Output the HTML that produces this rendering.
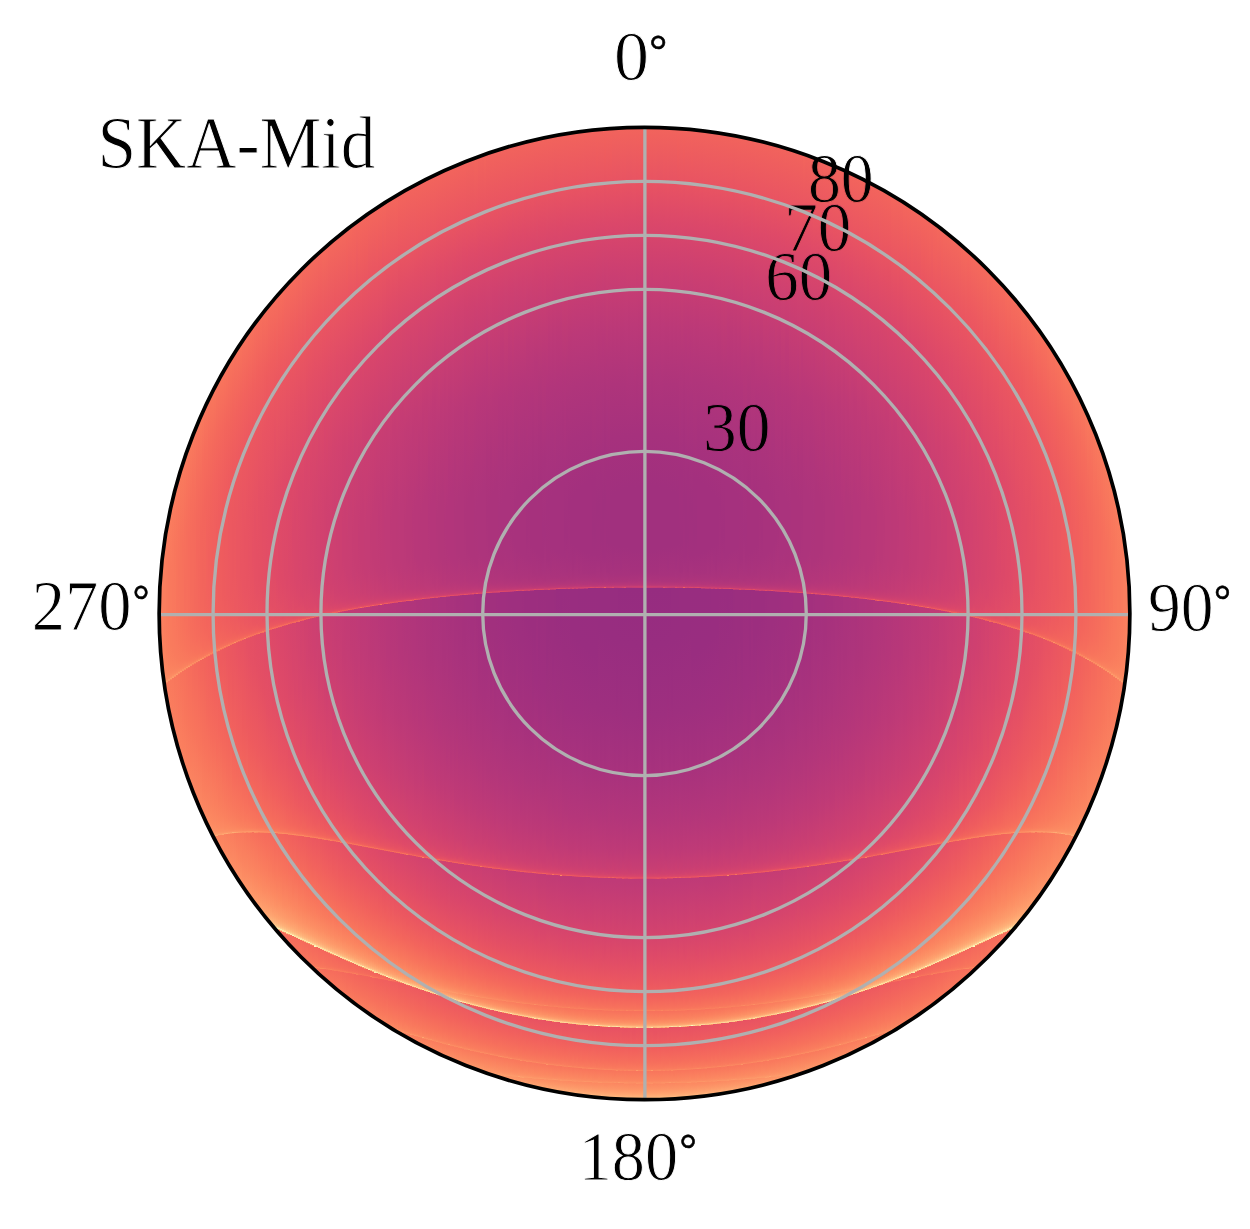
<!DOCTYPE html><html><head><meta charset="utf-8"><title>SKA-Mid</title><style>
html,body{margin:0;padding:0;background:#fff}
#p{position:relative;width:1250px;height:1229px;overflow:hidden;background:#fff}
#d{position:absolute;left:156px;top:126px;width:977px;height:977px;display:flex;clip-path:ellipse(485.4px 486.2px at 488.5px 487.5px)}
#d i{display:block;flex:0 0 2px;height:100%}
.c1{background:linear-gradient(#fa805f 456.5px,#fb835f 518.5px)}
.c2{background:linear-gradient(#fa7f5e 432.5px,#fa7f5e 491px,#fb8660 542.5px)}
.c3{background:linear-gradient(#fa7f5e 416.5px,#fa7d5e 476px,#fb835f 535.5px,#fb8761 547.5px,#fc8c63 554px,#fd9467 556.5px,#fd9869 557px,#fea571 558px,#fd9467 558.5px)}
.c4{background:linear-gradient(#fa7f5e 404.5px,#fa7d5e 422px,#fa7d5e 502.5px,#fb8560 544.5px,#fc8961 550.5px,#fc9065 555px,#fd9668 556px,#fe9d6c 556.5px,#fec68a 557px,#fec68a 557.5px,#fd9266 558px,#fa7d5e 558.5px,#fa7e5e 570.5px)}
.c5{background:linear-gradient(#fa7e5e 393.5px,#f97b5d 427px,#f97b5d 494.5px,#fa7f5e 527.5px,#fb8761 548.5px,#fc8c63 552.5px,#fd9266 554px,#fd9668 554.5px,#fe9d6c 555px,#fe9f6d 555.5px,#fd9668 556px,#fb8761 556.5px,#f97c5d 557px,#fa7f5e 581.5px)}
.c6{background:linear-gradient(#fa7d5e 383.5px,#f9795d 438px,#f9795d 485.5px,#fa7d5e 523px,#fa815f 539px,#fb8761 548.5px,#fc8c63 551.5px,#fc9065 552.5px,#fe9f6d 554px,#fd9668 554.5px,#fb8761 555px,#f97b5d 555.5px,#fa7f5e 591.5px)}
.c7{background:linear-gradient(#fa7d5e 374.5px,#f9785d 446px,#f97b5d 518.5px,#fa7f5e 536px,#fb8560 546.5px,#fc8d63 550.5px,#fd9266 551.5px,#fd9a6a 552px,#fe9d6c 552.5px,#fd9668 553px,#fb8761 553.5px,#f9795d 554px,#fa7f5e 600.5px)}
.c8{background:linear-gradient(#fa7d5e 366.5px,#f9785d 416.5px,#f9775d 455.5px,#f9785d 496px,#f97b5d 525px,#fa7f5e 538px,#fb8560 546px,#fc8961 548px,#fd9165 550px,#fd9869 550.5px,#fea570 551px,#fe9d6c 551.5px,#fb8360 552px,#f9785d 552.5px,#fa7f5e 608.5px)}
.c9{background:linear-gradient(#fa7d5e 358.5px,#f8765c 422px,#f9785d 508.5px,#f97b5d 529.5px,#fa815f 542px,#fb8761 546.5px,#fc8c63 548px,#fd9a6a 549.5px,#fd9869 550px,#fc8e64 550.5px,#fa7f5e 551px,#f8765c 551.5px,#fa815f 616.5px)}
.c10{background:linear-gradient(#fa7d5e 351.5px,#f9785d 386px,#f8745c 430.5px,#f8745c 478px,#f9785d 516.5px,#f97b5d 532.5px,#fa815f 542px,#fb8761 545.5px,#fc8a62 546.5px,#fd9266 547.5px,#fd9a6a 548px,#fe9d6c 548.5px,#fc9065 549px,#f9795d 549.5px,#f8765c 550px,#f9785d 572px,#fa815f 623.5px)}
.c11{background:linear-gradient(#fa7c5d 344.5px,#f8745c 407.5px,#f7725c 447px,#f8765c 511.5px,#f97b5d 534.5px,#fa815f 542px,#fc8961 545px,#fc9065 546px,#fd9869 546.5px,#fd9668 547px,#f97b5d 548px,#f8745c 548.5px,#f9795d 590px,#fa815f 621px,#fa815f 630.5px)}
.c12{background:linear-gradient(#f97b5d 338.5px,#f7725c 413.5px,#f7725c 488.5px,#f8765c 518px,#f97b5d 535.5px,#fa815f 541.5px,#fc8961 544px,#fc8c63 544.5px,#fe9d6c 545.5px,#fd9467 546px,#fa7d5e 546.5px,#f7725c 547px,#fb825f 636.5px)}
.c13{background:linear-gradient(#f97b5d 331.5px,#f7705c 420.5px,#f7725c 501px,#f8765c 523px,#f97b5d 536px,#fb835f 541.5px,#fb8761 542.5px,#fd9467 544px,#fd9266 544.5px,#f7715c 545.5px,#f9785d 592px,#fb835f 643.5px)}
.c14{background:linear-gradient(#f97b5d 326.5px,#f7705c 401px,#f66e5c 466.5px,#f7705c 495px,#f8745c 519px,#f9795d 534px,#fa815f 540px,#fc8861 541.5px,#fc8c63 542px,#fd9467 542.5px,#fd9366 543px,#fc8861 543.5px,#f9795d 544px,#f7705c 544.5px,#f8765c 588px,#fb835f 641.5px,#fb835f 648.5px)}
.c15{background:linear-gradient(#f97b5d 320.5px,#f8745c 359px,#f66e5c 406.5px,#f66e5c 450.5px,#f7705c 504.5px,#f8745c 523px,#f9795d 534.5px,#fa7f5e 538.5px,#fb8560 540px,#fc8961 540.5px,#fd9a6a 541.5px,#fd9265 542px,#f9785d 542.5px,#f66e5c 543px,#f8765c 594px,#fb8460 654.5px)}
.c16{background:linear-gradient(#f97a5d 314.5px,#f7705c 375px,#f66c5c 414px,#f66e5c 499px,#f8745c 525.5px,#f9795d 534.5px,#fa7e5e 537px,#fb8560 539px,#fc8a62 539.5px,#fd9b6b 540px,#fd9b6b 540.5px,#fb835f 541px,#f7725c 541.5px,#f66c5c 542px,#f8765c 599.5px,#fb8560 660.5px)}
.c17{background:linear-gradient(#f9795d 309.5px,#f9795d 320px,#f66e5c 378.5px,#f56b5c 424px,#f56b5c 466.5px,#f66e5c 506.5px,#f7725c 522.5px,#f9795d 534px,#fa7d5e 536px,#fb835f 537.5px,#fb8761 538px,#fd9869 539px,#fc9065 539.5px,#f8765c 540px,#f66c5c 540.5px,#f8745c 595.5px,#fa7d5e 636px,#fb8560 658.5px,#fb8560 665.5px)}
.c18{background:linear-gradient(#f9795d 304.5px,#f9795d 313.5px,#f7705c 355px,#f56b5c 402px,#f56b5c 485px,#f66e5c 512px,#f8745c 528px,#f97b5d 534.5px,#fb835f 536.5px,#fb8761 537px,#fc9065 537.5px,#fc9065 538px,#fa7f5e 538.5px,#f66e5c 539px,#f56b5c 539.5px,#f56b5c 546.5px,#f8765c 609.5px,#fb8761 670.5px)}
.c19{background:linear-gradient(#f9795d 299.5px,#f56b5c 387px,#f4695c 476px,#f66c5c 508px,#f7725c 526px,#f8765c 530.5px,#f97c5d 534px,#fb835f 535.5px,#fc8e64 536.5px,#fc8c63 537px,#f97b5d 537.5px,#f4695c 538px,#f4695c 541.5px,#f8745c 606px,#fb8761 675.5px)}
.c20{background:linear-gradient(#f9795d 294.5px,#f66e5c 349px,#f4695c 392.5px,#f4675c 423.5px,#f4695c 489px,#f66c5c 512.5px,#f8745c 529px,#f9795d 532.5px,#fa7d5e 533.5px,#fb8460 534.5px,#fc8e64 535px,#fc9065 535.5px,#f7705c 536.5px,#f4685c 537px,#f8745c 610.5px,#fb8861 680.5px)}
.c21{background:linear-gradient(#f9795d 290.5px,#f7705c 331px,#f4695c 379.5px,#f3665c 439px,#f4675c 481.5px,#f56b5c 508.5px,#f7725c 527px,#f9785d 531px,#fa7f5e 533px,#fb8560 533.5px,#fc9065 534px,#fd9366 534.5px,#fb835f 535px,#f66e5c 535.5px,#f4675c 536px,#f4675c 545px,#f8765c 623px,#fc8961 684.5px)}
.c22{background:linear-gradient(#f9785d 285.5px,#f9785d 296px,#f56b5c 355.5px,#f3655c 408px,#f3655c 471.5px,#f4695c 504px,#f66d5c 518.5px,#f8745c 528.5px,#f97a5d 531px,#fa7f5e 532px,#fb8560 532.5px,#fd9467 533px,#fd9b6b 533.5px,#fb8560 534px,#f3655c 534.5px,#f3655c 539.5px,#f8745c 619.5px,#fc8a62 689.5px)}
.c23{background:linear-gradient(#f9785d 281.5px,#f9785d 290px,#f66c5c 336px,#f3655c 391px,#f2645c 456px,#f4675c 499px,#f66c5c 520px,#f7725c 527px,#f8765c 529px,#f97b5d 530.5px,#fa7f5e 531px,#fb8761 531.5px,#fd9668 532px,#fd9668 532.5px,#f9795d 533px,#f2645c 533.5px,#f7725c 616px,#fa7f5e 662.5px,#fc8a62 693.5px)}
.c24{background:linear-gradient(#f9785d 277.5px,#f66c5c 328.5px,#f3655c 378px,#f2645c 476px,#f4675c 504.5px,#f66e5c 523.5px,#f8745c 527.5px,#f97b5d 529.5px,#fa7f5e 530px,#fc8a62 530.5px,#fc8e64 531px,#fb835f 531.5px,#f7705c 532px,#f2645c 532.5px,#f2645c 542.5px,#f7725c 620.5px,#fa7f5e 665.5px,#fc8c63 697.5px)}
.c25{background:linear-gradient(#f9785d 272.5px,#f66d5c 321.5px,#f3655c 367px,#f2625d 409.5px,#f2625d 464px,#f3655c 499.5px,#f56b5c 518.5px,#f66e5c 523.5px,#f8745c 527px,#f9785d 528px,#fa7f5e 529px,#fb8761 529.5px,#fc8961 530px,#f9795d 530.5px,#f4695c 531px,#f2625d 531.5px,#f2625d 536.5px,#f4695c 583.5px,#f8745c 631.5px,#fa7f5e 668px,#fc8e64 702.5px)}
.c26{background:linear-gradient(#f9785d 268.5px,#f66c5c 315px,#f2645c 372px,#f1605d 433.5px,#f2625d 478.5px,#f4675c 511px,#f66e5c 523.5px,#f7725c 525.5px,#f97b5d 527.5px,#fa7f5e 528px,#fd9467 529px,#fa815f 529.5px,#f1605d 530px,#f1605d 530.5px,#f4695c 589px,#f8765c 642px,#fb8560 685px,#fd9266 706.5px)}
.c27{background:linear-gradient(#f8775c 264.5px,#f56b5c 317.5px,#f2645c 362px,#f1605d 401px,#f1605d 468px,#f2645c 499.5px,#f4695c 517px,#f66c5c 521.5px,#f7735c 525px,#f9795d 526.5px,#fb8560 527.5px,#fb8660 528px,#f8735c 528.5px,#f1605d 529px,#f1605d 539.5px,#f66c5c 610.5px,#fa815f 678px,#fc8961 694.5px,#fc9065 704.5px,#fd9668 708.5px,#fd9a6a 709.5px,#fea16e 710.5px)}
.c28{background:linear-gradient(#f8765c 260.5px,#f8765c 269.5px,#f4695c 320.5px,#f2625d 367px,#f05f5e 417.5px,#f1605d 479.5px,#f2645c 503.5px,#f56b5c 520px,#f7705c 523.5px,#f8765c 525px,#fc8a62 527px,#f9785d 527.5px,#f05f5e 528px,#f1605d 547px,#f66c5c 615px,#f9785d 654.5px,#fb835f 684.5px,#fc8a62 698.5px,#fd9266 706px,#fd9c6b 709px,#fea16e 709.5px,#feaa74 710px,#fea671 710.5px,#fc9065 711px,#fb8761 711.5px,#fb8761 714.5px)}
.c29{background:linear-gradient(#f8765c 257.5px,#f8765c 264.5px,#f4695c 314px,#f2625d 357.5px,#f05f5e 394.5px,#f05f5e 469.5px,#f2625d 499px,#f4675c 515.5px,#f56b5c 520px,#f7705c 523px,#f9785d 524.5px,#fb8560 525.5px,#fb8460 526px,#f66e5c 526.5px,#ef5d5e 527px,#f2625d 566px,#f56b5c 611.5px,#fa7f5e 678px,#fb8761 694px,#fc9065 705px,#fd9869 708px,#fd9b6b 708.5px,#fea973 709.5px,#fe9d6c 710px,#fb8761 710.5px,#fc8961 717.5px)}
.c30{background:linear-gradient(#f8765c 253.5px,#f4695c 308px,#f2625d 349px,#ef5d5e 409px,#ef5d5e 454.5px,#f1605d 493.5px,#f3655c 513px,#f4695c 518px,#f66e5c 521.5px,#f9785d 523.5px,#fb8560 524.5px,#fb835f 525px,#f66e5c 525.5px,#ef5d5e 526px,#f05f5e 549px,#f66c5c 623px,#f9785d 660.5px,#fb835f 688.5px,#fc8a62 700.5px,#fd9266 706px,#fd9a6a 708px,#fe9f6d 708.5px,#feb078 709px,#feaa74 709.5px,#fc8a62 710px,#fb8560 710.5px,#fc8961 716.5px,#fc8961 721.5px)}
.c31{background:linear-gradient(#f8765c 249.5px,#f4695c 302px,#f1605d 354px,#ef5d5e 390px,#ef5d5e 470px,#f1605d 498px,#f4675c 516.5px,#f56b5c 519.5px,#f7735c 522px,#f97b5d 523px,#fb835f 523.5px,#fc8e64 524px,#fa7d5e 524.5px,#ee5b5e 525px,#ee5b5e 528px,#f4675c 604.5px,#f97b5d 673.5px,#fb8560 693.5px,#fc8c63 703px,#fd9165 705.5px,#fd9869 707.5px,#fea571 708.5px,#fe9d6c 709px,#fb8761 709.5px,#fb8560 710px,#fc8a62 725.5px)}
.c32{background:linear-gradient(#f8765c 246.5px,#f4675c 304.5px,#f05f5e 359.5px,#ee5b5e 404px,#ef5d5e 479.5px,#f1605d 501.5px,#f4675c 516.5px,#f56b5c 519px,#f7725c 521px,#f9795d 522px,#fb8761 522.5px,#fc8961 523px,#f7705c 523.5px,#ee5b5f 524px,#ee5b5e 536.5px,#f4675c 609px,#f97c5d 676px,#fb835f 692px,#fc8a62 702px,#fc9065 705.5px,#fd9668 707px,#fd9a6a 707.5px,#fea36f 708px,#fe9f6d 708.5px,#fc8c63 709px,#fb835f 709.5px,#fc8a62 728.5px)}
.c33{background:linear-gradient(#f8755c 242.5px,#f8745c 252px,#f4675c 299px,#f05f5e 350.5px,#ee5b5e 386.5px,#ee5b5e 469px,#f05f5e 497px,#f3655c 514.5px,#f4695c 517.5px,#f7705c 520px,#f9785d 521px,#fc8961 522px,#f8765c 522.5px,#ed5a5f 523px,#ed5a5f 529.5px,#f4675c 613.5px,#f7725c 652.5px,#fa7f5e 686.5px,#fc8962 701px,#fc9065 705.5px,#fd9467 706.5px,#fe9d6c 707.5px,#feb078 708px,#fea571 708.5px,#fb825f 709px,#fc8a62 726px,#fc8b63 732.5px)}
.c34{background:linear-gradient(#f8745c 239.5px,#f8745c 247.5px,#f3655c 302px,#ef5d5e 356.5px,#ed5a5f 401px,#ee5b5e 478px,#f05f5e 500px,#f3655c 514.5px,#f66d5c 518.5px,#f7725c 519.5px,#f9775d 520px,#fb8560 520.5px,#fb8661 521px,#f8775c 521.5px,#f3655c 522px,#ec595f 522.5px,#f2645c 602px,#f66d5c 638px,#f9795d 676px,#fb835f 695px,#fc8a62 703px,#fd9266 706px,#fd9a6a 707px,#fea570 707.5px,#fe9d6c 708px,#fb8661 708.5px,#fa815f 709px,#fc8c63 735.5px)}
.c35{background:linear-gradient(#f8745c 235.5px,#f8745c 242.5px,#f3655c 296.5px,#ef5d5e 348px,#ed5a5f 384px,#ed5a5f 467.5px,#ef5d5e 495px,#f2625d 510.5px,#f4695c 516.5px,#f7705c 518.5px,#fb835f 520px,#f8745c 520.5px,#ef5d5e 521px,#ec5860 521.5px,#ec5860 530px,#f2645c 606.5px,#f66e5c 647.5px,#f97b5d 682.5px,#fb835f 696px,#fc8961 702px,#fc9065 705.5px,#fd9768 706.5px,#fe9e6c 707px,#feaa74 707.5px,#fe9d6c 708px,#fa7f5e 708.5px,#fc8c63 733.5px,#fc8d63 739.5px)}
.c36{background:linear-gradient(#f8745c 232.5px,#f2645c 299.5px,#ee5b5e 354px,#ec5860 400px,#ed5a5f 476.5px,#f05f5e 504px,#f3655c 514px,#f4695c 516px,#f7705c 517.5px,#f97a5d 518.5px,#fc8c63 519px,#fb8560 519.5px,#f1615d 520px,#eb5760 520.5px,#eb5760 521.5px,#ee5b5e 564.5px,#f2645c 610.5px,#f66e5c 650.5px,#f9795d 680.5px,#fa815f 694.5px,#fc8961 702.5px,#fc8e64 705px,#fd9467 706px,#fd9a6a 706.5px,#fea772 707px,#fd9b6b 707.5px,#fa7f5e 708px,#fc8e64 742.5px)}
.c37{background:linear-gradient(#f8745c 229.5px,#f2645c 294px,#ee5b5e 346px,#ec5860 383px,#ec5860 465.5px,#ee5b5e 493.5px,#f2625d 511px,#f56b5c 516px,#f7725c 517px,#f9785d 517.5px,#fa815f 518px,#f97b5d 518.5px,#f3655c 519px,#eb5760 519.5px,#eb5760 531px,#f2625d 607px,#f8765c 674px,#fa7d5e 690px,#fb8560 700px,#fc8c63 704.5px,#fd9567 706px,#fd9c6b 706.5px,#fe9f6d 707px,#fc9065 707.5px,#fa7d5e 708px,#fb8761 729px,#fc8e64 740.5px,#fc8e64 745.5px)}
.c38{background:linear-gradient(#f8745c 226.5px,#f3655c 281px,#ee5b5e 338.5px,#eb5760 402px,#eb5760 448.5px,#ed5a5f 488px,#f05f5d 506.5px,#f3665c 513.5px,#f66c5c 515.5px,#f8745c 516.5px,#fa7d5e 517px,#fa7f5e 517.5px,#f56b5c 518px,#ea5661 518.5px,#ea5661 522.5px,#ed5a5f 565px,#f2625d 611.5px,#f66c5c 651px,#f9795d 684.5px,#fa815f 697px,#fc8a62 704px,#fc8e64 705px,#fd9668 706px,#feac76 706.5px,#fea973 707px,#fb8761 707.5px,#fa7d5e 708px,#fc9065 748.5px)}
.c39{background:linear-gradient(#f7735c 222.5px,#f2625d 292px,#ed5a5f 344.5px,#eb5760 383.5px,#ec5860 481.5px,#ef5d5e 503.5px,#f2645c 512px,#f56b5c 514.5px,#f7725c 515.5px,#f97b5d 516px,#fd9266 516.5px,#fc8961 517px,#ef5d5e 517.5px,#ea5561 518px,#ea5661 531.5px,#f2625d 615.5px,#f66c5c 654px,#f9795d 686.5px,#fa815f 698px,#fc8962 703.5px,#fd9266 705.5px,#fd9869 706px,#fea973 706.5px,#fe9d6c 707px,#f97b5d 707.5px,#fd9266 752.5px)}
.c40{background:linear-gradient(#f7725c 219.5px,#f7725c 227.5px,#f2625d 287px,#ed5a5f 337px,#ea5661 405.5px,#ea5661 446px,#ec5960 487px,#f05f5d 507.5px,#f2625d 510.5px,#f4695c 513.5px,#f8765c 515px,#fa815f 515.5px,#f9785d 516px,#ef5d5e 516.5px,#e95462 517px,#e95462 523.5px,#f1605d 612px,#f4695c 645.5px,#f8745c 676.5px,#f97b5d 691.5px,#fb835f 700.5px,#fc8961 703.5px,#fc8e64 705px,#fd9266 705.5px,#fd9b6b 706px,#fea16e 706.5px,#fc9065 707px,#f9795d 707.5px,#fc8961 738px,#fd9266 751.5px,#fd9266 755.5px)}
.c41{background:linear-gradient(#f7725c 216.5px,#f7725c 223.5px,#f2625d 282px,#ed5a5f 330px,#ea5661 385.5px,#ea5661 462.5px,#ec5860 490.5px,#f05f5e 507.5px,#f4675c 512.5px,#f66d5c 513.5px,#f7725c 514px,#fa7d5e 514.5px,#f97b5d 515px,#f2625d 515.5px,#e85362 516px,#e95462 532.5px,#f1605d 616px,#f56b5c 654.5px,#f8745c 678.5px,#f97b5d 693px,#fb835f 701px,#fb8761 703px,#fc8e64 705px,#fd9467 705.5px,#fea36f 706px,#fd9969 706.5px,#f9795d 707px,#fa815f 726px,#fc8e64 749px,#fd9266 752.5px,#fd9467 758.5px)}
.c42{background:linear-gradient(#f7725c 213.5px,#f7725c 219.5px,#f2645c 269.5px,#ed5a5f 323.5px,#ea5661 372px,#e95462 443px,#eb5760 485.5px,#ee5b5e 503px,#f2625d 510px,#f56b5c 512.5px,#f7705c 513px,#f9795d 513.5px,#f9795d 514px,#f66d5c 514.5px,#ef5d5e 515px,#e85362 515.5px,#e85362 524.5px,#f05f5e 612.5px,#f4675c 646px,#f8745c 681px,#f97b5d 694.5px,#fa815f 700.5px,#fc8961 704px,#fc8e64 705px,#fd9467 705.5px,#fe9f6d 706px,#fd9366 706.5px,#f9785d 707px,#fb8560 735px,#fd9467 756.5px,#fd9567 761.5px)}
.c43{background:linear-gradient(#f7725c 210.5px,#f2625d 272.5px,#ec5860 329.5px,#e95462 387.5px,#e95462 460.5px,#eb5760 489px,#ef5d5e 506px,#f2625d 509.5px,#f4695c 511.5px,#f66c5c 512px,#f8735c 512.5px,#fa7f5e 513px,#f8765c 513.5px,#ed5a5f 514px,#e75263 514.5px,#e75263 515px,#ee5b5e 600.5px,#f2645c 637px,#f66e5c 670px,#f9785d 690px,#fa7f5e 699.5px,#fb8560 703px,#fc8a62 704.5px,#fd9a6a 706px,#fc8a62 706.5px,#f9785d 707px,#fa815f 730px,#fc8c63 749.5px,#fd9668 761px,#fd9668 764.5px)}
.c44{background:linear-gradient(#f7725c 207.5px,#f2625d 268px,#ec5860 323px,#e85362 413px,#e95462 470.5px,#ec5860 497.5px,#f05f5d 507.5px,#f4675c 510.5px,#f66e5c 511.5px,#fc8861 512px,#fc9065 512.5px,#f66e5c 513px,#e75263 513.5px,#e75263 525px,#ee5c5e 605px,#f3655c 646.5px,#f7705c 677px,#f9795d 694.5px,#fa815f 701.5px,#fc8a62 704.5px,#fc8e64 705px,#fd9668 705.5px,#fea16e 706px,#fd9266 706.5px,#f8765c 707px,#fb8560 739px,#fc8c63 751px,#fd9668 761.5px,#fd9869 767.5px)}
.c45{background:linear-gradient(#f7725c 205.5px,#f2645c 256.5px,#ec5860 317px,#e85362 390px,#e85362 459px,#ea5661 487.5px,#ed5a5f 502px,#f1605d 508px,#f4675c 510px,#f9795d 511.5px,#f56b5c 512px,#e95462 512.5px,#e55064 513px,#e55064 516px,#ed5a5f 601px,#f56b5c 665.5px,#f8745c 687px,#fa7d5e 699.5px,#fa815f 702px,#fb8761 704px,#fc8e64 705px,#fd9869 705.5px,#fd9768 706px,#fb835f 706.5px,#f8755c 707px,#f8765c 710.5px,#fb8761 744px,#fd9a6a 769.5px)}
.c46{background:linear-gradient(#f7715c 202.5px,#f2625d 259.5px,#ec5860 311px,#e85362 376px,#e75263 434px,#e95462 482.5px,#ec5860 500px,#ee5c5e 504.5px,#f1605d 507.5px,#f4695c 509.5px,#f66e5c 510px,#f9785d 510.5px,#f8765c 511px,#f05f5e 511.5px,#e55064 512px,#e55064 526px,#ee5b5e 613px,#f3655c 652.5px,#f66e5c 677px,#f9785d 694.5px,#fa7f5e 701.5px,#fc8a62 704.5px,#fc8e64 705px,#fd9869 705.5px,#fe9f6d 706px,#fc8c63 706.5px,#f8745c 707px,#fb8560 742.5px,#fd9b6b 772.5px)}
.c47{background:linear-gradient(#f7705c 199.5px,#f7705c 206.5px,#f05f5e 270.5px,#eb5760 317px,#e75263 392px,#e75263 457px,#e95462 486.5px,#ed5a5f 502.5px,#f05f5e 506.5px,#f2645c 508px,#f56b5c 509px,#f9795d 510px,#f56b5c 510.5px,#e95462 511px,#e44f64 511.5px,#e55064 535px,#ee5b5e 617px,#f3655c 655.5px,#f66e5c 679.5px,#f8765c 693px,#fa7f5e 702px,#fc8961 704.5px,#fc8e64 705px,#fd9a6a 705.5px,#fd9b6b 706px,#fb8761 706.5px,#f7725c 707px,#fb8761 747.5px,#fe9d6c 775.5px)}
.c48{background:linear-gradient(#f7705c 196.5px,#f7705c 203px,#f1605d 258.5px,#eb5760 311px,#e75263 377.5px,#e65064 430.5px,#e85362 481px,#eb5760 498.5px,#f05f5e 506px,#f4675c 508px,#f66c5c 508.5px,#f8775c 509px,#f8745c 509.5px,#ef5d5e 510px,#e44f65 510.5px,#e55064 543px,#ee5b5e 621px,#f2645c 652.5px,#f66e5c 681.5px,#f8765c 694.5px,#fa7d5e 701.5px,#fb8560 704px,#fc8c63 705px,#fd9969 705.5px,#fc8d63 706px,#f7725c 706.5px,#f7725c 709px,#fc8961 752px,#fd9467 766.5px,#fe9d6c 774.5px,#fe9f6d 778.5px)}
.c49{background:linear-gradient(#f7705c 194.5px,#f05f5e 262px,#ea5661 317.5px,#e55064 394px,#e55064 455px,#e85362 485px,#eb5760 499px,#f05f5e 505.5px,#f2625d 506.5px,#f4695c 507.5px,#f8765c 508.5px,#f4695c 509px,#e85362 509.5px,#e34e65 510px,#e44f64 535.5px,#ed5a5f 617.5px,#f2645c 655.5px,#f66e5c 683.5px,#f8765c 695.5px,#fa7d5e 702px,#fb8761 704.5px,#fc8c63 705px,#fea36f 706px,#fc9065 706.5px,#f7705c 707px,#fb8560 748px,#fc9065 763.5px,#fe9f6d 777px,#fea16e 780.5px)}
.c50{background:linear-gradient(#f7705c 191.5px,#f1605d 250.5px,#eb5760 300.5px,#e75263 357.5px,#e54f64 428.5px,#e55064 465.5px,#ea5661 497px,#ef5d5e 504.5px,#f3655c 506.5px,#f56b5c 507px,#f8745c 507.5px,#f7705c 508px,#ed5a5f 508.5px,#e24d66 509px,#e44f64 543.5px,#ee5b5e 628px,#f2645c 658.5px,#f66e5c 685.5px,#f8765c 697px,#f97b5d 701.5px,#fa7f5e 703px,#fb8761 704.5px,#fc8a62 705px,#fd9668 705.5px,#fe9d6c 706px,#fc8a62 706.5px,#f7705c 707px,#f7705c 709.5px,#fb8761 752.5px,#fc9065 765px,#fea16e 779.5px,#fea36f 783.5px)}
.c51{background:linear-gradient(#f7705c 188.5px,#f1605d 246.5px,#ea5661 306.5px,#e55064 368.5px,#e44f64 452.5px,#e75263 483.5px,#eb5760 499.5px,#ee5c5e 503.5px,#f1605d 505px,#f4675c 506px,#f66d5c 506.5px,#fa7d5e 507px,#f9795d 507.5px,#ef5c5e 508px,#e24d66 508.5px,#e44f64 550.5px,#ed5a5f 625px,#f4695c 675.5px,#f7725c 693.5px,#f9795d 701px,#fa805e 703.5px,#fb8560 704.5px,#fc8961 705px,#fd9366 705.5px,#fd9266 706px,#fa7f5e 706.5px,#f66e5c 707px,#f66e5c 707.5px,#f9785d 728px,#fc8961 757px,#fd9467 770.5px,#fe9d6c 778.5px,#fea36f 781.5px,#fea772 786.5px)}
.c52{background:linear-gradient(#f7705c 186.5px,#f05f5e 250px,#ea5661 301px,#e44f64 381.5px,#e44f64 463.5px,#e75263 486px,#eb5760 500px,#ee5b5e 503px,#f1605d 504.5px,#f4685c 505.5px,#f7725c 506px,#f8765c 506.5px,#f1605d 507px,#e04c67 507.5px,#e44f64 557.5px,#ed5a5f 628.5px,#f56b5c 682px,#f8745c 697px,#f9795d 701.5px,#fb835f 704.5px,#fd9668 706px,#fb8560 706.5px,#f66e5c 707px,#f66e5c 710px,#fa7f5e 744px,#fc8961 758.5px,#fd9467 772px,#fea06d 781px,#fea571 783.5px,#fea974 788.5px)}
.c53{background:linear-gradient(#f66f5c 183.5px,#f05f5e 246px,#e95462 307.5px,#e34e65 399px,#e44f64 471px,#e85362 493px,#ec5860 501px,#ef5d5e 503px,#f2645c 504.5px,#f56a5c 505px,#f9785d 505.5px,#fb835f 506px,#f56b5c 506.5px,#e04c67 507px,#e44f64 563.5px,#ed5a5f 632px,#f2625d 661.5px,#f56b5c 684px,#f7725c 696px,#f9785d 701px,#fa7f5e 704px,#fb8761 705px,#fd9467 706px,#fb8560 706.5px,#f66c5c 707px,#f66c5c 708px,#fa7d5e 742.5px,#fc8c63 765px,#fd9b6b 779.5px,#feaa74 787.5px,#feae77 791.5px)}
.c54{background:linear-gradient(#f66e5c 181.5px,#f66e5c 188.5px,#ef5d5e 249.5px,#e95462 302px,#e34e65 383px,#e34e65 461.5px,#e55064 484.5px,#ea5661 498.5px,#ed5a5f 501.5px,#f1615d 503.5px,#f3655c 504px,#f8745c 505px,#f4675c 505.5px,#e55064 506px,#df4a68 506.5px,#e44f64 569.5px,#ed5a5f 635.5px,#f2645c 669px,#f66c5c 689px,#f8745c 699px,#f9795d 702.5px,#fa815f 704.5px,#fb8560 705px,#fc8a62 705.5px,#fd9869 706px,#fc8962 706.5px,#f56c5c 707px,#f66c5c 710.5px,#fa7d5e 744.5px,#fc8c63 766.5px,#fe9d6c 782px,#feb078 791px,#feb27a 793.5px)}
.c55{background:linear-gradient(#f66e5c 178.5px,#f66e5c 185px,#ee5b5e 253px,#e95462 297.5px,#e34e65 371.5px,#e24d66 447px,#e44f64 480px,#e95461 497px,#ec5860 500.5px,#f05f5e 502.5px,#f3665c 503.5px,#f7725c 504px,#f8765c 504.5px,#f05f5e 505px,#df4a68 505.5px,#e55064 585px,#ee5b5e 645px,#f2645c 671.5px,#f66d5c 691px,#f7725c 698px,#f9795d 703px,#fb835f 705px,#fc8961 705.5px,#fd9668 706px,#fc8961 706.5px,#f56b5c 707px,#f8745c 729px,#fb835f 755.5px,#fd9467 776px,#fea16e 785.5px,#fea973 789px,#feb47b 792.5px,#febb81 796.5px)}
.c56{background:linear-gradient(#f66e5c 176.5px,#ef5d5e 242px,#e95462 292.5px,#e24d66 385.5px,#e24d66 459.5px,#e44f64 483px,#e95462 497px,#eb5760 499.5px,#f05f5e 502px,#f4675c 503px,#f9795d 503.5px,#f7705c 504px,#e65164 504.5px,#de4968 505px,#e55064 590px,#ee5b5e 648px,#f56b5c 689.5px,#f7725c 699px,#f9795d 703.5px,#fa815f 705px,#fb8761 705.5px,#fd9467 706px,#fc8e64 706.5px,#f8745c 707px,#f56a5c 707.5px,#f97b5d 745px,#fc8962 765px,#fd9869 780.5px,#fea973 790px,#feb97f 794.5px,#fec488 798.5px)}
.c57{background:linear-gradient(#f66e5c 173.5px,#ef5d5e 238.5px,#e95462 288px,#e24d66 373.5px,#e04c67 443px,#e34e65 478.5px,#e85362 495.5px,#ed5a5f 500.5px,#f2625d 502px,#f7705c 503px,#f2645c 503.5px,#e44f64 504px,#de4968 504.5px,#e04c67 552px,#e85362 611px,#ef5d5e 656.5px,#f56b5c 691px,#f7725c 700px,#f8765c 702.5px,#fa7f5e 705px,#fb835f 705.5px,#fc8c63 706px,#fc9065 706.5px,#fa7e5e 707px,#f4695c 707.5px,#f8745c 733px,#fb8560 761.5px,#fd9467 778.5px,#fea571 789.5px,#feb179 793.5px,#feba80 795.5px,#fec68a 797.5px,#fece91 799.5px,#fddc9e 801.5px)}
.c58{background:linear-gradient(#f66e5c 171.5px,#ef5d5e 235px,#e85362 294px,#e04c67 387.5px,#e04c67 457px,#e34e65 481.5px,#e85362 495.5px,#ec5860 499.5px,#f05f5e 501px,#f2645c 501.5px,#f66e5c 502px,#f8745c 502.5px,#f05f5d 503px,#dc4869 503.5px,#e34e65 580.5px,#ec5860 642px,#f1605d 669.5px,#f4695c 689.5px,#f66e5c 697.5px,#f8765c 703px,#fa7d5e 705px,#fa815f 705.5px,#fc9065 706.5px,#fa815f 707px,#f4685c 707.5px,#f9795d 745.5px,#fc8961 768px,#fd9b6b 785.5px,#fea571 790.5px,#feaf77 794px,#febd82 797px,#fecb8e 798.5px,#fde3a5 800.5px,#fdebac 801px,#fcf7b9 801.5px,#fcfdbf 802px,#fcfdbf 803px,#febd82 803.5px)}
.c59{background:linear-gradient(#f66e5c 169.5px,#f1605d 218.5px,#eb5760 261.5px,#e55064 312px,#e04c67 375.5px,#df4a68 438.5px,#e44f64 488.5px,#e75263 494px,#eb5760 498.5px,#f05f5d 500.5px,#f3655c 501px,#f66e5c 501.5px,#f7725c 502px,#ef5d5e 502.5px,#dc4869 503px,#e04c67 564.5px,#ea5661 633px,#f05f5e 667px,#f66c5c 696.5px,#f7725c 701.5px,#f8765c 703.5px,#f97b5d 705px,#fb8560 706px,#fd9869 706.5px,#fc8c63 707px,#f4675c 707.5px,#f66e5c 726px,#f97b5d 750.5px,#fc8961 769.5px,#fd9266 779.5px,#fea16e 790px,#feaf77 795px,#feb77e 797px,#febe83 798px,#fecc8f 799.5px,#fed597 800px,#fde2a3 800.5px,#fcfdbf 801px,#fcfbbd 802px,#f66e5c 802.5px,#f66e5c 805.5px)}
.c60{background:linear-gradient(#f66e5c 166.5px,#eb5760 257.5px,#e04c67 365.5px,#df4a68 454.5px,#e34e65 485.5px,#e75263 494px,#ea5661 497.5px,#ee5c5e 499.5px,#f3655c 500.5px,#f7725c 501px,#f66e5c 501.5px,#ea5661 502px,#db476a 502.5px,#e24d66 581px,#eb5760 642.5px,#f2625d 678.5px,#f56b5c 695.5px,#f7705c 701px,#f9785d 704.5px,#fb825f 706px,#fc8c63 706.5px,#fc8961 707px,#f7705c 707.5px,#f3665c 708px,#f9785d 746px,#fa815f 761px,#fc9065 779px,#fd9668 784px,#fea36f 792px,#feae77 796px,#feb77e 798px,#fec287 799.5px,#fecd90 800.5px,#fed799 801px,#fde7a9 801.5px,#fcfdbf 802px,#fcf7b9 802.5px,#fc8c63 803px,#f66e5c 803.5px,#f66e5c 808.5px)}
.c61{background:linear-gradient(#f66d5c 164.5px,#ef5d5e 225px,#ea5661 262px,#e04c67 357px,#de4968 429px,#df4a68 463px,#e34e65 487px,#e95462 496.5px,#ee5c5e 499px,#f1605d 499.5px,#f66f5c 500.5px,#f3655c 501px,#e55064 501.5px,#db476a 502px,#df4a68 564.5px,#e95462 633px,#f05f5e 672px,#f56b5c 696.5px,#f66e5c 700.5px,#f9775d 704.5px,#fa7f5e 706px,#fb8761 706.5px,#fd9266 707px,#fb835f 707.5px,#f3655c 708px,#f8765c 744.5px,#fc8961 772.5px,#fd9a6a 788px,#fea36f 793px,#feae77 797px,#feb77e 799px,#fec88c 801px,#fed89a 802px,#fcf2b4 802.5px,#fcf4b6 803px,#fec185 803.5px,#f66c5c 804px,#f66e5c 805px,#f66e5c 810.5px)}
.c62{background:linear-gradient(#f66d5c 162.5px,#f66c5c 169.5px,#ed5a5f 235.5px,#e75263 286.5px,#df4a68 367.5px,#de4968 451.5px,#e04c67 478px,#e65064 493px,#ea5661 497px,#ee5c5e 498.5px,#f1605d 499px,#f56a5c 499.5px,#f9795d 500px,#f4685c 500.5px,#d9466b 501px,#df4a68 570.5px,#e95462 636.5px,#f05f5d 674.5px,#f56b5c 698px,#f7725c 703.5px,#f9795d 705.5px,#fb835f 706.5px,#fd9266 707px,#fb8761 707.5px,#f2645c 708px,#f8765c 746.5px,#fc8961 774px,#fd9a6a 789px,#fea36f 794px,#feac76 797.5px,#feb77e 800px,#fec287 801.5px,#fecf92 802.5px,#fdda9c 803px,#fceeb0 803.5px,#fcf1b2 804px,#fec488 804.5px,#f66c5c 805px,#f66f5c 812.5px)}
.c63{background:linear-gradient(#f66c5c 159.5px,#f66c5c 166.5px,#f2625d 199.5px,#ea5661 254.5px,#df4a68 358.5px,#dd4969 427.5px,#de4968 460.5px,#e24d66 485.5px,#e55064 493px,#e95462 496px,#ee5c5e 498px,#f1605d 498.5px,#f66e5c 499px,#f66c5c 499.5px,#e85362 500px,#d9466b 500.5px,#df4a68 576px,#e95462 639.5px,#f05f5e 676.5px,#f56b5c 699px,#f7725c 704px,#f9785d 705.5px,#fa7f5e 706.5px,#fc8961 707px,#fc8e64 707.5px,#f97b5d 708px,#f2645c 708.5px,#f8745c 745px,#fa815f 766px,#fc8c63 779.5px,#fd9c6b 791.5px,#fea571 796px,#feb078 799.5px,#febb81 801.5px,#feca8d 803px,#fed194 803.5px,#fddd9e 804px,#fcecae 804.5px,#fcf6b8 805px,#fed395 805.5px,#f66c5c 806px,#f7705c 815.5px)}
.c64{background:linear-gradient(#f66c5c 157.5px,#ea5661 251px,#df4a68 351px,#dc4869 447.5px,#e04c67 482.5px,#e34e65 489.5px,#e85362 495px,#ee5c5e 497.5px,#f2625d 498px,#f66c5c 498.5px,#f56b5c 499px,#e95462 499.5px,#d8456c 500px,#de4968 570.5px,#e75263 630px,#ef5d5e 674.5px,#f4695c 698px,#f66c5c 701.5px,#f8765c 705.5px,#fa7c5d 706.5px,#fc8c63 707.5px,#fa7d5e 708px,#f2625d 708.5px,#f8745c 747px,#fc8a62 779px,#fd9a6a 791.5px,#fea16e 795.5px,#feb078 800.5px,#febf84 803px,#feca8d 804px,#fed395 804.5px,#fcefb1 805.5px,#fddd9f 806px,#fd9a6a 806.5px,#f66c5c 807px,#f7705c 813px,#f7705c 817.5px)}
.c65{background:linear-gradient(#f66c5c 155.5px,#ea5661 247.5px,#e34e65 305px,#de4968 360.5px,#dc4869 458px,#e04c67 484px,#e75263 494px,#ec5860 496.5px,#f2625d 497.5px,#f66c5c 498px,#f66c5c 498.5px,#ea5661 499px,#d7456c 499.5px,#de4968 575.5px,#e85362 639.5px,#ef5d5e 676.5px,#f4675c 697px,#f56b5c 701px,#f7725c 705px,#f9795d 706.5px,#fa7f5e 707px,#fc8c63 707.5px,#fb835f 708px,#f4675c 708.5px,#f2625d 709px,#f8765c 752px,#fc8b62 780.5px,#fd9869 791.5px,#fea370 797.5px,#feb078 801.5px,#febb81 803.5px,#fec488 804.5px,#fed395 805.5px,#fcf2b4 806.5px,#fcf0b2 807px,#fec287 807.5px,#f66c5c 808px,#f7705c 814.5px,#f7705c 819.5px)}
.c66{background:linear-gradient(#f66c5c 153.5px,#ea5661 244.5px,#de4968 352.5px,#db476a 443px,#df4a68 481px,#e34e65 490px,#e95462 495px,#ee5c5e 496.5px,#f66c5c 497.5px,#f1605d 498px,#de4968 498.5px,#d6456c 499px,#dc4869 570px,#e55064 630px,#ed5a5f 670px,#f3655c 696px,#f66c5c 703px,#f7725c 705.5px,#f97b5d 707px,#fb835f 707.5px,#fc8e64 708px,#fa7f5e 708.5px,#f1615d 709px,#f7705c 744px,#fb8560 775.5px,#fd9668 791.5px,#fe9e6c 796px,#fea973 800.5px,#feb67c 803.5px,#fec589 805.5px,#fed597 806.5px,#fde9aa 807px,#fde9aa 807.5px,#fec88c 808px,#fd9467 808.5px,#f66c5c 809px,#f7715c 821.5px)}
.c67{background:linear-gradient(#f66c5c 151.5px,#ef5d5e 206.5px,#e95462 249px,#e24d66 306.5px,#dc4869 362.5px,#db476a 455px,#df4a68 482.5px,#e24d66 488.5px,#e75263 493.5px,#ea5661 495px,#ee5c5e 496px,#f66c5c 497px,#ed5a5f 497.5px,#d6446d 498px,#db476a 564.5px,#e55064 633.5px,#ee5c5e 677px,#f4675c 699.5px,#f66c5c 703.5px,#f8735c 706px,#fa7d5e 707.5px,#fc8a62 708px,#fb835f 708.5px,#f4695c 709px,#f1605d 709.5px,#f66e5c 742.5px,#fb8560 777px,#fd9668 792.5px,#fe9f6d 798px,#fea973 801.5px,#feb078 803.5px,#fec185 806px,#fecd90 807px,#fed799 807.5px,#fde7a9 808px,#fceeb0 808.5px,#fec88c 809px,#f56b5c 809.5px,#f7725c 823.5px)}
.c68{background:linear-gradient(#f66c5c 149.5px,#ee5b5e 210px,#e85362 254px,#df4a68 325.5px,#d9466b 407.5px,#db476a 462px,#e04c67 486.5px,#e55064 492.5px,#ea5661 494.5px,#ee5c5e 495.5px,#f56b5c 496.5px,#ec5860 497px,#d5446d 497.5px,#d8456c 544.5px,#e44f64 630px,#ea5661 660px,#f05f5e 687px,#f3655c 698.5px,#f66d5c 704.5px,#f8765c 707px,#f9795d 707.5px,#fc8c63 708.5px,#f97c5d 709px,#f0605d 709.5px,#f1605d 713px,#f4695c 733.5px,#f97b5d 766px,#fc8a62 784.5px,#fd9869 795px,#fea772 802px,#feb67c 805.5px,#fec185 807px,#fecd90 808px,#fed89a 808.5px,#fcf2b3 809px,#fcfdbf 809.5px,#fed89a 810px,#f56b5c 810.5px,#f7725c 821.5px,#f7725c 825.5px)}
.c69{background:linear-gradient(#f66c5c 147.5px,#ec5860 220.5px,#e34e65 287px,#d9466b 389px,#d9466b 451.5px,#de4968 481px,#e44f64 491.5px,#e85362 493.5px,#ee5b5e 495px,#f3655c 495.5px,#f9785d 496px,#f4675c 496.5px,#d5446d 497px,#d9466b 564px,#e44f64 633.5px,#ec5860 672.5px,#f2645c 697.5px,#f66c5c 705px,#f8745c 707px,#f9785d 707.5px,#fa7d5e 708px,#fc8a62 708.5px,#fb8761 709px,#f66c5c 709.5px,#f05f5e 710px,#f7725c 753px,#fb8761 782px,#fd9668 795px,#fea772 803px,#feb078 805.5px,#fec185 808px,#fecf92 809px,#fdda9c 809.5px,#fdecae 810px,#fde2a3 810.5px,#fea973 811px,#f56b5c 811.5px,#f7725c 822.5px,#f7725c 827.5px)}
.c70{background:linear-gradient(#f56c5c 145.5px,#ef5d5e 198px,#e95462 239px,#e24d66 293px,#db476a 357px,#d8466b 425.5px,#d9466b 459.5px,#de4968 482px,#e04c67 487.5px,#e55064 492px,#eb5760 494px,#ee5b5e 494.5px,#f3655c 495px,#f4695c 495.5px,#e95462 496px,#d3436e 496.5px,#db476a 580.5px,#e55064 643px,#ed5a5f 679px,#f3655c 700.5px,#f66c5c 705.5px,#f8745c 707.5px,#f9795d 708px,#fc8a62 709px,#f9795d 709.5px,#f05e5e 710px,#f2645c 726px,#f7705c 751.5px,#fb8761 783.5px,#fd9467 795px,#fea571 803.5px,#feb078 806.5px,#febd82 808.5px,#fecf92 810px,#fcecae 811px,#fddb9d 811.5px,#fd9869 812px,#f56b5c 812.5px,#f8745c 829.5px)}
.c71{background:linear-gradient(#f56b5c 143.5px,#ec5860 214.5px,#e34e65 279px,#d9466b 367.5px,#d8456c 447.5px,#dc4869 479px,#e34e65 490px,#e95462 493px,#ee5b5e 494px,#f4675c 494.5px,#fa7d5e 495px,#f66c5c 495.5px,#d3436e 496px,#d8456c 563.5px,#e55064 646px,#ec5860 677px,#f2645c 700px,#f4695c 704.5px,#f7725c 707.5px,#f97b5d 708.5px,#fb8761 709px,#fa815f 709.5px,#f3655c 710px,#ef5d5e 710.5px,#ef5d5e 711px,#f7725c 756.5px,#fa7f5e 776px,#fc8a62 788.5px,#fd9668 797.5px,#fe9d6c 801.5px,#fea571 804.5px,#feb078 807.5px,#febd82 809.5px,#fec88c 810.5px,#fed194 811px,#fceeb0 812px,#fde5a7 812.5px,#feb179 813px,#f56b5c 813.5px,#f8745c 828px,#f8745c 831.5px)}
.c72{background:linear-gradient(#f56b5c 141.5px,#f56b5c 147.5px,#eb5760 218.5px,#e44f64 266px,#d9466b 359px,#d7456c 420.5px,#d9466b 468.5px,#df4a68 486px,#e34e65 490px,#e75263 492px,#ee5b5e 493.5px,#f4675c 494px,#f4695c 494.5px,#e75263 495px,#d2426f 495.5px,#d3436e 526px,#df4a68 615.5px,#e55064 649px,#ec5860 679px,#f1605d 696.5px,#f4675c 704px,#f56b5c 706px,#f7735c 708px,#fb8560 709.5px,#f7725c 710px,#ef5d5e 710.5px,#ef5d5e 713.5px,#f4695c 741.5px,#f9785d 767px,#fb835f 782px,#fd9467 797.5px,#fea36f 805px,#feb67c 809.5px,#fec287 811px,#fed395 812px,#fde5a7 812.5px,#fcfbbd 813px,#fde3a5 813.5px,#fc8e64 814px,#f56b5c 814.5px,#f8745c 829px,#f8745c 833.5px)}
.c73{background:linear-gradient(#f56b5c 139.5px,#eb5760 215.5px,#e24d66 280.5px,#d8456c 370.5px,#d6456c 442px,#d9466b 471.5px,#e04c67 488px,#e44f64 490.5px,#eb5660 492.5px,#ee5b5e 493px,#f4695c 493.5px,#f7725c 494px,#ed5a5f 494.5px,#d2426f 495px,#d6456c 563px,#e34e65 639.5px,#ec5960 681.5px,#f2645c 702px,#f56b5c 706.5px,#f7705c 708px,#f9795d 709px,#fc8b62 709.5px,#fb835f 710px,#f1605d 710.5px,#ee5b5e 711px,#f66d5c 750.5px,#fb835f 783.5px,#fc9065 796px,#fd9a6a 802px,#fea36f 806px,#feb078 809.5px,#feb97f 811px,#fec287 812px,#feca8d 812.5px,#fed496 813px,#fde3a5 813.5px,#fde7a9 814px,#fec185 814.5px,#f56a5c 815px,#f8765c 835.5px)}
.c74{background:linear-gradient(#f56b5c 137.5px,#e85362 234.5px,#d9466b 345px,#d6456c 384.5px,#d6456c 452.5px,#db476a 479px,#df4a68 486.5px,#e44f64 490px,#ea5661 492px,#ed5a5f 492.5px,#f4695c 493px,#f3655c 493.5px,#df4a68 494px,#d0416f 494.5px,#d6456c 568.5px,#e34e65 642.5px,#ec5860 683.5px,#f2645c 703px,#f5695c 706.5px,#f7715c 708.5px,#fa7c5d 709.5px,#fc8c63 710px,#fa7d5e 710.5px,#ee5b5e 711px,#f56b5c 749px,#f9785d 770.5px,#fb835f 785px,#fd9266 798.5px,#fd9b6b 804px,#fea36f 807px,#feb078 810.5px,#feb97f 812px,#fecb8e 813.5px,#fed698 814px,#fde9ab 814.5px,#fcecae 815px,#febf84 815.5px,#f4695c 816px,#f8775c 837.5px)}
.c75{background:linear-gradient(#f56b5c 135.5px,#ec5860 203.5px,#e44f64 255.5px,#d9466b 338.5px,#d5446d 407px,#d6456c 459px,#dc4869 483px,#df4a68 486.5px,#e55064 490.5px,#ed5a5f 492px,#f4695c 492.5px,#f3655c 493px,#df4a68 493.5px,#d0416f 494px,#d2426f 533px,#df4a68 626px,#e75263 662.5px,#ec5960 685.5px,#f1605d 700.5px,#f4695c 707px,#f7725c 709px,#f8775c 709.5px,#fb835f 710px,#fb8560 710.5px,#f66d5c 711px,#ed5a5f 711.5px,#f2645c 736.5px,#f7705c 760.5px,#fa7f5e 782px,#fc8e64 797px,#fe9d6c 806px,#feb078 811.5px,#feba80 813px,#fec488 814px,#fecc8f 814.5px,#fde7a9 815.5px,#fde9aa 816px,#febf84 816.5px,#f4695c 817px,#f9785d 836.5px,#f9785d 839.5px)}
.c76{background:linear-gradient(#f56b5c 133.5px,#ed5a5f 194.5px,#e55064 244px,#dc4869 308.5px,#d5446d 389px,#d5446d 448.5px,#db476a 481px,#df4a68 486.5px,#e55064 490px,#e95461 491px,#ed5a5f 491.5px,#f4675c 492px,#f2645c 492.5px,#de4968 493px,#cf4070 493.5px,#d0416f 523px,#dc4869 614.5px,#e44f64 654.5px,#eb5760 683.5px,#f05f5e 699.5px,#f3665c 706px,#f66f5c 709px,#f7725c 709.5px,#fb835f 710.5px,#f8745c 711px,#ed5a5f 711.5px,#ed5a5f 714px,#f3655c 742px,#f8745c 768px,#fa7f5e 783.5px,#fd9266 801px,#fea16e 808.5px,#feb078 812.5px,#febf84 814.5px,#fec488 815px,#fecd90 815.5px,#fdda9c 816px,#fcf9bb 816.5px,#fdebac 817px,#fd9266 817.5px,#f4695c 818px,#f7705c 830px,#f97b5d 841.5px)}
.c77{background:linear-gradient(#f56b5c 131.5px,#eb5760 204.5px,#e34e65 257.5px,#d8456c 341px,#d4436e 416.5px,#d5446d 456px,#db476a 481.5px,#de4968 485.5px,#e34e65 489px,#e75263 490px,#ec5860 491px,#f3655c 491.5px,#f1615d 492px,#dd4968 492.5px,#cf4070 493px,#d0416f 531.5px,#de4968 625.5px,#e55064 662.5px,#eb5760 685.5px,#f05f5e 700.5px,#f3655c 706.5px,#f66c5c 709px,#f8745c 710px,#fb8761 711px,#f8745c 711.5px,#ec5960 712px,#f2645c 740.5px,#f7705c 764px,#fa7f5e 785px,#fc8e64 799.5px,#fe9d6c 808px,#feb078 813.5px,#febf84 815.5px,#fec68a 816px,#fece91 816.5px,#fdde9f 817px,#fde7a9 817.5px,#fed799 818px,#fea16e 818.5px,#f4695c 819px,#f8765c 837px,#fa7d5e 841px,#fc8961 843.5px)}
.c78{background:linear-gradient(#f56b5c 129.5px,#ec5860 195.5px,#e44f64 246px,#d9466b 322px,#d3436e 394.5px,#d5446d 461px,#db476a 482px,#de4968 485.5px,#e44f64 489px,#e95462 490px,#ec5860 490.5px,#f2645c 491px,#f4695c 491.5px,#e85362 492px,#cd4071 492.5px,#cf4070 521px,#dc4869 622px,#ea5661 683.5px,#ee5b5e 697px,#f2625d 705px,#f4675c 708px,#f66d5c 709.5px,#f8765c 710.5px,#fb835f 711px,#f97a5d 711.5px,#f05f5e 712px,#ec5860 712.5px,#ec5860 714px,#f3655c 746px,#f7725c 768.5px,#fa815f 788.5px,#fc9065 802px,#fe9f6d 810px,#feb078 814.5px,#febb81 816px,#fec68a 817px,#fecf92 817.5px,#fde2a3 818px,#fdebac 818.5px,#fecd90 819px,#fc8961 819.5px,#f4695c 820px,#f7705c 832px,#f9795d 839.5px,#fa7d5e 840.5px,#fb835f 841px,#fd9467 841.5px,#fd9266 842px,#f9785d 842.5px,#f7725c 843px,#f7725c 845.5px)}
.c79{background:linear-gradient(#f56b5c 127.5px,#ec5860 193px,#e55064 235px,#db476a 306px,#d3436e 381.5px,#d3436e 452px,#d8466b 477px,#df4a68 486.5px,#e85362 489.5px,#eb5760 490px,#f2625d 490.5px,#f2625d 491px,#e24d66 491.5px,#cd4071 492px,#cf4070 529.5px,#dc4869 625px,#e34e65 657px,#ea5661 685.5px,#ee5b5e 698.5px,#f2645c 707px,#f56b5c 709.5px,#f7725c 710.5px,#fb825f 711.5px,#f7725c 712px,#eb5860 712.5px,#f2625d 740.5px,#f8745c 773px,#fb835f 792px,#fd9266 804.5px,#fe9f6d 811px,#feb078 815.5px,#febb81 817px,#fec88c 818px,#fed194 818.5px,#fcedaf 819px,#fcf0b2 819.5px,#fcfdbf 820px,#fcfdbf 820.5px,#f4695c 821px,#f8745c 837px,#f97b5d 840.5px,#fa7f5e 841px,#fc8961 841.5px,#fa815f 842px,#f7725c 842.5px,#f8735c 847.5px)}
.c80{background:linear-gradient(#f56b5c 125.5px,#ec5860 190.5px,#e34e65 247.5px,#d6456c 337.5px,#d2426f 402.5px,#d3436e 458px,#d9466b 480.5px,#de4968 485.5px,#e34e65 488px,#ea5661 489.5px,#f1605d 490px,#f2645c 490.5px,#e55064 491px,#cc3f71 491.5px,#cd4071 518.5px,#d9466b 613.5px,#e24d66 654px,#e95462 683.5px,#ed5a5f 697px,#f1605d 705.5px,#f3655c 708.5px,#f56b5c 710px,#f8735c 711px,#fa7f5e 711.5px,#fa7d5e 712px,#f3655c 712.5px,#eb5760 713px,#eb5760 714px,#f2625d 742.5px,#f66e5c 766px,#fa7d5e 787px,#fc8e64 803px,#fe9f6d 812px,#fea772 814.5px,#feb179 816.5px,#fec185 818.5px,#fec88c 819px,#fed395 819.5px,#fde5a7 820px,#fde7a9 820.5px,#feb97f 821px,#f4685c 821.5px,#f8745c 837.5px,#f97a5d 840.5px,#fa7d5e 841px,#fb8560 841.5px,#fa815f 842px,#f8745c 842.5px,#f7725c 843px,#f8745c 849.5px)}
.c81{background:linear-gradient(#f56a5c 123.5px,#ec5860 188px,#e34e65 244.5px,#d8456c 319px,#d2426f 386.5px,#d2426f 447.5px,#d8456c 478.5px,#db476a 483px,#df4a68 486px,#e44f64 488px,#ea5661 489px,#f3655c 490px,#e75263 490.5px,#cc3f71 491px,#d0416f 558.5px,#df4a68 645px,#e95462 685.5px,#f05f5d 705px,#f3655c 709px,#f66e5c 711px,#f8765c 711.5px,#fc8c63 712px,#fa7f5e 712.5px,#eb5760 713px,#f4675c 755px,#fa7d5e 788.5px,#fc9065 805.5px,#fd9869 810px,#fea571 815px,#feae77 817px,#feb77e 818.5px,#feca8d 820px,#fed597 820.5px,#fde3a5 821px,#fde3a5 821.5px,#feb97f 822px,#f4675c 822.5px,#f7705c 835px,#f8765c 839.5px,#f97b5d 841px,#fb8660 842px,#fa7e5e 842.5px,#f7705c 843px,#f8745c 847px,#f8745c 851.5px)}
.c82{background:linear-gradient(#f5695c 122.5px,#eb5760 192px,#e04c67 257.5px,#d3436e 355.5px,#d1416f 420px,#d3436e 465.5px,#d9466b 481.5px,#df4b68 486px,#e65163 488px,#e95462 488.5px,#ee5c5e 489px,#f56b5c 489.5px,#ed5a5f 490px,#cb3f72 490.5px,#cc3f71 515.5px,#d8456c 613px,#e75263 679px,#ed5a5f 700px,#f1605d 707px,#f2645c 709px,#f4695c 710.5px,#f7705c 711.5px,#fa7d5e 712.5px,#f56b5c 713px,#ea5661 713.5px,#ea5661 714px,#f2645c 750px,#f7725c 775px,#fa7f5e 792px,#fc8e64 805.5px,#fe9d6c 813.5px,#fea772 816.5px,#feb47b 819px,#fec287 820.5px,#fecb8e 821px,#fed89a 821.5px,#fcf6b8 822px,#fde7a9 822.5px,#fc9065 823px,#f4675c 823.5px,#f7705c 836px,#f8765c 840px,#f97b5d 841.5px,#fc8b62 842px,#fc8961 842.5px,#f7725c 843px,#f7705c 843.5px,#f8745c 848px,#f8745c 852.5px)}
.c83{background:linear-gradient(#f4695c 120.5px,#f4695c 127px,#e95462 202.5px,#de4968 271px,#d2426f 367px,#d0416f 441.5px,#d5446d 473.5px,#d9466b 481.5px,#de4968 485px,#e34e65 487px,#e85362 488px,#ed5a5f 488.5px,#f7725c 489px,#f2625d 489.5px,#ca3e72 490px,#cc3f71 525px,#d9466b 624px,#e34e65 667px,#e95462 689px,#ee5c5e 703.5px,#f2645c 709.5px,#f66c5c 711.5px,#f7725c 712px,#fa7f5e 712.5px,#fa815f 713px,#f4695c 713.5px,#ea5661 714px,#ea5661 716.5px,#f05f5e 741px,#f66c5c 768px,#f97b5d 789px,#fc8b62 804px,#fd9a6a 813px,#fea571 817px,#feae77 819px,#febd82 821px,#fecc8f 822px,#fddc9e 822.5px,#fde7a9 823px,#fdda9c 823.5px,#fea571 824px,#f4675c 824.5px,#f8745c 839.5px,#f9795d 841.5px,#fa7d5e 842px,#fc8961 842.5px,#fa815f 843px,#f7705c 843.5px,#f8745c 849.5px,#f8745c 854.5px)}
.c84{background:linear-gradient(#f4695c 118.5px,#f4695c 125px,#eb5760 187px,#e34e65 235.5px,#d8456c 305.5px,#d0416f 380.5px,#d0416f 450px,#d7456c 478px,#db476a 483px,#e04c67 486px,#e85362 487.5px,#ec5860 488px,#f2645c 488.5px,#e95462 489px,#ca3e72 489.5px,#cf4070 562.5px,#dc4869 641px,#e44f64 674px,#eb5760 697.5px,#ee5b5e 704.5px,#f2645c 710px,#f66c5c 712px,#f8745c 712.5px,#fc8a62 713px,#fa7e5e 713.5px,#e95462 714px,#f1605d 746.5px,#f66e5c 772.5px,#f97b5d 790.5px,#fc8c63 806.5px,#fd9a6a 814px,#fea571 818px,#feae77 820px,#feb97f 821.5px,#fec488 822.5px,#fecd90 823px,#fcf4b6 824px,#fddea0 824.5px,#fc8a62 825px,#f4675c 825.5px,#f7725c 839px,#f9785d 841.5px,#f97b5d 842px,#fb8460 842.5px,#fa7f5e 843px,#f7705c 843.5px,#f66e5c 844px,#f8745c 850.5px,#f8765c 856.5px)}
.c85{background:linear-gradient(#f4695c 116.5px,#f4695c 122.5px,#e95462 197.5px,#dc4869 273px,#d0416f 371px,#cf4070 406px,#d0416f 455.5px,#d5446d 475.5px,#dc4869 484px,#e24d66 486px,#e75263 487px,#eb5760 487.5px,#fa815f 488px,#f97b5d 488.5px,#d3426e 489px,#c83e73 489.5px,#ca3e72 522px,#cf4070 568px,#d8456c 623.5px,#e75263 685px,#ea5661 696px,#ef5d5e 707px,#f2625d 710px,#f4675c 711.5px,#f66e5c 712.5px,#f97b5d 713.5px,#f4695c 714px,#e95462 714.5px,#e95462 716.5px,#f2625d 752px,#f7705c 777px,#fa7d5e 794px,#fc8e64 809px,#fe9d6c 816.5px,#fea571 819px,#feae77 821px,#febf84 823px,#fecf92 824px,#fddfa1 824.5px,#fde5a7 825px,#fec185 825.5px,#f4675c 826px,#f7705c 838.5px,#f8765c 841.5px,#f9785d 842px,#fa805f 843px,#f66e5c 844px,#f8765c 854.5px,#f8765c 858.5px)}
.c86{background:linear-gradient(#f4695c 115.5px,#ea5661 188.5px,#e04c67 245px,#d5446d 319px,#cf4070 387px,#cf4070 445px,#d5446d 476.5px,#d9466b 482px,#df4a68 485px,#e55064 486.5px,#ea5661 487px,#f2625d 487.5px,#eb5760 488px,#cf4070 488.5px,#c83e73 489px,#ca3e72 530.5px,#d8456c 626.5px,#e75263 687px,#ec5860 702.5px,#f05f5e 709px,#f4675c 712px,#f7705c 713px,#fa7d5e 713.5px,#fa7d5e 714px,#f3655c 714.5px,#e85462 715px,#e95462 718.5px,#ef5d5e 743px,#f56b5c 770px,#f9795d 791px,#fc8a62 807.5px,#fd9c6b 817px,#fea571 820px,#feaf77 822px,#feba80 823.5px,#fec78a 824.5px,#fed295 825px,#fcecae 825.5px,#fde7a9 826px,#feab75 826.5px,#f4675c 827px,#f56b5c 833.5px,#f7725c 840.5px,#f8765c 842px,#fa7f5e 843px,#fa7d5e 843.5px,#f7725c 844px,#f66e5c 844.5px,#f8765c 855.5px,#f8765c 859.5px)}
.c87{background:linear-gradient(#f4695c 113.5px,#e95462 192.5px,#df4a68 250px,#d2426f 340px,#ce4070 417px,#d0416f 463px,#d6456c 479px,#db486a 483px,#e24d66 485.5px,#e95462 486.5px,#f2645c 487px,#f2635d 487.5px,#dc4869 488px,#c73d73 488.5px,#cc3f71 553px,#dc4869 649.5px,#e44f64 680.5px,#ea5661 699px,#ef5d5e 708.5px,#f1605d 710.5px,#f4675c 712.5px,#f56b5c 713px,#f7725c 713.5px,#fc8a62 714px,#fa7f5e 714.5px,#e85362 715px,#e85362 716.5px,#f05f5e 748.5px,#f56b5c 771.5px,#f97b5d 794.5px,#fc8c63 810px,#fd9b6b 818px,#fea571 821px,#feb27a 823.5px,#fec185 825px,#fec88c 825.5px,#fed597 826px,#fde9aa 826.5px,#fde5a7 827px,#feb37b 827.5px,#f4675c 828px,#f7705c 840px,#f9795d 843px,#fa815f 843.5px,#f9795d 844px,#f66c5c 844.5px,#f8765c 856.5px,#f8765c 861.5px)}
.c88{background:linear-gradient(#f4695c 111.5px,#ea5661 184px,#e04c67 239.5px,#d3436e 321.5px,#cd4071 394.5px,#cf4070 456.5px,#d5446d 477.5px,#d9466b 482px,#df4a68 484.5px,#e85362 486px,#f4685c 487px,#e95462 487.5px,#c73d73 488px,#c83e73 527.5px,#cf4070 582.5px,#d8456c 633px,#e34e65 678px,#e95462 697.5px,#ee5b5e 708px,#f1605d 711px,#f3655c 712.5px,#f4685c 713px,#f8745c 714px,#f9785d 714.5px,#f3655c 715px,#e85362 715.5px,#e85362 718.5px,#ee5b5e 743px,#f56b5c 773px,#f9785d 791.5px,#fc8962 808.5px,#fd9869 817.5px,#fea370 821.5px,#feac76 823.5px,#febb81 825.5px,#fec286 826px,#feca8d 826.5px,#fed89a 827px,#fde2a4 827.5px,#fed395 828px,#fe9d6c 828.5px,#f4675c 829px,#f56b5c 835.5px,#f7705c 840.5px,#f9785d 843px,#fa7f5e 844px,#f66c5c 845px,#f8765c 857.5px,#f9775d 863.5px)}
.c89{background:linear-gradient(#f4695c 110.5px,#eb5760 175.5px,#e04c67 236.5px,#d3436e 317px,#cd4071 382px,#cd4071 447px,#d0416f 467.5px,#d3436e 475.5px,#db476a 482.5px,#e34e65 485px,#e75263 485.5px,#ed5a5f 486px,#f05f5e 486.5px,#e24d66 487px,#c63d74 487.5px,#c73d73 514.5px,#d2426f 605.5px,#db476a 649px,#e44f64 684.5px,#e95462 699px,#ee5b5e 709px,#f05f5e 711px,#f3655c 713px,#f66c5c 714px,#f9795d 714.5px,#f8765c 715px,#f05e5e 715.5px,#e75263 716px,#ef5d5e 748.5px,#f56b5c 774.5px,#f9795d 795px,#fc8a62 811px,#fd9869 818.5px,#fea370 822.5px,#feac76 824.5px,#feb77e 826px,#fec287 827px,#fecc8f 827.5px,#fceeb0 828.5px,#fed799 829px,#fc8a62 829.5px,#f4675c 830px,#f66e5c 840px,#f7725c 842px,#f9785d 843.5px,#fa7f5e 844px,#fa7d5e 844.5px,#f7705c 845px,#f66c5c 845.5px,#f9785d 864.5px)}
.c90{background:linear-gradient(#f4695c 108.5px,#ea5661 179.5px,#df4a68 241px,#d2426f 324px,#cc3f71 408px,#cd4071 452.5px,#d0416f 469px,#d5446d 478px,#db476a 482.5px,#e24d66 484.5px,#e55064 485px,#eb5760 485.5px,#f4675c 486px,#eb5760 486.5px,#c53c74 487px,#c73d73 524px,#cc3f71 569.5px,#d5446d 625px,#de4968 663px,#e55064 690.5px,#ea5661 703px,#ed5a5f 708.5px,#f05f5e 711.5px,#f4695c 714px,#f66e5c 714.5px,#fa7d5e 715px,#f8745c 715.5px,#eb5760 716px,#e75263 716.5px,#e75263 718.5px,#f05f5e 754px,#f66c5c 779px,#f9795d 796.5px,#fc8c63 813.5px,#fd9b6b 821px,#fead76 825.5px,#feb77e 827px,#fec488 828px,#fece91 828.5px,#fddea0 829px,#fde7a9 829.5px,#fec287 830px,#f3655c 830.5px,#f7705c 842px,#f97b5d 844.5px,#f56b5c 845.5px,#f9785d 862.5px,#f9785d 866.5px)}
.c91{background:linear-gradient(#f4695c 106.5px,#ea5661 177.5px,#e04c67 231px,#d2426f 319.5px,#cc3f71 389px,#cc3f71 441px,#cf4070 465px,#d3436e 476.5px,#d9466b 481.5px,#df4a68 483.5px,#e44f64 484.5px,#e95462 485px,#f4675c 485.5px,#f1605d 486px,#d4436e 486.5px,#c53c74 487px,#c93e73 548.5px,#d8456c 641.5px,#e04c67 675.5px,#e85362 699px,#ec5860 708px,#ef5d5e 711.5px,#f3655c 714px,#f4695c 714.5px,#f7705c 715px,#fb835f 715.5px,#f8745c 716px,#e65164 716.5px,#ee5b5e 748.5px,#f4675c 772px,#f8745c 791px,#fb8560 809px,#fd9869 820.5px,#feaa74 826px,#feb47b 827.5px,#febf84 828.5px,#fec68a 829px,#fddea0 830px,#fddc9e 830.5px,#feb179 831px,#f3655c 831.5px,#f66e5c 841.5px,#f8765c 844px,#fa7c5e 844.5px,#fa7d5e 845px,#f7725c 845.5px,#f56b5c 846px,#f9785d 863.5px,#f9785d 868.5px)}
.c92{background:linear-gradient(#f4695c 105.5px,#ea5661 175px,#df4a68 235.5px,#d2426f 315px,#cc3f71 378px,#cc3f71 448px,#cf4070 467px,#d2426f 474.5px,#d9466b 481.5px,#de4968 483px,#e34e65 484px,#e85362 484.5px,#ef5d5e 485px,#e85362 485.5px,#ca3e72 486px,#c43c75 486.5px,#c93e73 554.5px,#d8456c 644.5px,#e24d66 682px,#e95462 703px,#ed5a5f 710px,#f1615d 713.5px,#f3665c 714.5px,#f56b5c 715px,#f8745c 715.5px,#fc8962 716px,#f9795d 716.5px,#e55064 717px,#e55064 718px,#ef5d5e 754px,#f4695c 776.5px,#f9785d 797px,#fc8b62 814.5px,#fd9b6b 823px,#feaa74 827px,#feb97f 829px,#febf84 829.5px,#fec88c 830px,#fed597 830.5px,#fcf7b9 831px,#fdebac 831.5px,#fc9065 832px,#f3655c 832.5px,#f4695c 837.5px,#f7705c 843px,#f9775d 844.5px,#fa815f 845px,#f9795d 845.5px,#f56a5c 846px,#f9785d 864.5px,#f9785d 869.5px)}
.c93{background:linear-gradient(#f4695c 103.5px,#ea5661 173px,#df4a68 233px,#d0416f 322.5px,#ca3e72 400px,#ca3e72 431.5px,#cf4070 468.5px,#d2426f 475px,#d8456c 480.5px,#e24d66 483.5px,#e65163 484px,#ee5b5e 484.5px,#eb5760 485px,#d5446d 485.5px,#c43c75 486px,#c53c74 528px,#cd4071 593.5px,#de4968 670px,#e44f64 692px,#ea5661 706.5px,#ee5b5e 712px,#f1615d 714px,#f4675c 715px,#f66c5c 715.5px,#fd9869 716px,#fc9065 716.5px,#e85362 717px,#e55064 717.5px,#e55064 720px,#ed5a5f 748.5px,#f4695c 778px,#f9795d 800.5px,#fc8a62 815.5px,#fd9467 821px,#fd9b6b 824px,#feab75 828px,#feb67c 829.5px,#fec185 830.5px,#feca8d 831px,#fdda9c 831.5px,#fceeaf 832px,#fed799 832.5px,#fa815f 833px,#f3655c 833.5px,#f66e5c 842.5px,#f8745c 844.5px,#f97b5d 845.5px,#f4695c 846.5px,#f9785d 865.5px,#f9795d 871.5px)}
.c94{background:linear-gradient(#f4695c 102.5px,#ea5661 171px,#de4968 237.5px,#d0416f 318px,#ca3e72 385.5px,#ca3e72 442px,#cf4070 469.5px,#d2426f 475.5px,#d8456c 480.5px,#e04c67 483px,#e44f64 483.5px,#eb5760 484px,#ee5b5e 484.5px,#e04b67 485px,#c33b75 485.5px,#c53c74 535.5px,#cc3f71 587.5px,#d6456c 643.5px,#e24d66 686px,#e85362 703px,#ec5860 710.5px,#f05f5d 714px,#f2645c 715px,#f4675c 715.5px,#f8775c 716.5px,#f4675c 717px,#e44f64 717.5px,#e44f64 718px,#ec5860 746.5px,#f3655c 773.5px,#f8765c 797.5px,#fb8761 814px,#fd9467 822px,#fd9b6b 825px,#fea973 828.5px,#feb67d 830.5px,#fec287 831.5px,#fecc8f 832px,#fde7a9 832.5px,#fdebac 833px,#feb77e 833.5px,#f3655c 834px,#f66e5c 843.5px,#f8745c 845px,#f97b5d 845.5px,#fa7d5e 846px,#f4695c 847px,#f9795d 869px,#f9795d 872.5px)}
.c95{background:linear-gradient(#f4685c 100.5px,#ef5d5e 144px,#e85362 181px,#dc4869 242px,#cd4071 339px,#c93e72 414.5px,#ca3e72 448.5px,#d0416f 473.5px,#d5446d 478.5px,#db486a 481.5px,#e34e65 483px,#e95462 483.5px,#f05f5d 484px,#e55064 484.5px,#c23b75 485px,#c43c75 524px,#ca3e72 581.5px,#d5446d 640px,#e04c67 683.5px,#e75263 701.5px,#eb5760 710px,#f05f5e 714.5px,#f4685c 716px,#f7705c 716.5px,#f8745c 717px,#f2625d 717.5px,#e44f64 718px,#e44f64 720px,#ed5a5f 752px,#f4695c 781px,#f9785d 801px,#fc8961 816.5px,#fd9467 823px,#fd9b6b 826px,#fea973 829.5px,#feb77e 831.5px,#fec488 832.5px,#fecf92 833px,#fde8aa 833.5px,#fde5a7 834px,#feaa74 834.5px,#f3655c 835px,#f66e5c 844px,#f8765c 845.5px,#fa815f 846px,#f97b5d 846.5px,#f4685c 847px,#f7725c 862px,#f9795d 870px,#f9795d 874.5px)}
.c96{background:linear-gradient(#f4685c 99.5px,#e95462 173px,#de4968 232px,#cf4070 321px,#c83e73 395px,#ca3e72 453px,#cf4070 471.5px,#d3436e 477.5px,#dc4869 481.5px,#e24d66 482.5px,#e75263 483px,#f05f5e 483.5px,#ea5661 484px,#ca3e72 484.5px,#c23b75 485px,#c43c75 531.5px,#ca3e72 585.5px,#d5446d 642.5px,#e04c67 685.5px,#e75263 703px,#ec5860 712px,#ef5d5e 714.5px,#f2645c 716px,#f4695c 716.5px,#f8745c 717px,#f7705c 717.5px,#ed5a5f 718px,#e44f65 718.5px,#e44f64 722px,#ee5c5e 757.5px,#f4695c 782.5px,#f8765c 800px,#fc8961 817.5px,#fd9467 824px,#fd9b6b 827px,#feac76 831px,#feb87e 832.5px,#fec68a 833.5px,#fed395 834px,#fcedaf 834.5px,#fddfa1 835px,#fc9065 835.5px,#f3655c 836px,#f4695c 841px,#f66e5c 844.5px,#f7725c 845.5px,#f9795d 846.5px,#f4675c 847.5px,#f9795d 871px,#f97a5d 875.5px)}
.c97{background:linear-gradient(#f4675c 97.5px,#f4675c 104.5px,#e95462 171px,#de4968 229.5px,#cf4070 316.5px,#c83e73 382.5px,#c93e73 443px,#cd4071 468.5px,#d0416f 474.5px,#d9466b 480.5px,#e04c67 482px,#e44f64 482.5px,#ee5b5f 483px,#ec5860 483.5px,#d5446d 484px,#c03a76 484.5px,#c23b75 519px,#cd4071 608px,#d8456c 657.5px,#e24d66 691.5px,#e85362 706.5px,#ee5c5e 714.5px,#f05f5e 715.5px,#f3655c 716.5px,#f56b5c 717px,#f9785d 717.5px,#f66c5c 718px,#e85362 718.5px,#e34e65 719px,#e34e65 719.5px,#ec5860 752px,#f2645c 775px,#f7705c 794.5px,#fb8560 816px,#fd9467 825px,#fd9b6b 828px,#fea772 831px,#feb47b 833px,#febf84 834px,#fec88c 834.5px,#fed89a 835px,#fcf0b2 835.5px,#fddc9e 836px,#fb835f 836.5px,#f3655c 837px,#f4695c 842px,#f66d5c 844.5px,#f7725c 846px,#f9795d 846.5px,#f9785d 847px,#f66c5c 847.5px,#f4675c 848px,#f4675c 848.5px,#f9795d 872px,#f97b5d 877.5px)}
.c98{background:linear-gradient(#f4675c 96.5px,#f05f5e 132.5px,#e85362 175px,#db476a 241.5px,#cc3f71 337.5px,#c73d73 413px,#c83e73 448.5px,#cf4070 472.5px,#d5446d 478.5px,#dc4869 481px,#e34e65 482px,#ea5661 482.5px,#ed5a5f 483px,#df4a68 483.5px,#c03a76 484px,#c23b75 527px,#cd4071 611.5px,#d8456c 660px,#e24d66 693px,#e75263 705.5px,#ec5860 713.5px,#f05f5e 716px,#f3655c 717px,#f66c5c 717.5px,#f9785d 718px,#f4695c 718.5px,#e34e65 719px,#e34e65 721.5px,#eb5760 750px,#f4675c 782.5px,#f8745c 800.5px,#fb8761 818.5px,#fd9467 826px,#fd9b6b 829px,#fea571 831.5px,#feb67c 834px,#fec186 835px,#fecc8f 835.5px,#fdda9c 836px,#fde2a4 836.5px,#febf84 837px,#f3655c 837.5px,#f66c5c 845px,#f8745c 846.5px,#f97b5d 847px,#f9785d 847.5px,#f4695c 848px,#f4675c 849px,#f7705c 863px,#f97b5d 875px,#f97b5d 878.5px)}
.c99{background:linear-gradient(#f4675c 94.5px,#f05f5e 130.5px,#e85362 173px,#dc4869 231.5px,#cd4071 319.5px,#c73d73 392px,#c73d73 435px,#c83e73 452.5px,#cd4071 470.5px,#d2426e 476.5px,#d9466b 480px,#e24d66 481.5px,#e75263 482px,#ee5b5e 482.5px,#e34e65 483px,#c03a76 483.5px,#c23b75 534.5px,#c83e73 587.5px,#d3436e 644px,#df4a68 687px,#e44f64 701.5px,#ea5661 712px,#ed5a5f 715px,#f05f5e 716.5px,#f3655c 717.5px,#f8755c 718.5px,#f2625d 719px,#e24d66 719.5px,#ea5661 748px,#f05f5e 769px,#f66e5c 794.5px,#fa7f5e 813.5px,#fc8a62 822px,#fd9467 827px,#fea36f 832px,#feaa74 833.5px,#feb67d 835px,#fec488 836px,#fecf92 836.5px,#fddea0 837px,#fde2a3 837.5px,#febb81 838px,#f3655c 838.5px,#f66c5c 845.5px,#f8745c 847px,#fa7f5e 847.5px,#f9785d 848px,#f3655c 848.5px,#f7725c 866.5px,#f97b5d 876px,#f97b5d 880.5px)}
.c100{background:linear-gradient(#f4675c 93.5px,#e95462 165px,#dc4869 229px,#cf4170 304px,#c73d73 380.5px,#c73d73 442.5px,#cc3f71 468px,#d2426f 476.5px,#d8466b 479.5px,#dc4869 480.5px,#e44f64 481.5px,#ed5a5f 482px,#e55064 482.5px,#c73d73 483px,#bf3a77 483.5px,#c23b75 541px,#c83e73 591.5px,#d3436e 647px,#de4968 684.5px,#e55064 705.5px,#eb5760 714px,#f05f5e 717px,#f4675c 718px,#f8745c 718.5px,#f7725c 719px,#ec5960 719.5px,#e24d66 720px,#e24d66 721px,#e95462 746px,#f05f5e 770.5px,#f56b5c 791px,#fa7d5e 813px,#fc8961 822px,#fd9467 828px,#fea16e 832.5px,#feaf77 835px,#feb77e 836px,#febd82 836.5px,#fec68a 837px,#fed597 837.5px,#fddd9f 838px,#fecf92 838.5px,#fe9d6c 839px,#f3655c 839.5px,#f4695c 844px,#f7705c 847px,#f8765c 847.5px,#fb8560 848px,#fa7d5e 848.5px,#f3655c 849px,#f7725c 867.5px,#f97b5d 877px,#fa7d5e 881.5px)}
.c101{background:linear-gradient(#f4675c 91.5px,#f05f5e 127px,#e85362 169px,#db476a 233.5px,#ca3e72 336px,#c53c74 411.5px,#c73d73 448px,#cd4071 471.5px,#d2426f 476.5px,#d9466b 479.5px,#e34e65 481px,#eb5760 481.5px,#e85362 482px,#cf4070 482.5px,#bf3a77 483px,#bf3a77 506px,#ca3e72 604.5px,#d5446d 655.5px,#df4a68 690.5px,#e55064 706.5px,#ec5860 715.5px,#f2625d 718px,#f4695c 718.5px,#f9775d 719px,#f66d5c 719.5px,#e75263 720px,#e24d66 720.5px,#e24d66 723px,#ea5661 751.5px,#f2625d 778.5px,#f7725c 802px,#fb835f 819px,#fd9467 829px,#fea06d 833px,#fea973 835px,#feb47b 836.5px,#febf84 837.5px,#fec98d 838px,#fddd9f 838.5px,#fddfa0 839px,#fdda9c 839.5px,#febb81 840px,#f3655c 840.5px,#f56b5c 846px,#f7705c 847.5px,#f8765c 848px,#f7725c 848.5px,#f4675c 849px,#f3655c 850.5px,#f7725c 868.5px,#fa7d5e 880px,#fa7d5e 883.5px)}
.c102{background:linear-gradient(#f4675c 90.5px,#ef5d5e 131px,#e75263 173px,#d8456c 245.5px,#c83e73 346px,#c53c74 390.5px,#c53c74 434.5px,#c83e73 460.5px,#cc3f71 469.5px,#d2426f 476.5px,#d8456c 479px,#e04c67 480.5px,#e75263 481px,#f66d5c 481.5px,#f1605d 482px,#bd3977 482.5px,#c03a76 536.5px,#c73d73 589px,#d0416f 639px,#de4968 688px,#e44f64 705.5px,#e85362 711.5px,#ec5860 716px,#ef5d5e 717.5px,#f2645c 718.5px,#f56b5c 719px,#f9785d 719.5px,#f4695c 720px,#e04c67 720.5px,#e95462 749.5px,#ef5d5e 770.5px,#f66e5c 798.5px,#fa7f5e 817px,#fc8961 824px,#fd9467 830px,#fea772 835.5px,#feb078 837px,#fec287 838.5px,#fecd90 839px,#fde2a3 839.5px,#fddea0 840px,#fea973 840.5px,#f2645c 841px,#f56b5c 846.5px,#f66e5c 847.5px,#f8765c 848.5px,#f2645c 849.5px,#f7725c 869.5px,#fa7d5e 881px,#fa7d5e 884.5px)}
.c103{background:linear-gradient(#f4675c 88.5px,#ed5a5f 140.5px,#e85362 165px,#de4968 215px,#cd4071 303.5px,#c53c74 379px,#c53c74 442px,#ca3e72 467px,#d1416f 475.5px,#d9466b 479px,#df4a68 480px,#e44f64 480.5px,#ef5d5e 481px,#ea5661 481.5px,#ca3e72 482px,#bd3977 482.5px,#bf3a77 524.5px,#c73d73 593px,#d2426f 648px,#de4968 690px,#e44f64 706.5px,#ea5661 715px,#ef5d5e 718px,#f2645c 719px,#f8745c 720px,#f2625d 720.5px,#e04c67 721px,#e04c67 722.5px,#ea5661 755px,#f2645c 784px,#f8765c 809px,#fb8560 822.5px,#fd9869 832.5px,#feaa74 837px,#feb67d 838.5px,#fec488 839.5px,#fed194 840px,#fcf9bb 840.5px,#fcf0b2 841px,#fd9366 841.5px,#f2645c 842px,#f56b5c 847px,#f8745c 849px,#f2645c 850px,#f2645c 850.5px,#f7725c 870.5px,#fa7d5e 881.5px,#fa7e5e 886.5px)}
.c104{background:linear-gradient(#f4675c 87.5px,#ee5b5e 133px,#e85362 163px,#d9466b 233px,#ca3e72 322px,#c43c75 410.5px,#c53c74 447.5px,#cc3f71 470.5px,#d1416f 475.5px,#d8456c 478.5px,#e24d66 480px,#eb5760 480.5px,#e95462 481px,#d0416f 481.5px,#bd3977 482px,#bf3a77 531.5px,#c53c74 586.5px,#cf4070 637.5px,#dc4869 687.5px,#e34e65 705px,#e95462 714.5px,#eb5760 716.5px,#ef5d5e 718.5px,#f3655c 719.5px,#f7725c 720px,#f7705c 720.5px,#ec5860 721px,#e04c67 721.5px,#e04c67 724.5px,#e95462 753px,#ef5d5e 773.5px,#f66c5c 799px,#fa7d5e 817.5px,#fc8f64 829.5px,#fd9a6a 834px,#fea36f 836.5px,#feae77 838.5px,#feb77e 839.5px,#fec88c 840.5px,#fdda9c 841px,#fdda9c 841.5px,#fec286 842px,#fd9567 842.5px,#f2645c 843px,#f4695c 847px,#f66e5c 848.5px,#f8745c 849px,#f7725c 849.5px,#f4675c 850px,#f2645c 850.5px,#f2645c 851.5px,#f7725c 871.5px,#fa7d5e 882.5px,#fa7f5e 887.5px)}
.c105{background:linear-gradient(#f4675c 85.5px,#ef5d5e 125.5px,#e75263 167px,#db476a 224px,#cc3f71 306.5px,#c43c75 389.5px,#c43c75 434px,#c53c74 451px,#ca3e72 468.5px,#d1416f 475.5px,#d7456c 478px,#e04b67 479.5px,#e75263 480px,#f2635c 480.5px,#e95462 481px,#bc3978 481.5px,#bf3a77 538.5px,#c53c74 590.5px,#cf4070 640px,#de4968 693px,#e34e65 706.5px,#e95461 715.5px,#ec5860 717.5px,#f1605d 719.5px,#f4675c 720px,#f8765c 720.5px,#f66c5c 721px,#e55064 721.5px,#df4a68 722px,#e85362 751px,#f1605d 781px,#f7705c 805px,#fb815f 822px,#fd9266 832px,#fd9a6a 835px,#fea36f 837.5px,#fea973 838.5px,#feb97f 840.5px,#fec185 841px,#fecc8f 841.5px,#fde0a1 842px,#fdda9c 842.5px,#fea672 843px,#f2645c 843.5px,#f4695c 847.5px,#f66e5c 849px,#f8745c 849.5px,#f7705c 850px,#f3645c 850.5px,#f2645c 852.5px,#f8765c 877px,#fa7f5e 885.5px,#fa7f5e 889.5px)}
.c106{background:linear-gradient(#f4675c 84.5px,#e95462 153.5px,#db476a 221.5px,#cc3f71 303px,#c43c75 378.5px,#c43c75 441px,#c93e73 466px,#cd4071 473px,#d2426f 476px,#d8456c 478px,#de4968 479px,#e34e65 479.5px,#ef5d5e 480px,#eb5760 480.5px,#cc3f71 481px,#bc3978 481.5px,#bd3977 526px,#c53c74 594px,#d2426f 655.5px,#de4968 695px,#e44f64 710px,#ea5661 717px,#ef5d5e 719.5px,#f4695c 720.5px,#f8765c 721px,#f4675c 721.5px,#df4a68 722px,#df4a68 724px,#ea5661 760px,#f2645c 788.5px,#f8745c 810.5px,#fb8761 827px,#fd9266 833px,#fd9b6b 836.5px,#feac76 840px,#febb81 841.5px,#fec488 842px,#fed194 842.5px,#fcf9bb 843px,#fcf0b2 843.5px,#fd9467 844px,#f2645c 844.5px,#f4695c 848px,#f66c5c 849px,#f8745c 850px,#f66c5c 850.5px,#f2625d 851px,#f7725c 873.5px,#fa7f5e 886px,#fa7f5e 890.5px)}
.c107{background:linear-gradient(#f4675c 83.5px,#e85362 157.5px,#d9466b 226px,#c83e73 322px,#c23b75 409.5px,#c43c75 446px,#ca3e72 469.5px,#cf4170 474.5px,#d6456c 477.5px,#e04c67 479px,#ea5661 479.5px,#e85362 480px,#cf4070 480.5px,#bb3878 481px,#bd3977 533px,#c43c75 587.5px,#cd4071 638.5px,#db476a 688.5px,#e24d66 706px,#e75263 714.5px,#ea5661 717.5px,#ee5b5e 719.5px,#f2625d 720.5px,#f7725c 721.5px,#f1605d 722px,#df4a68 722.5px,#df4a68 726px,#e95462 758px,#f1605d 784px,#f7705c 807.5px,#fa7f5e 822.5px,#fd9266 834px,#fea571 839.5px,#feb27a 841.5px,#febd83 842.5px,#fec78b 843px,#fdda9c 843.5px,#fddc9e 844px,#feaf78 844.5px,#f2645c 845px,#f4675c 848px,#f66c5c 849.5px,#f7705c 850px,#fb835f 850.5px,#fa7d5e 851px,#f2625d 851.5px,#f7705c 872.5px,#fa7f5e 887px,#fa815f 891.5px)}
.c108{background:linear-gradient(#f4675c 81.5px,#e95462 150px,#db476a 217px,#ca3e72 306.5px,#c23b75 390px,#c23b75 432.5px,#c43c75 450px,#c93e73 467.5px,#cf4170 474.5px,#d3436e 476.5px,#d8456c 477.5px,#df4a68 478.5px,#e55064 479px,#f2645c 479.5px,#ea5661 480px,#ba3878 480.5px,#bd3977 539.5px,#c43c75 591.5px,#cd4071 641px,#db476a 690px,#e24d66 707.5px,#e85362 716.5px,#ee5b5e 720px,#f2645c 721px,#f7705c 721.5px,#f66e5c 722px,#ea5661 722.5px,#de4968 723px,#de4968 723.5px,#e85362 756px,#f1605d 785.5px,#f66e5c 806.5px,#fb835f 826.5px,#fd9266 835px,#fea571 840.5px,#feb47b 842.5px,#fec185 843.5px,#fecc8f 844px,#fde3a5 844.5px,#fde3a5 845px,#feae77 845.5px,#f2645c 846px,#f4675c 848.5px,#f66c5c 850px,#f7725c 850.5px,#fa815f 851px,#f9795d 851.5px,#f2625d 852px,#f2625d 852.5px,#f7705c 873.5px,#fa815f 889.5px,#fa815f 893.5px)}
.c109{background:linear-gradient(#f4675c 80.5px,#e85362 154px,#db476a 215px,#ca3e72 302.5px,#c23b75 379px,#c23b75 439.5px,#c73d73 464.5px,#cc3f71 472px,#d0416f 475px,#d6456c 477px,#dc4869 478px,#e24d66 478.5px,#ec5860 479px,#e55064 479.5px,#c53c74 480px,#ba3878 480.5px,#bc3978 527px,#c43c75 595px,#cd4071 643.5px,#db476a 692px,#e34e65 711px,#e95462 718px,#f05f5e 721px,#f2645c 721.5px,#f8735c 722px,#f5695c 722.5px,#e34e65 723px,#de4968 723.5px,#de4968 725px,#e85362 757.5px,#f1605d 787px,#f7725c 812px,#fb835f 827.5px,#fc9065 835px,#fd9869 838px,#fea973 842px,#feb078 843px,#febb81 844px,#fec488 844.5px,#fed295 845px,#fddc9e 845.5px,#fcfdbf 846px,#fceeb0 846.5px,#f2645c 847px,#f4675c 849px,#f66c5c 850.5px,#f8765c 851px,#f9785d 851.5px,#f56b5c 852px,#f1615d 852.5px,#f7705c 874.5px,#fa815f 890.5px,#fa815f 894.5px)}
.c110{background:linear-gradient(#f4675c 79.5px,#ee5b5f 123px,#e75263 158px,#d8456c 226px,#c73d73 321.5px,#c23b75 370.5px,#c13b76 409px,#c23b75 444.5px,#c93e73 468.5px,#cc3f71 472px,#d5446d 476.5px,#df4a68 478px,#e85362 478.5px,#ea5661 479px,#d8456c 479.5px,#b93878 480px,#bc3978 534px,#c23b75 588.5px,#cd4071 646px,#dc4869 697.5px,#e34e65 712px,#e95462 718.5px,#ec5860 720px,#f05f5d 721.5px,#f3665c 722px,#f8745c 722.5px,#f2645c 723px,#dd4969 723.5px,#de4968 727px,#e75263 755.5px,#f05f5d 785.5px,#f7705c 811px,#fb835f 828.5px,#fd9467 837.5px,#fd9a6a 839.5px,#fea772 842.5px,#feb27a 844px,#febe83 845px,#fec88c 845.5px,#fde2a3 846px,#fde9aa 846.5px,#febb81 847px,#f2645c 847.5px,#f3665c 849px,#f66d5c 851px,#f8765c 851.5px,#f7725c 852px,#f2645c 852.5px,#f1605d 853px,#f7705c 875.5px,#f9795d 885.5px,#fa815f 891px,#fb835f 895.5px)}
.c111{background:linear-gradient(#f4675c 77.5px,#e85362 150.5px,#d9466b 217px,#c83e73 306.5px,#c03a76 391.5px,#c23b75 448.5px,#c73d73 466px,#cc3f71 472px,#d2426f 475.5px,#dc4869 477.5px,#e34e65 478px,#ed5a5f 478.5px,#e24d66 479px,#b83779 479.5px,#bc3978 540.5px,#c23b75 592px,#cc3f71 642px,#d9466b 691px,#e04c67 708.5px,#e75263 717.5px,#ea5661 720px,#ee5c5e 721.5px,#f1605d 722px,#f7705c 723px,#ef5d5e 723.5px,#dc4869 724px,#dc4869 724.5px,#e75263 757px,#ee5b5e 780.5px,#f56b5c 805.5px,#f97b5d 823.5px,#fb8761 832px,#fc9065 837px,#fe9e6c 841.5px,#feab75 844px,#feb97f 845.5px,#fec185 846px,#fecd90 846.5px,#fddea0 847px,#fecd90 847.5px,#fc8a62 848px,#f2645c 848.5px,#f56b5c 851px,#f66e5c 851.5px,#f8765c 852px,#f66e5c 852.5px,#f1605d 853px,#f1605d 854px,#f7725c 878.5px,#f9795d 886.5px,#fb835f 893.5px,#fb835f 897.5px)}
.c112{background:linear-gradient(#f4675c 76.5px,#ee5b5e 119.5px,#e75263 154.5px,#d5446d 235px,#ca3e72 292.5px,#c23b75 357px,#c03a76 437.5px,#c23b75 451.5px,#c83e73 469px,#cf4070 474px,#d5446d 476px,#db476a 477px,#e04b67 477.5px,#ec5860 478px,#f9795d 478.5px,#f3655c 479px,#b83779 479.5px,#ba3878 527.5px,#c13a76 585.5px,#ca3e72 637.5px,#d8456c 688.5px,#df4b67 707px,#e55064 717px,#ea5661 720.5px,#ed5a5f 721.5px,#f1615d 722.5px,#f66e5c 723px,#f66c5c 723.5px,#e95462 724px,#dc4869 724.5px,#dc4869 726.5px,#e75263 758.5px,#f1605d 791px,#f7725c 815.5px,#fb835f 830.5px,#fc8e64 837px,#fd9668 840px,#fea36f 843.5px,#feb078 845.5px,#febc81 846.5px,#fec488 847px,#fed699 847.5px,#fde4a6 848px,#fed194 848.5px,#fc9065 849px,#f3655c 849.5px,#f56b5c 851.5px,#f7725c 852.5px,#f1605d 853.5px,#f1605d 855px,#f7725c 879.5px,#f97b5d 889px,#fb835f 894px,#fb8560 898.5px)}
.c113{background:linear-gradient(#f4675c 75.5px,#e95462 141.5px,#db476a 206.5px,#ca3e72 289.5px,#c03a76 371.5px,#c03a76 442.5px,#c43c75 460px,#c83e73 469.5px,#cf4070 474px,#d3436e 475.5px,#d9466b 476.5px,#dd4968 477px,#e95462 478px,#d8466b 478.5px,#b83779 479px,#ba3878 534.5px,#c03a76 589px,#ca3e72 640px,#d9466b 694.5px,#e24d66 713px,#e85362 719.5px,#ea5661 721px,#ef5d5e 722.5px,#f2625d 723px,#f7705c 723.5px,#f4675c 724px,#e24d66 724.5px,#dc4869 725px,#dc4869 728px,#e55064 756.5px,#ed5a5f 780.5px,#f4695c 805.5px,#f9795d 824px,#fb835f 831.5px,#fc8e64 838px,#fd9668 841px,#fea16e 844px,#feb27a 846.5px,#feb77e 847px,#febf84 847.5px,#feca8d 848px,#fddea0 848.5px,#fddc9e 849px,#feaa74 849.5px,#f3645c 850px,#f56b5c 852px,#f7705c 852.5px,#f66f5c 853px,#f2645c 853.5px,#f05f5d 854px,#f7725c 880.5px,#f97b5d 890px,#fb8560 896.5px,#fb8560 899.5px)}
.c114{background:linear-gradient(#f4675c 73.5px,#ef5d5e 111px,#e85362 145.5px,#d8456c 217px,#c73d73 306.5px,#bf3a77 394.5px,#c03a76 446.5px,#c53c74 465px,#ca3e72 471px,#d2426f 475px,#d7456c 476px,#e04c67 477px,#ee5b5e 477.5px,#e44f64 478px,#b73779 478.5px,#ba3878 540.5px,#c03a76 592.5px,#ca3e72 642.5px,#d9466b 696px,#e04c67 711.5px,#e75263 719.5px,#ea5661 721.5px,#ef5d5e 723px,#f2645c 723.5px,#f7725c 724px,#f2625d 724.5px,#db476a 725px,#db476a 725.5px,#e55064 758px,#ee5b5e 785px,#f56b5c 809px,#f9795d 825px,#fc8961 836px,#fd9266 840.5px,#fe9d6c 844px,#fea571 845.5px,#feb47b 847.5px,#fec287 848.5px,#fed194 849px,#fddc9e 849.5px,#fec287 850px,#fa7d5e 850.5px,#f3655c 851px,#f56b5c 852.5px,#f7715c 853px,#f66c5c 853.5px,#f1605d 854px,#f05f5e 854.5px,#f66e5c 877px,#f9795d 889px,#fb8560 897px,#fb8761 901.5px)}
.c115{background:linear-gradient(#f3665c 72.5px,#ec5860 126px,#e55064 155px,#d9466b 208.5px,#c73d73 303px,#bf3a77 382px,#bf3a77 435px,#c53c74 465.5px,#ca3e72 471px,#cd4071 473px,#d5446d 475.5px,#de4968 476.5px,#e75263 477px,#ef5d5e 477.5px,#e04c67 478px,#b73779 478.5px,#b83779 527.5px,#bf3a77 585.5px,#ca3e72 645px,#d8456c 693.5px,#df4a68 710.5px,#e75263 720px,#ea5661 722px,#ed5a5f 723px,#f05f5e 723.5px,#f66e5c 724.5px,#ee5b5e 725px,#db476a 725.5px,#db476a 727px,#e75263 763px,#f1605d 795px,#f7725c 819px,#fb835f 833.5px,#fd9467 842px,#fea973 847px,#feb67d 848.5px,#febd82 849px,#fec88c 849.5px,#fed799 850px,#fcfdbf 850.5px,#fcfdbf 851px,#f3655c 851.5px,#f56b5c 853px,#f7705c 853.5px,#f05f5e 854.5px,#f2645c 863.5px,#f9785d 888px,#fa815f 896px,#fb8761 898.5px,#fc8861 902.5px)}
.c116{background:linear-gradient(#f3665c 71.5px,#ec5860 124.5px,#e55064 153.5px,#d9466b 206.5px,#c93e73 289.5px,#bf3a77 373px,#bf3a77 440.5px,#c43c75 463px,#c83e73 470px,#cd4071 473px,#d4436e 475px,#db476a 476px,#e24d66 476.5px,#ec5860 477px,#e04b67 477.5px,#b63779 478px,#b83779 534px,#bf3a77 589px,#c83e73 640.5px,#d8456c 695px,#df4a68 711.5px,#e75263 720.5px,#ea5661 722.5px,#ee5b5f 723.5px,#f05f5d 724px,#f66c5c 724.5px,#f56b5c 725px,#e85362 725.5px,#db476a 726px,#db476a 729px,#e55064 761px,#f05f5e 793.5px,#f7705c 818px,#fb835f 834.5px,#fc9065 841.5px,#fd9668 843.5px,#fea772 847.5px,#feae77 848.5px,#fec185 850px,#fece91 850.5px,#fdebac 851px,#fde0a1 851.5px,#fd9a6a 852px,#f3665c 852.5px,#f66c5c 853.5px,#f9785d 854px,#f7705c 854.5px,#f05e5e 855px,#f66e5c 879px,#f97b5d 892.5px,#fb8360 898px,#fc8861 900px,#fc8a62 903.5px)}
.c117{background:linear-gradient(#f3665c 70.5px,#ea5661 133.5px,#e24d66 169px,#d6456c 217.5px,#c43c75 318.5px,#bd3977 400px,#bf3a77 444.5px,#c53c74 466.5px,#c83e73 470px,#d0416f 474px,#d8466b 475.5px,#de4968 476px,#e95462 476.5px,#e75263 477px,#ca3e72 477.5px,#b5367a 478px,#b83779 540px,#bf3a77 592.5px,#ca3e72 649.5px,#d8456c 696.5px,#df4a68 712.5px,#e55064 720.5px,#ea5661 723px,#ee5b5e 724px,#f1605d 724.5px,#f76f5c 725px,#f3655c 725.5px,#e04c67 726px,#d9466b 726.5px,#e44f64 759px,#ee5b5e 789px,#f66e5c 817px,#fa7e5e 831.5px,#fc8e64 841.5px,#fe9d6c 846.5px,#fea571 848px,#feb67c 850px,#fec68a 851px,#fddc9e 851.5px,#fde3a5 852px,#feb97f 852.5px,#f3665c 853px,#f66c5c 854px,#f8745c 854.5px,#f56b5c 855px,#ef5d5e 855.5px,#f56b5c 875.5px,#f8765c 888px,#fa815f 897.5px,#fc8a62 901.5px,#fc8c63 904.5px)}
.c118{background:linear-gradient(#f3665c 69.5px,#ea5661 132px,#e34e65 161.5px,#d8456c 209px,#c53c74 303.5px,#bd3977 385px,#bd3977 431.5px,#bf3a77 447.5px,#c43c75 464.5px,#c83e73 470px,#d04170 473.5px,#d3436e 474.5px,#db476a 475.5px,#e24d66 476px,#ea5661 476.5px,#dc4869 477px,#b5367a 477.5px,#b73779 527px,#bf3a77 596px,#cd4071 664px,#de4968 711px,#e24d66 717.5px,#e85362 722.5px,#ee5b5e 724.5px,#f2625d 725px,#f7705c 725.5px,#f1625d 726px,#d9466b 726.5px,#e75263 767.5px,#f2625d 801.5px,#f66c5c 816px,#f9785d 827.5px,#fb8560 837.5px,#fd9266 844px,#fea36f 848.5px,#feb27a 850.5px,#feb87e 851px,#fec185 851.5px,#fecc90 852px,#fde0a1 852.5px,#fed194 853px,#fc9065 853.5px,#f4695c 854px,#f7705c 854.5px,#f66e5c 855px,#f2645c 855.5px,#ef5d5e 856px,#f56b5c 876.5px,#f9795d 892.5px,#fb8761 901px,#fc9065 903px,#fd9668 905px,#fd9b6a 905.5px)}
.c119{background:linear-gradient(#f3655c 67.5px,#f3655c 74px,#ea5661 130.5px,#e24d66 165.5px,#d8456c 207px,#c53c74 300.5px,#bd3977 376px,#bd3977 437.5px,#c23b75 461.5px,#c73d73 469px,#cc3f71 472px,#d2426f 474px,#d8456c 475px,#de4968 475.5px,#e85362 476px,#e04c67 476.5px,#bf3a77 477px,#b5367a 477.5px,#b73779 533.5px,#bd3977 589px,#c83e73 647.5px,#d6456c 695.5px,#df4a68 714.5px,#e55064 721.5px,#e95462 723.5px,#ec5860 724.5px,#ef5d5e 725px,#f66d5c 726px,#ee5b5e 726.5px,#d9466b 727px,#d9466b 729.5px,#e44f64 762px,#ec5860 785.5px,#f4695c 812.5px,#f9785d 828.5px,#fa815f 836px,#fc8c63 842.5px,#fd9467 845.5px,#fe9f6d 848.5px,#feab75 850.5px,#febb81 852px,#fec488 852.5px,#fed89a 853px,#fddea0 853.5px,#feb47b 854px,#f4695c 854.5px,#f7705c 855px,#f56b5c 855.5px,#f05f5e 856px,#ef5d5e 856.5px,#f66c5c 879.5px,#fa7d5e 896.5px,#fb8560 901px,#fc8961 902px,#fd9165 903px,#fd9a6a 903.5px,#fc8c63 905px,#fa815f 905.5px,#fa815f 907.5px)}
.c120{background:linear-gradient(#f3655c 66.5px,#f3655c 72.5px,#ea5661 129px,#e04c67 169.5px,#d5446d 217.5px,#c23b75 319.5px,#bd3977 368px,#bc3977 407px,#bd3977 442px,#c43c75 465.5px,#c73d73 469px,#cc3f71 472px,#d0416f 473.5px,#db476a 475px,#ea5661 476px,#db476a 476.5px,#b3367a 477px,#b73779 539.5px,#bd3977 592.5px,#c73d73 643px,#d5446d 693px,#de4968 713px,#e54f64 721.5px,#e95462 724px,#ed5a5f 725px,#f05e5e 725.5px,#f56b5c 726px,#f56b5c 726.5px,#e85362 727px,#d8466b 727.5px,#d9466b 731.5px,#e44f64 763.5px,#ed5a5f 790px,#f3655c 809px,#f9785d 829.5px,#fb8761 840.5px,#fd9165 845px,#fd9b6b 848.5px,#fea973 851px,#feb77e 852.5px,#febf84 853px,#fecc8f 853.5px,#fddea0 854px,#fecf92 854.5px,#fc9065 855px,#f66e5c 855.5px,#f4675c 856px,#ef5d5e 856.5px,#f4695c 876px,#f9785d 892.5px,#fb8560 901.5px,#fc8a62 903px,#fd9466 903.5px,#fd9467 904px,#fb8761 904.5px,#fa815f 905px,#fa815f 908.5px)}
.c121{background:linear-gradient(#f3655c 65.5px,#ec5860 117px,#e44f64 151px,#d8456c 203px,#c43c75 304.5px,#bc3978 390px,#bd3977 445.5px,#c23b75 463px,#c73d73 469px,#cd4071 472.5px,#d8456c 474.5px,#de4968 475px,#eb5760 475.5px,#e04c67 476px,#b3367a 476.5px,#b5367a 525.5px,#bd3977 596px,#c83e73 652px,#d8456c 702.5px,#df4a68 716.5px,#e75263 723.5px,#ed5a5f 725.5px,#f05f5d 726px,#f7705c 726.5px,#f4675c 727px,#df4b67 727.5px,#d8456c 728px,#d8456c 728.5px,#e24d66 757.5px,#eb5760 785px,#f4675c 812.5px,#f8765c 829px,#fb815f 838px,#fc8e64 845px,#fea16e 850.5px,#feaa74 852px,#feb47b 853px,#fec488 854px,#fed89a 854.5px,#fddc9e 855px,#feb47b 855.5px,#f66c5c 856px,#ee5b5e 857px,#f4695c 877px,#f9795d 895px,#fb835f 901.5px,#fb8761 903px,#fc9065 904.5px,#fa815f 905.5px,#fa815f 909.5px)}
.c122{background:linear-gradient(#f3655c 64.5px,#ec5860 115.5px,#e44f64 149.5px,#d8466b 201px,#c53c74 291px,#bc3978 379.5px,#bc3978 434px,#c13a76 460.5px,#c43c75 466px,#ca3e72 471px,#d2426f 473.5px,#d6446d 474px,#db476a 474.5px,#eb5760 475.5px,#db476a 476px,#b3367a 476.5px,#b5367a 532px,#bd3977 599px,#ca3e72 660.5px,#d6456c 700px,#df4b67 717.5px,#e75263 724px,#ed5a5f 726px,#f2625d 726.5px,#f7725c 727px,#f2645c 727.5px,#d8456c 728px,#d8456c 730.5px,#e24d66 759px,#eb5760 786.5px,#f4675c 813.5px,#f8765c 830px,#fa7f5e 837.5px,#fc8c63 845px,#fe9d6c 850.5px,#feac76 853px,#feb77e 854px,#febf84 854.5px,#fecc8f 855px,#fddea0 855.5px,#fed194 856px,#fd9a6a 856.5px,#f66e5c 857px,#ee5b5e 857.5px,#f4695c 878px,#f9785d 894px,#fb8560 903px,#fc8961 904px,#fc9065 905px,#fa815f 906.5px,#fb835f 910.5px)}
.c123{background:linear-gradient(#f3655c 63.5px,#eb5760 119.5px,#e34e65 153.5px,#d6456c 205.5px,#c53c74 288px,#bc3978 371.5px,#bc3978 439px,#c03a76 461px,#c53c74 468px,#ca3e72 471px,#d3436e 473.5px,#de4968 474.5px,#ea5661 475px,#de4968 475.5px,#b2357b 476px,#b5367a 538px,#bc3978 592px,#c73d73 650px,#d6456c 701.5px,#df4a68 718px,#e65164 724px,#eb5760 726px,#ee5b5e 726.5px,#f3655c 727px,#f7725c 727.5px,#f1605d 728px,#d7456c 728.5px,#d8456c 732px,#e24d66 760.5px,#ec5860 790.5px,#f3655c 812.5px,#f9785d 832.5px,#fa7f5e 838.5px,#fc8a62 845px,#fd9266 848px,#fea16e 852px,#fea772 853px,#feb47b 854.5px,#fec488 855.5px,#fed89a 856px,#fde1a2 856.5px,#feb97f 857px,#f2635c 857.5px,#ee5b5e 858px,#f56b5c 881px,#fa7d5e 899.5px,#fb835f 903px,#fc8a62 905px,#fd9969 906px,#fc9065 906.5px,#fa815f 907px,#fb835f 911.5px)}
.c124{background:linear-gradient(#f3655c 62.5px,#eb5760 118px,#e34e65 152px,#d6456c 203.5px,#c23b75 305.5px,#ba3878 399px,#bc3978 442.5px,#c23b75 464.5px,#ca3e72 471px,#cf4170 472.5px,#da476a 474px,#e44e65 474.5px,#e75263 475px,#d2426e 475.5px,#b2357b 476px,#b3367a 523.5px,#bc3978 595.5px,#c83e73 658.5px,#d6456c 703px,#df4a68 719px,#e55064 724.5px,#e85362 725.5px,#ef5d5e 727px,#f66c5c 727.5px,#f7725c 728px,#ec5860 728.5px,#d6456c 729px,#e24d66 762px,#eb5760 789px,#f3655c 813.5px,#f9785d 833.5px,#fc8961 845px,#fd9467 849.5px,#fe9f6d 852.5px,#feac76 854.5px,#feb77e 855.5px,#fec085 856px,#fecd90 856.5px,#fde3a5 857px,#fed799 857.5px,#fd9266 858px,#ee5b5e 858.5px,#f4675c 877.5px,#f8765c 894px,#fb835f 903.5px,#fb8761 905px,#fc8e64 906px,#fc8e64 906.5px,#fb8560 907px,#fa815f 907.5px,#fb835f 912.5px)}
.c125{background:linear-gradient(#f3655c 60.5px,#ea5661 122px,#e24d66 156px,#d5446d 208px,#c23b75 302.5px,#ba3878 384.5px,#ba3878 429px,#bc3978 445.5px,#c13a76 462.5px,#c53c74 468px,#cc3f71 471.5px,#d7456c 473.5px,#de4968 474px,#ed5a5f 474.5px,#e34e65 475px,#b2357b 475.5px,#b2357b 504.5px,#b73779 563.5px,#bf3a77 617px,#ca3e72 666.5px,#d9466b 710.5px,#e04c67 721px,#e75263 725.5px,#ec5860 727px,#f05f5e 727.5px,#f9795d 728px,#f97b5d 728.5px,#ea5661 729px,#d6456c 729.5px,#d6456c 731px,#e34e65 767px,#ee5b5e 799px,#f56b5c 821.5px,#fa7d5e 839px,#fc9065 849px,#fd9a6a 852px,#fea772 854.5px,#febb81 856.5px,#fec68a 857px,#fddea0 857.5px,#fcedae 858px,#fec68a 858.5px,#ee5b5f 859px,#f4675c 878.5px,#f9785d 896.5px,#fb8560 905px,#fc8961 906px,#fd9466 907px,#fa815f 908px,#fb8360 914.5px)}
.c126{background:linear-gradient(#f3655c 59.5px,#ea5661 120.5px,#e24d66 154.5px,#d5446d 206px,#c23b75 299.5px,#ba3878 375.5px,#ba3878 435px,#c13a76 463px,#c53c74 468px,#c83e73 470px,#cf4070 472px,#d9466b 473.5px,#e34e65 474px,#ee5b5e 474.5px,#e04c67 475px,#b1357b 475.5px,#b3367a 536px,#ba3878 591px,#c53c74 649.5px,#d2426f 693.5px,#d9476b 712px,#e04c67 722px,#e75263 726px,#ea5661 727px,#f2645c 728.5px,#e85362 729px,#d6456c 729.5px,#d6456c 732.5px,#e34e65 768.5px,#ed5a5f 797.5px,#f56b5c 822.5px,#f97b5d 838.5px,#fc8a62 847.5px,#fd9266 850.5px,#fe9f6d 854px,#fead76 856px,#feb27a 856.5px,#fec186 857.5px,#fecf92 858px,#fcecae 858.5px,#fdda9c 859px,#f8755c 859.5px,#ee5b5f 860px,#f4695c 881.5px,#f97a5d 899px,#fb835f 905px,#fc8961 906.5px,#fc9065 907.5px,#fc8962 908px,#fa805e 908.5px,#fb835f 910.5px,#fb8560 915.5px)}
.c127{background:linear-gradient(#f3655c 58.5px,#e95462 124.5px,#e04c67 158px,#d3436e 210.5px,#c83e73 260px,#bf3a77 319px,#ba3878 368px,#b93878 409px,#bc3978 450px,#c03a76 463px,#c83e73 470px,#d2426f 472.5px,#de4968 473.5px,#f66e5c 474px,#f2645c 474.5px,#b0357b 475px,#b3367a 541.5px,#ba3878 594.5px,#c43c75 645px,#d2426f 695px,#d9466b 713px,#e04c67 722.5px,#e75263 726.5px,#ed5a5f 728px,#f3655c 728.5px,#f1605d 729px,#e14c66 729.5px,#d5446d 730px,#e04c67 762.5px,#ea5661 789.5px,#f2645c 814.5px,#f8745c 833px,#fb8560 845.5px,#fc8e64 850px,#fd9a6a 853.5px,#fea772 856px,#feb078 857px,#feb67c 857.5px,#fec88c 858.5px,#fed698 859px,#fed194 859.5px,#fea16e 860px,#ed5a5f 860.5px,#f4695c 882.5px,#fa7d5e 902.5px,#fb8861 907px,#fc8a62 907.5px,#fd9869 908px,#fd9668 908.5px,#fb835f 909px,#fa815f 909.5px,#fb8560 913px,#fb8560 916.5px)}
.c128{background:linear-gradient(#f3655c 57.5px,#e95462 123px,#e04c67 156.5px,#d5446d 202.5px,#c03a76 304px,#b83779 392.5px,#ba3878 442.5px,#c03a76 463.5px,#c83e73 470px,#ce4071 471.5px,#d3436e 472.5px,#d9466b 473px,#e34e65 473.5px,#f05f5e 474px,#e34e65 474.5px,#b0357b 475px,#b2357b 527.5px,#b83779 587px,#c43c75 647px,#d2426f 696.5px,#db476a 716.5px,#e24d66 724.5px,#e55064 726.5px,#eb5760 728px,#ee5b5e 728.5px,#f4675c 729px,#ef5d5e 729.5px,#db476a 730px,#d5446d 730.5px,#d5446d 731px,#e04c67 764px,#ea5661 791px,#f2645c 815.5px,#f8745c 834px,#fa7f5e 843px,#fc8c63 850px,#fe9f6d 855.5px,#feaa74 857px,#feb47b 858px,#fec287 859px,#fece91 859.5px,#fddea0 860px,#feca8d 860.5px,#fb8761 861px,#ed5a5f 861.5px,#f56b5c 885.5px,#f9795d 900.5px,#fb8360 906.5px,#fb8761 907.5px,#fc9065 908.5px,#fc8a62 909px,#fa815f 909.5px,#fa805e 910px,#fb8560 913.5px,#fb8560 917.5px)}
.c129{background:linear-gradient(#f3655c 56.5px,#ea5661 116.5px,#e34e65 144.5px,#d5446d 200.5px,#c23b75 290.5px,#b83779 381.5px,#b83779 430px,#bf3a77 461.5px,#c43c75 467px,#ca3e72 470.5px,#d2426f 472px,#dc4869 473px,#ee5b5f 473.5px,#e44f64 474px,#b0357b 474.5px,#b2357b 533.5px,#b83779 590px,#c53c74 656px,#d3436e 702px,#db476a 717.5px,#e24d66 725px,#e95462 728px,#ef5e5e 729px,#f4695c 729.5px,#ed5a5f 730px,#d5446d 730.5px,#d5446d 732.5px,#e24d66 769px,#ea5661 792px,#f3655c 819px,#f8745c 835px,#fa815f 845px,#fc8a62 850px,#fd9a6a 855px,#fea16e 856.5px,#feb27a 858.5px,#febb81 859px,#fec68a 860px,#fde2a3 860.5px,#fed395 861px,#fb835f 861.5px,#ed5a5f 862px,#f4675c 882px,#f8765c 898px,#fb835f 907px,#fc8961 908.5px,#fd9366 909.5px,#fc8a62 910px,#fa7f5e 910.5px,#fb8560 914px,#fb8560 918.5px)}
.c130{background:linear-gradient(#f3655c 55.5px,#eb5760 110px,#e34e65 143px,#d5446d 199px,#c23b75 288px,#b83779 373px,#b83779 435px,#bd3977 459px,#c23b75 466px,#c73d73 469px,#d04170 471.5px,#d8456c 472.5px,#e24d66 473px,#e75263 473.5px,#d3426e 474px,#ae347b 474.5px,#b2357b 539px,#ba3878 603.5px,#c53c74 658px,#d2426f 699.5px,#d9466b 716px,#e24d66 725.5px,#ea5561 728.5px,#ec5860 729px,#f4675c 730px,#ea5661 730.5px,#d5446d 731px,#d5446d 734.5px,#df4a68 763px,#ea5661 793.5px,#f3655c 820px,#f8745c 836px,#fb8761 849px,#fc9065 853px,#fe9d6c 856.5px,#feaa74 858.5px,#feb77e 859.5px,#fec185 860.5px,#fed395 861px,#fdda9c 861.5px,#feb078 862px,#ed5a5f 862.5px,#f4675c 883px,#f9785d 900.5px,#fb815f 907px,#fc8961 909px,#fc9065 909.5px,#fc9065 910px,#fb8560 910.5px,#fa7f5e 911px,#fb8560 915px,#fb8761 919.5px)}
.c131{background:linear-gradient(#f3655c 54.5px,#ed5a5f 98px,#e34e65 141.5px,#d2426f 209.5px,#bd3977 317.5px,#b83779 366px,#b73779 404px,#b83779 439px,#bf3a76 462.5px,#c73d73 469px,#cd4071 471px,#d5446d 472px,#db486a 472.5px,#e95462 473px,#dc4969 473.5px,#ae347b 474px,#b0357b 524px,#b83779 596.5px,#c43c75 653.5px,#d2426e 701px,#d9466b 717px,#e24d66 726px,#ea5661 729px,#ed5a5f 729.5px,#f4675c 730px,#f3665c 730.5px,#e44f64 731px,#d3436e 731.5px,#e04c67 768px,#ea5661 794.5px,#f3655c 821px,#f8765c 838.5px,#fa7f5e 845.5px,#fc8a62 851.5px,#fd9a6a 856.5px,#fea571 858.5px,#feb47b 860px,#febb81 861px,#feca8d 861.5px,#fde5a7 862px,#fed395 862.5px,#f7725c 863px,#ed5a5f 863.5px,#f3655c 881.5px,#f8765c 899.5px,#fa815f 907.5px,#fb8560 909px,#fc8e64 910.5px,#fb8560 911px,#fa7f5e 911.5px,#fb8761 917px,#fb8761 920.5px)}
.c132{background:linear-gradient(#f3655c 53.5px,#e85362 123px,#df4a68 156px,#d3436e 201.5px,#bf3a77 303px,#b73779 390px,#b83779 442px,#bd3977 460px,#c03a76 464.5px,#c73d73 469px,#cc3f71 470.5px,#d2426f 471.5px,#d7456c 472px,#e04c67 472.5px,#e24d66 473px,#cc3f71 473.5px,#ae347b 474px,#b0357b 530px,#b83779 599px,#c43c75 655.5px,#d3436e 706px,#db476a 720px,#e24d66 726.5px,#e85362 729px,#ea5661 729.5px,#ee5b5e 730px,#f66e5c 730.5px,#f4695c 731px,#df4a68 731.5px,#d3436e 732px,#d3436e 733px,#de4968 762px,#e95462 792.5px,#f1605d 815px,#f7725c 836px,#fa815f 847.5px,#fc9065 854.5px,#fe9e6c 858px,#feb27a 860.5px,#feb27a 861px,#feb77e 861.5px,#fec287 862px,#fed497 862.5px,#fed295 863px,#fea36f 863.5px,#ed5a5f 864px,#f3655c 882.5px,#f9785d 902px,#fb835f 909px,#fb8761 910px,#fc8e64 911px,#fa7f5e 912px,#fb8761 917.5px,#fb8761 921.5px)}
.c133{background:linear-gradient(#f3655c 52.5px,#e95462 116.5px,#e24d66 144px,#d5446d 194px,#c03a76 289.5px,#b73779 379.5px,#b73779 429.5px,#b83779 444.5px,#bd3977 460.5px,#c13a76 465px,#c83e73 469.5px,#d3436e 471.5px,#db476a 472px,#ec5860 472.5px,#e34e65 473px,#ae347c 473.5px,#b0357b 535.5px,#ba3878 611.5px,#cd4071 690.5px,#d5446d 710.5px,#de4968 724px,#e24d66 727px,#e75263 729px,#eb5760 730px,#f05f5e 730.5px,#fc8e64 731px,#fb8560 731.5px,#d3436e 732px,#d3436e 734.5px,#e24d66 774px,#ed5a5f 805.5px,#f56b5c 829.5px,#f97b5d 844.5px,#fc8a62 853px,#fd9668 857px,#fe9f6d 859px,#feac76 860.5px,#feaf78 861.5px,#feb67c 862px,#febf84 862.5px,#fecf91 863px,#fde9aa 863.5px,#fecd90 864px,#ed5a5f 864.5px,#f4675c 885.5px,#f8765c 901px,#fa7f5e 908px,#fb835f 909.5px,#fc8a62 911px,#fea571 911.5px,#fea470 912px,#fb8560 912.5px,#fa7f5e 913px,#fb8761 918.5px,#fb8861 922.5px)}
.c134{background:linear-gradient(#f3655c 51.5px,#ea5661 110px,#e34e65 137.5px,#d6456c 186.5px,#c23b75 277.5px,#b73779 372px,#b73779 434.5px,#bc3978 458px,#c03a76 465px,#c53c74 468px,#cd4071 470.5px,#d6456c 471.5px,#df4a68 472px,#e34e65 472.5px,#d0416f 473px,#ad347c 473.5px,#b0357b 541px,#b73779 594.5px,#c03a76 646px,#cf4070 696.5px,#d8466b 717.5px,#df4b68 726px,#e75263 729.5px,#ec5860 730.5px,#f2625d 731px,#f05f5e 731.5px,#df4a68 732px,#d3436e 732.5px,#d3436e 736px,#e04c67 772px,#ea5661 798px,#f2625d 819.5px,#f8745c 839.5px,#fa7f5e 848px,#fc8961 853px,#fc9065 856px,#fd9a6a 858.5px,#fea26f 860px,#feaa74 861px,#feac76 862px,#feb27a 862.5px,#feba80 863px,#fec68a 863.5px,#fdda9c 864px,#fecf92 864.5px,#fc9065 865px,#ed5a5f 865.5px,#f4695c 888.5px,#f9785d 903.5px,#fa815f 909.5px,#fc8961 911.5px,#fd9266 912px,#fc8d63 912.5px,#fa815f 913px,#fa7f5e 913.5px,#fc8861 920.5px,#fc8961 923.5px)}
.c135{background:linear-gradient(#f3655c 50.5px,#e95462 114px,#e04c67 146.5px,#d5446d 190.5px,#c23b75 275px,#b73779 365.5px,#b73779 438px,#bc3978 458.5px,#bf3a77 463.5px,#c53c74 468px,#cf4070 470.5px,#d9466b 471.5px,#e55064 472px,#d9466b 472.5px,#ad347c 473px,#ae347b 526px,#b5367a 587px,#c03a76 648px,#cf4070 698px,#d6456c 715.5px,#df4a68 726.5px,#e75263 730px,#ed5a5f 731px,#f3655c 731.5px,#ef5d5e 732px,#d8466b 732.5px,#d2426f 733px,#de4968 766px,#ea5661 799px,#f2625d 820.5px,#f8765c 842px,#fb8560 852px,#fc8e64 856px,#fe9d6c 860px,#fea973 861.5px,#feaa74 862.5px,#feb77e 863.5px,#fec185 864px,#fde4a5 864.5px,#fde2a3 865px,#fe9d6c 865.5px,#ec595f 866px,#f3655c 885px,#f8765c 902.5px,#f97b5d 907px,#fb8360 911px,#fc8961 912px,#fc9065 912.5px,#fc9065 913px,#fb8560 913.5px,#fa7f5e 914px,#fc8961 921px,#fc8961 924.5px)}
.c136{background:linear-gradient(#f3655c 49.5px,#ea5661 107.5px,#e24d66 140px,#d3436e 195px,#bf3a77 291.5px,#b83779 341px,#b5367a 389.5px,#b73779 441px,#bc3978 459px,#bf3a77 463.5px,#c53c74 468px,#ca3e72 469.5px,#d0416f 470.5px,#d5446d 471px,#e44f64 472px,#d2426f 472.5px,#ad347c 473px,#ae347b 531.5px,#b5367a 590px,#c03a76 650px,#d0416f 703.5px,#d8456c 719px,#e04c67 728px,#e55064 730px,#ea5661 731px,#ee5b5e 731.5px,#f56a5c 732px,#ee5b5e 732.5px,#d2426f 733px,#d2426f 734.5px,#e04c67 774.5px,#eb5760 803px,#f3655c 826px,#f8765c 843px,#fc8961 854.5px,#fd9869 859.5px,#fea571 861.5px,#fea973 863px,#feb47b 864px,#febd82 864.5px,#fecd90 865px,#fde2a3 865.5px,#fec68a 866px,#ec5860 866.5px,#f4675c 888px,#f8745c 901.5px,#fa7f5e 910px,#fb8560 912px,#fc8e64 913.5px,#fa7f5e 914.5px,#fc8961 921.5px,#fc8961 925.5px)}
.c137{background:linear-gradient(#f3655c 48.5px,#e95462 111.5px,#e04c67 144px,#d5446d 187.5px,#bf3a77 289px,#b5367a 379.5px,#b5367a 428.5px,#b73779 443.5px,#bc3978 459.5px,#bf3a76 464px,#c83e73 469px,#cd4071 470px,#d8456c 471px,#e75263 471.5px,#df4a68 472px,#b73779 472.5px,#ac337c 473px,#ae347b 537px,#b73779 603px,#c23b75 658.5px,#d2426f 708.5px,#d8456c 720px,#e04c67 728.5px,#e55064 730.5px,#eb5760 731.5px,#f1605d 732px,#f7725c 732.5px,#f1615d 733px,#d2426f 733.5px,#d2426f 736px,#de4968 768.5px,#e95462 798.5px,#f2625d 822.5px,#f7725c 840.5px,#fb8560 853.5px,#fc8e64 857.5px,#fd9a6a 860.5px,#fe9f6d 861.5px,#fea571 862px,#fea370 863px,#fea772 863.5px,#feb97f 865px,#fec68a 865.5px,#fdda9c 866px,#fed395 866.5px,#fd9a6a 867px,#ec5860 867.5px,#f4695c 891px,#f9795d 907px,#fa815f 911.5px,#fb8761 913px,#fd9266 913.5px,#fc9065 914px,#fb825f 914.5px,#fa7e5e 915px,#fc8961 922.5px,#fc8a62 926.5px)}
.c138{background:linear-gradient(#f3655c 47.5px,#ea5661 105px,#e04c67 142.5px,#d5446d 186px,#c03a76 277px,#b5367a 372px,#b5367a 433px,#ba3878 457px,#bf3a77 464px,#c83d73 468.5px,#cc3f71 469.5px,#d3436e 470.5px,#db476a 471px,#ea5561 471.5px,#dd4968 472px,#ab337c 472.5px,#ab337c 487px,#ae347b 542px,#b73779 606px,#c23b75 660.5px,#cf4070 702px,#d6456c 718.5px,#df4a68 728px,#e75263 731px,#ec5860 732px,#f2625d 732.5px,#ec5860 733px,#d6456c 733.5px,#d2426f 734px,#dc4869 766px,#e75263 793.5px,#ee5b5e 813.5px,#f3655c 828px,#f8745c 843px,#fa7d5e 850px,#fc8c63 857.5px,#fd9b6b 861.5px,#fea36f 862.5px,#fea16e 863.5px,#fea571 864px,#feb77e 865.5px,#fec186 866px,#fed395 866.5px,#fed194 867px,#fea36f 867.5px,#ec5860 868px,#f3655c 887.5px,#f8745c 903px,#fa815f 912px,#fb8761 913.5px,#fc8c63 914px,#fc8c63 914.5px,#fb835f 915px,#fa7d5e 915.5px,#fc8a62 924.5px,#fc8a62 927.5px)}
.c139{background:linear-gradient(#f3655c 46.5px,#ea5661 104px,#e24d66 136px,#d5446d 184.5px,#c03a76 274.5px,#b5367a 365.5px,#b5367a 436.5px,#ba3878 457.5px,#bd3977 462.5px,#c43c75 467px,#ca3e72 469px,#d0416f 470px,#d6456c 470.5px,#e24d66 471px,#dd4969 471.5px,#bd3977 472px,#ab337c 472.5px,#ad347c 527px,#b5367a 598.5px,#bf3a77 649px,#cf4070 703px,#d6456c 719.5px,#df4a68 728.5px,#e34e65 730.5px,#e95462 732px,#ed5a5f 732.5px,#f3655c 733px,#eb5760 733.5px,#d0416f 734px,#de4968 771px,#ea5661 803.5px,#f4675c 831px,#f8765c 845.5px,#fa815f 853px,#fc8a62 857.5px,#fd9668 861px,#fea16e 863px,#fea16e 864px,#fea973 865px,#feb47b 866px,#febd82 866.5px,#fecf92 867px,#fde4a6 867.5px,#fec78b 868px,#ec5860 868.5px,#f4675c 890.5px,#f8765c 905.5px,#fa805e 912px,#fb8460 913.5px,#fc8c63 915px,#fa7d5e 916px,#fc8a62 925px,#fc8a62 928.5px)}
.c140{background:linear-gradient(#f3655c 45.5px,#e95462 108px,#df4a68 145px,#d2426f 194.5px,#c43c75 255.5px,#bc3978 302px,#b3367a 391.5px,#b5367a 439.5px,#bc3978 460.5px,#c13a76 465.5px,#cb3e72 469px,#d2426f 470px,#d9466b 470.5px,#ec5860 471px,#e24d66 471.5px,#ab337c 472px,#ad347c 532.5px,#b3367a 590.5px,#c03a76 657.5px,#cf4070 704.5px,#d8456c 722.5px,#df4a68 729px,#e34e65 731px,#e75263 732px,#ea5661 732.5px,#f4675c 733.5px,#ea5661 734px,#d0416f 734.5px,#d0416f 735.5px,#dc4869 768.5px,#e95462 801.5px,#f1605d 823px,#f7725c 843px,#fa7d5e 851.5px,#fb8761 856.5px,#fc8e64 859.5px,#fd9869 862px,#fe9f6d 863px,#fe9f6d 864.5px,#fea772 865.5px,#feb27a 866.5px,#feba80 867px,#fec88c 867.5px,#fddc9e 868px,#fec78b 868.5px,#f8765c 869px,#ec5860 869.5px,#f2645c 887px,#f8745c 904.5px,#fa7d5e 911.5px,#fb835f 914px,#fc9065 915.5px,#fc8a62 916px,#fa7d5e 916.5px,#fc8a62 925.5px,#fc8b62 929.5px)}
.c141{background:linear-gradient(#f3655c 44.5px,#e95462 106.5px,#de4968 149px,#d2426f 193px,#bc3978 299px,#b3367a 380.5px,#b3367a 426px,#b5367a 442px,#ba3878 458.5px,#bd3977 463px,#c43c75 467px,#c83e73 468.5px,#cf4070 469.5px,#d4436d 470px,#de4968 470.5px,#df4a68 471px,#c73d73 471.5px,#aa337d 472px,#ad347c 537.5px,#b5367a 604px,#c23b75 665.5px,#d0416f 709.5px,#d9466b 725px,#e24d66 731px,#e55064 732px,#eb5760 733px,#f4685c 733.5px,#f7715c 734px,#ec5860 734.5px,#d0416f 735px,#d0416f 737px,#df4a68 777px,#ea5661 805.5px,#f2645c 828.5px,#f8745c 845.5px,#fb8560 856.5px,#fc8c63 859.5px,#fd9869 862.5px,#fe9f6d 863.5px,#fe9f6d 864px,#fd9c6b 864.5px,#fea571 866px,#feb77e 867.5px,#fec287 868px,#fdda9c 868.5px,#fecd90 869px,#fb835f 869.5px,#ec5860 870px,#f2625d 885.5px,#f7725c 903.5px,#fb815f 914px,#fb8560 915px,#fc8c63 916px,#fa7d5e 917px,#fc8a62 926px,#fc8c63 930.5px)}
.c142{background:linear-gradient(#f3655c 43.5px,#e95462 105.5px,#df4a68 142.5px,#d2426f 191.5px,#bd3977 286.5px,#b3367a 373px,#b3367a 431px,#ba3878 459px,#c13a76 465.5px,#c73d73 468px,#d0416f 469.5px,#d6456c 470px,#e55064 470.5px,#d8466b 471px,#aa337d 471.5px,#aa337d 486.5px,#ad347c 542px,#b5367a 606.5px,#c03a76 661px,#cf4170 707px,#d6456c 722px,#de4a68 729.5px,#e55064 732.5px,#ed5a5f 733.5px,#f2645c 734px,#ea5661 734.5px,#d0416f 735px,#dc4869 771px,#e85362 801px,#f05f5e 822.5px,#f66c5c 839.5px,#f9795d 850.5px,#fb8761 858px,#fd9266 862px,#fe9e6c 864px,#fd9b6a 865px,#fe9d6c 865.5px,#fea973 867px,#feb67c 868px,#febf84 868.5px,#fed799 869px,#fed395 869.5px,#fd9a6a 870px,#ec5860 870.5px,#f2645c 888.5px,#f8745c 906px,#fa815f 914.5px,#fb8560 915.5px,#fc8e64 916.5px,#fa7d5e 917.5px,#fc8c63 928px,#fc8c63 931.5px)}
.c143{background:linear-gradient(#f3655c 42.5px,#e95462 104.5px,#e24d66 131px,#d5446d 178.5px,#bf3a77 274.5px,#b3367a 367px,#b3367a 434.5px,#b83779 456.5px,#bf3a76 464.5px,#c63d74 467.5px,#ca3e72 468.5px,#d2426f 469.5px,#db476a 470px,#e85362 470.5px,#d9476b 471px,#aa337d 471.5px,#ab337c 527px,#b3367a 599px,#bf3a77 656.5px,#cf4070 708px,#d5446d 720.5px,#de4a68 730px,#e75263 733px,#ea5561 733.5px,#f3655c 734.5px,#e95461 735px,#cf4170 735.5px,#db476a 768.5px,#e85362 802px,#f05f5e 823.5px,#f7725c 845.5px,#f97b5d 852.5px,#fc8961 859.5px,#fd9467 863px,#fe9d6c 864.5px,#fd9a6a 865.5px,#fea772 867.5px,#feb37b 868.5px,#febc82 869px,#fecc8f 869.5px,#fed89a 870px,#feb67c 870.5px,#ec5860 871px,#f2625d 887px,#f7725c 905px,#f9795d 911px,#fa815f 915px,#fb8560 916px,#fc8961 916.5px,#fc9065 917px,#fc8a62 917.5px,#fa7d5e 918px,#fb835f 923px,#fc8c63 928.5px,#fc8c63 932.5px)}
.c144{background:linear-gradient(#f3655c 41.5px,#e85362 108.5px,#df4a68 140px,#d2426f 188.5px,#c23b75 255.5px,#ba3878 302px,#b2357b 398px,#b3367a 437.5px,#ba3878 459.5px,#bf3a77 464.5px,#c83e73 468px,#cf4070 469px,#d5446d 469.5px,#e24d66 470px,#e85362 470.5px,#d0416f 471px,#aa337d 471.5px,#ab337c 532px,#b3367a 601.5px,#c03a76 664.5px,#cf4070 709px,#d6456c 723.5px,#de4a68 730.5px,#e75263 733.5px,#eb5760 734px,#f4675c 734.5px,#f05f5e 735px,#d4436d 735.5px,#cf4070 736px,#cf4070 736.5px,#de4968 777px,#e75263 800px,#ef5d5e 822px,#f66e5c 843px,#f9795d 852px,#fb8560 858.5px,#fc8c63 861.5px,#fd9668 864px,#fd9b6b 864.5px,#fd9969 865.5px,#fd9b6b 866.5px,#feaa74 868.5px,#feb179 869px,#feb97f 869.5px,#fec78a 870px,#fdda9c 870.5px,#fec589 871px,#f9785d 871.5px,#ec5860 872px,#f1605d 885.5px,#f7705c 904px,#fa7f5e 915px,#fb8560 916.5px,#fc8c63 917.5px,#fc8a62 918px,#fa815f 918.5px,#fa7d5e 919px,#fc8c63 929px,#fc8e64 933.5px)}
.c145{background:linear-gradient(#f3655c 40.5px,#e95462 102px,#df4a68 139px,#d2426f 187px,#bc3978 289px,#b2357b 384px,#b2357b 422px,#b3367a 440px,#b83779 457.5px,#bc3978 462px,#c23b75 466px,#cc3f71 468.5px,#d0416f 469px,#e04c67 470px,#cf4170 470.5px,#a8327d 471px,#aa337d 513.5px,#b0357b 582px,#b83779 631px,#c43c75 678px,#d0416f 713.5px,#db476a 729px,#e34e65 733px,#e85362 734px,#ec5860 734.5px,#f2645c 735px,#ea5661 735.5px,#cf4070 736px,#cf4070 738px,#dc4869 774.5px,#e85362 804px,#f1605d 827.5px,#f7705c 845.5px,#f97b5d 854px,#fb8761 860px,#fd9668 864.5px,#fd9b6b 865px,#fd9768 866px,#fd9869 866.5px,#fea571 868.5px,#fea974 869px,#feb77e 870px,#fec287 870.5px,#fddea0 871px,#fed395 871.5px,#fc8961 872px,#ec5860 872.5px,#f3655c 893px,#f8745c 908px,#fa7f5e 915.5px,#fb8761 917.5px,#fc8c63 918px,#fc8961 918.5px,#fa7f5e 919px,#fa7d5e 920px,#fc8e64 931px,#fc8e64 934.5px)}
.c146{background:linear-gradient(#f3655c 40.5px,#e95462 101px,#e04c67 132.5px,#d3436e 180px,#bd3977 277px,#b5367a 334.5px,#b2357b 376px,#b2357b 428px,#b73779 454.5px,#bc3978 462px,#c23b75 466px,#c73d73 467.5px,#cd4071 468.5px,#d3436e 469px,#de4968 469.5px,#df4a68 470px,#c73d73 470.5px,#a8327d 471px,#ab337c 541.5px,#b3367a 606.5px,#bf3a77 661.5px,#cd4071 707.5px,#d5446d 723px,#df4a68 732px,#e55064 734px,#e95462 734.5px,#ef5d5e 735px,#f56b5c 735.5px,#ed5a5f 736px,#cf4070 736.5px,#d2426f 748px,#e04c67 786px,#eb5760 813.5px,#f3655c 835px,#f9795d 853.5px,#fc8961 861.5px,#fd9668 865px,#fd9b6b 865.5px,#fd9668 866.5px,#fd9a6a 867.5px,#fea370 869px,#feae77 870px,#febf84 871px,#fcfdbf 871.5px,#fcfdbf 872px,#fea872 872.5px,#eb5760 873px,#f2645c 891.5px,#f66e5c 903.5px,#f9795d 913px,#fa7f5e 916px,#fb8761 918px,#fd9a6a 918.5px,#fd9768 919px,#fa7f5e 919.5px,#fa7d5e 920px,#fc8e64 931.5px,#fc8e64 934.5px)}
.c147{background:linear-gradient(#f3655c 39.5px,#e95462 100px,#e04c67 131.5px,#d3436e 178.5px,#bd3977 275px,#b2357b 369.5px,#b2357b 432px,#b73779 455px,#ba3878 460.5px,#c23b75 466px,#c53c74 467px,#cf4070 468.5px,#d5446d 469px,#e44f64 469.5px,#d6456c 470px,#a8327d 470.5px,#a8327d 495.5px,#b0357b 588px,#b83779 635px,#c43c75 681px,#cf4170 712.5px,#d8456c 727.5px,#dc4869 731px,#e24d66 733.5px,#ea5661 735px,#f1605d 735.5px,#eb5760 736px,#d3436e 736.5px,#ce4070 737px,#d9466b 769.5px,#e55064 800px,#ec5860 817px,#f3655c 836px,#f7705c 847px,#f97b5d 855.5px,#fb8560 860.5px,#fc8e64 864px,#fd9a6a 866px,#fd9467 867px,#fd9b6b 868.5px,#feac76 870.5px,#febd82 871.5px,#fecf92 872px,#fed294 872.5px,#fea571 873px,#eb5760 873.5px,#f3655c 894.5px,#f8765c 911px,#fb815f 917.5px,#fb8761 918.5px,#fc8e64 919px,#fc8a62 919.5px,#fa7f5e 920px,#fa7d5e 921px,#fc8e64 932px,#fc8f64 935.5px)}
.c148{background:linear-gradient(#f3655c 38.5px,#e85362 104px,#df4a68 135.5px,#d2426f 183px,#bc3978 282px,#b2357b 363.5px,#b2357b 435px,#b73779 455.5px,#bd3977 463.5px,#c43c75 466.5px,#c83e73 467.5px,#d0416f 468.5px,#e34e65 469.5px,#d2426f 470px,#a8327d 470.5px,#aa337d 531px,#b0357b 590.5px,#bc3978 651.5px,#cc3f71 706px,#d5446d 724.5px,#dc4869 731.5px,#e44f64 734.5px,#ec5860 735.5px,#f4675c 736px,#ec5860 736.5px,#cd4071 737px,#cd4071 737.5px,#dc4869 778px,#e85362 807px,#f2625d 832.5px,#f7725c 849.5px,#f9795d 855px,#fb8761 862px,#fc9065 865px,#fd9a6a 866.5px,#fd9467 867.5px,#fd9668 868px,#fea26e 870px,#feaa74 871px,#febb81 872px,#feca8d 872.5px,#fde0a1 873px,#fec488 873.5px,#eb5760 874px,#f2625d 891px,#f8745c 910px,#fa815f 918px,#fb835f 918.5px,#fc8c63 919.5px,#fc8961 920px,#fa7e5e 920.5px,#fa7d5e 921.5px,#fc9065 933.5px,#fc9065 936.5px)}
.c149{background:linear-gradient(#f3655c 37.5px,#e85362 103px,#de4968 139px,#cf4070 193px,#ba3878 289.5px,#b3367a 340px,#b0357b 390.5px,#b2357b 437.5px,#b73779 456px,#bf3a77 464.5px,#c73d73 467px,#cd4071 468px,#d3436e 468.5px,#df4a68 469px,#db476a 469.5px,#bc3978 470px,#a7327d 470.5px,#a8327d 511.5px,#ad347c 568.5px,#b5367a 622.5px,#c03a76 672.5px,#cd4071 711px,#d3436e 723px,#d9466b 730px,#e34e65 734.5px,#e95462 735.5px,#f2645c 736.5px,#e85362 737px,#cd4071 737.5px,#d9466b 771.5px,#e55064 802px,#ec5860 819px,#f2645c 835.5px,#f7705c 848.5px,#fb835f 861px,#fc9065 865.5px,#fd9a6a 866.5px,#fd9a6a 867px,#fd9467 867.5px,#fd9467 868px,#fe9d6c 870px,#fea571 871px,#feb078 872px,#feb97f 872.5px,#fec68a 873px,#fdda9c 873.5px,#fec88b 874px,#f97b5d 874.5px,#eb5760 875px,#f1605d 889.5px,#f7725c 909px,#fa7d5e 917px,#fb835f 919px,#fc8c63 920px,#fc8961 920.5px,#fa7d5e 921px,#fa7d5e 922.5px,#fc9065 934px,#fc9065 937.5px)}
.c150{background:linear-gradient(#f3655c 36.5px,#e95462 97px,#df4a68 133px,#d0416f 186px,#ba3878 287.5px,#b0357b 380.5px,#b0357b 423.5px,#b2357b 440px,#b73779 456.5px,#bd3977 463.5px,#c73d73 467px,#cf4070 468px,#d6456c 468.5px,#e55064 469px,#d8456c 469.5px,#a6317d 470px,#a6317d 477px,#aa337d 540px,#ae347b 584.5px,#c03a76 674px,#cd4071 712px,#d9466b 730.5px,#dc4869 732.5px,#e44f65 735px,#ea5661 736px,#f2635c 736.5px,#ee5b5e 737px,#d6456c 737.5px,#cd4071 738px,#db476a 776.5px,#e55064 803px,#ed5a5f 822.5px,#f3655c 838.5px,#f7725c 851px,#fa7f5e 859.5px,#fc8961 864px,#fc9065 866px,#fd9467 866.5px,#fd9b6b 867px,#fd9869 867.5px,#fd9165 868px,#fd9a6a 870px,#feae77 872.5px,#fec387 873.5px,#fed799 874px,#fec185 874.5px,#f66e5c 875px,#eb5760 875.5px,#f2645c 894.5px,#f7705c 908px,#f9795d 915.5px,#fa7f5e 918.5px,#fb835f 919.5px,#fc8c63 920.5px,#fc8961 921px,#fa7d5e 921.5px,#fa7d5e 922px,#fb8560 928.5px,#fc9065 934.5px,#fd9165 938.5px)}
.c151{background:linear-gradient(#f3655c 35.5px,#e95462 96px,#df4a68 132px,#d0416f 184.5px,#ba3878 285px,#b0357b 373px,#b0357b 428px,#b73779 457px,#bc3978 462.5px,#c53c74 466.5px,#d0416f 468px,#da476b 468.5px,#de4968 469px,#c83d73 469.5px,#a6317d 470px,#a8327d 523.5px,#ad347c 574.5px,#b5367a 626.5px,#c03a76 675.5px,#cd4071 713px,#d8466b 730px,#e24d66 735px,#e85362 736px,#ec5860 736.5px,#f2645c 737px,#ea5661 737.5px,#cd4071 738px,#cd4071 741px,#db476a 777.5px,#e75263 807px,#f05f5e 830.5px,#f66e5c 848.5px,#fa7f5e 860.5px,#fc8961 864.5px,#fc9065 866.5px,#fd9467 867px,#fc9065 868.5px,#fd9467 869.5px,#fe9f6d 871.5px,#feae77 873px,#feb67c 873.5px,#fec185 874px,#fed597 874.5px,#fde2a3 875px,#febd82 875.5px,#eb5760 876px,#f1605d 891px,#f8745c 912px,#fa7f5e 919px,#fb835f 920px,#fc8c63 921px,#fc8961 921.5px,#fa7d5e 922px,#fa7c5e 922.5px,#fb8560 929px,#fc9065 935px,#fd9266 939.5px)}
.c152{background:linear-gradient(#f3645c 34.5px,#e95462 95px,#e04c67 126px,#d2426f 177.5px,#ba3878 283px,#b0357b 367.5px,#b0357b 431.5px,#b5367a 454px,#b83779 459.5px,#c03a76 465px,#c83e73 467px,#cd4071 467.5px,#d3436e 468px,#e24d66 468.5px,#d9466b 469px,#b2357b 469.5px,#a6317d 470px,#a8327d 528.5px,#ad347c 577.5px,#b5367a 628.5px,#bf3a77 671px,#cc3f71 710px,#d6456c 729px,#e04c67 735px,#e95462 736.5px,#f05f5e 737px,#f05f5e 737.5px,#df4a68 738px,#cc3f71 738.5px,#cd4071 742.5px,#d9466b 775px,#e75263 808px,#f05f5d 831.5px,#f7725c 852.5px,#f97b5d 859px,#fb8761 864.5px,#fc9065 867px,#fd9567 867.5px,#fd9467 868px,#fc9065 868.5px,#fd9668 870.5px,#fea772 873px,#feb47b 874px,#febf84 874.5px,#fde0a2 875px,#fde8aa 875.5px,#feb47b 876px,#eb5760 876.5px,#f2645c 896px,#f8765c 914px,#fa7f5e 919.5px,#fb8761 921px,#fc9064 921.5px,#fc8c63 922px,#fa7d5e 922.5px,#fa7c5d 923px,#fc8962 932px,#fd9266 936.5px,#fd9266 940.5px)}
.c153{background:linear-gradient(#f3645c 34.5px,#e95462 94px,#df4a68 129.5px,#d2426f 176.5px,#bc3978 271.5px,#b0357b 362px,#b0357b 434.5px,#b5367a 454.5px,#ba3878 461.5px,#c03a76 465px,#ca3e72 467px,#cf4070 467.5px,#df4a68 468.5px,#cd4071 469px,#a6317d 469.5px,#a6317d 507.5px,#ab337c 567px,#b3367a 622px,#bf3a77 672.5px,#cf4070 718px,#d6456c 729.5px,#df4b67 735px,#e34e65 736px,#ea5661 737px,#f56b5c 737.5px,#ef5d5e 738px,#cc3f71 738.5px,#db476a 779.5px,#e95462 814.5px,#f1605d 834.5px,#f66e5c 850px,#f9795d 858.5px,#fb835f 863.5px,#fc9065 867.5px,#fd9668 868px,#fc8e64 869px,#fd9869 871.5px,#fea26f 873px,#feb27a 874.5px,#febd82 875px,#fed194 875.5px,#fde0a1 876px,#febd82 876.5px,#eb5760 877px,#f2625d 894.5px,#f7705c 910px,#f9785d 916px,#fa7f5e 920px,#fb835f 921px,#fc8a62 922px,#f97b5d 923.5px,#fc8961 932.5px,#fd9266 937px,#fd9266 940.5px)}
.c154{background:linear-gradient(#f3645c 33.5px,#e95462 93px,#df4a68 128.5px,#d0416f 180.5px,#c43c75 230.5px,#b83779 288.5px,#b2357b 338.5px,#ae347b 388.5px,#b0357b 437px,#b73779 458px,#bd3977 463.5px,#c73d73 466.5px,#d0416f 467.5px,#db476a 468px,#e75263 468.5px,#d6456c 469px,#a5317e 469.5px,#a6317d 514.5px,#ad347c 583px,#b5367a 632.5px,#c03a76 679.5px,#cf4070 719px,#d8456c 731.5px,#db476a 733.5px,#e44f64 736.5px,#e85362 737px,#ed5a5f 737.5px,#f3655c 738px,#ea5661 738.5px,#cc3f71 739px,#cc3f71 740.5px,#db476a 780.5px,#e85362 812.5px,#f2625d 837.5px,#f8745c 855px,#fb8560 865px,#fc8e64 867.5px,#fd9869 868.5px,#fc8e64 869.5px,#fd9869 872px,#fea571 874px,#feb27a 875px,#febb81 875.5px,#fecd90 876px,#fde8aa 876.5px,#fecd90 877px,#eb5760 877.5px,#f1605d 893px,#f7705c 910.5px,#f97c5d 919px,#fb835f 921.5px,#fc8c63 923px,#f97b5d 924px,#fc8961 933px,#fd9266 937.5px,#fd9467 941.5px)}
.c155{background:linear-gradient(#f2645c 32.5px,#e85362 97px,#de4968 132.5px,#cf4070 185px,#b83779 286.5px,#ae347b 379.5px,#ae347b 422.5px,#b0357b 439px,#b5367a 455.5px,#ba3878 461.5px,#bd3977 463.5px,#c53c74 466px,#cc3f71 467px,#d2426e 467.5px,#e44f64 468px,#e04b67 468.5px,#ba3878 469px,#a5317e 469.5px,#a5317e 482.5px,#a8327d 542px,#ae347b 597px,#b73779 642px,#c23b75 686.5px,#cd4071 716.5px,#d8456c 732px,#db476a 734px,#e24d66 736.5px,#e95462 737.5px,#f05f5e 738px,#ea5661 738.5px,#d2426f 739px,#cc3f71 739.5px,#d8456c 774.5px,#e55064 807.5px,#ed5a5f 826.5px,#f3665c 842.5px,#f7725c 854.5px,#fa7f5e 863px,#fb8560 865.5px,#fc8e64 868px,#fd9266 868.5px,#fc8c63 869.5px,#fc8d63 870px,#fd9a6a 873px,#fea571 874.5px,#feb078 875.5px,#feb97f 876px,#fed89a 877px,#feb67d 877.5px,#eb5760 878px,#f2625d 896px,#f66e5c 909.5px,#f97b5d 919.5px,#fb835f 922px,#fc8c63 923px,#fb8661 923.5px,#f97b5d 924px,#f97b5d 924.5px,#fb8761 932.5px,#fd9467 939px,#fd9467 942.5px)}
.c156{background:linear-gradient(#f2645c 31.5px,#e85362 96px,#df4a68 126.5px,#d0416f 178px,#ba3878 275px,#ae347b 372.5px,#ae347b 427px,#b5367a 456px,#ba3878 461.5px,#bd3977 463.5px,#c43c75 465.5px,#cd4071 467px,#e04b67 468px,#cf4070 468.5px,#a5317e 469px,#a5317e 493.5px,#aa337d 562px,#b2357b 619px,#bf3a77 676.5px,#cd4071 717.5px,#d3436e 728px,#dc4869 735px,#e04c67 736.5px,#e65163 737.5px,#eb5760 738px,#f3655c 738.5px,#eb5760 739px,#cc3f71 739.5px,#d8456c 775.5px,#e75263 811.5px,#ee5b5e 830px,#f4695c 847px,#f97b5d 861.5px,#fb8560 866px,#fc8e64 868.5px,#fd9266 869px,#fc9065 869.5px,#fc8b62 870px,#fd9467 872.5px,#fea973 875.5px,#feb97f 876.5px,#fec88c 877px,#fdda9c 877.5px,#febb81 878px,#ea5661 878.5px,#f1605d 894.5px,#f8745c 915px,#fa7d5e 921px,#fb835f 922.5px,#fb8761 923px,#fc8f64 923.5px,#fc8962 924px,#f97b5d 924.5px,#f97b5d 925px,#fb8761 933px,#fd9467 939.5px,#fd9467 943.5px)}
.c157{background:linear-gradient(#f2645c 31.5px,#e85362 95px,#df4a68 125.5px,#d0416f 177px,#ba3878 273px,#ae347b 367px,#ae347b 430.5px,#b3367a 453px,#b73779 458.5px,#bd3977 463.5px,#c43c75 465.5px,#ca3e72 466.5px,#d04170 467px,#da476b 467.5px,#db476a 468px,#c23b75 468.5px,#a5317e 469px,#a5317e 502px,#ae347b 601.5px,#b73779 645.5px,#c23b75 689px,#cd4071 718.5px,#d8456c 733px,#dc4869 735.5px,#e24d66 737px,#e85362 738px,#ef5d5e 738.5px,#ef5c5e 739px,#dd4969 739.5px,#cb3f72 740px,#d8456c 776.5px,#e75263 812.5px,#f05f5e 835.5px,#f56b5c 849.5px,#f8765c 858.5px,#fa815f 865px,#fc8a62 868px,#fd9467 869.5px,#fc8a62 870.5px,#fd9668 873.5px,#fe9f6d 875px,#fea973 876px,#feb77e 877px,#fec68a 877.5px,#fde0a1 878px,#fec68a 878.5px,#ea5661 879px,#f3665c 901.5px,#f8765c 917px,#fa7d5e 921.5px,#fb835f 923px,#fb8761 923.5px,#fc9065 924px,#fc8a62 924.5px,#f97b5d 925px,#f97b5d 925.5px,#fb8761 933.5px,#fd9667 941px,#fd9668 943.5px)}
.c158{background:linear-gradient(#f2645c 30.5px,#e85362 94px,#df4a68 124.5px,#d0416f 175.5px,#ba3878 271px,#ae347b 362px,#ae347b 433px,#b3367a 453.5px,#b93779 460.5px,#c23b75 465px,#c73d73 466px,#d2426f 467px,#e44f65 467.5px,#e34e65 468px,#c03a76 468.5px,#a5317e 469px,#a5317e 509px,#aa337d 568px,#b3367a 631.5px,#c03a76 685px,#cd4071 719.5px,#d5446d 731px,#d9466b 734.5px,#df4a68 736.5px,#e24d66 737.5px,#ea5661 738.5px,#f4695c 739px,#ee5b5e 739.5px,#ca3e72 740px,#d8456c 777.5px,#e55064 810.5px,#ee5b5e 831.5px,#f4675c 846.5px,#f7725c 856.5px,#fa815f 865.5px,#fc8c63 869px,#fd9366 869.5px,#fd9266 870px,#fc8a62 870.5px,#fc8a62 871px,#fd9668 874px,#fea36f 876px,#feae77 877px,#feb77e 877.5px,#fec488 878px,#fed799 878.5px,#fec88c 879px,#fb8560 879.5px,#ea5661 880px,#f2625d 898px,#f7725c 914.5px,#fa7d5e 922px,#fc8961 924.5px,#f97b5d 925.5px,#f97b5d 926px,#fb8761 934px,#fd9567 941px,#fd9668 944.5px)}
.c159{background:linear-gradient(#f2645c 29.5px,#f2645c 35.5px,#e75263 98px,#de4968 128.5px,#cf4070 180px,#c13a76 237px,#b73779 288.5px,#b0357b 338.5px,#ad347c 390.5px,#ae347b 435.5px,#b5367a 457px,#bc3978 462.5px,#c23b75 465px,#cd4071 466.5px,#df4a68 467.5px,#ce4071 468px,#a3317e 468.5px,#aa337d 571px,#b2357b 624.5px,#bd3977 675px,#ca3e72 713.5px,#d5446d 731.5px,#d8456c 734px,#e04c67 737.5px,#e75263 738.5px,#ed5a5f 739px,#f05f5d 739.5px,#e44f64 740px,#ca3e72 740.5px,#d8456c 778.5px,#e34e65 805px,#ed5a5f 830px,#f4695c 849px,#f8745c 858.5px,#fa7e5e 864.5px,#fb835f 867px,#fc8c63 869.5px,#fc9065 870px,#fc8e64 870.5px,#fc8961 871px,#fd9668 874.5px,#fea36f 876.5px,#feb67c 878px,#fed395 879px,#fec185 879.5px,#f9795d 880px,#ea5661 880.5px,#f1605d 896.5px,#f7725c 915px,#fa7d5e 922.5px,#fb835f 924px,#fc8c63 925px,#f97b5d 926px,#f97b5d 926.5px,#fb8761 934.5px,#fd9668 941.5px,#fd9768 945.5px)}
.c160{background:linear-gradient(#f2645c 28.5px,#f2645c 34.5px,#e95462 87.5px,#de4968 127.5px,#cd4071 184.5px,#b83779 276.5px,#b0357b 335.5px,#ad347c 381px,#ae347b 437.5px,#b5367a 457px,#bc3978 462.5px,#c53c74 465.5px,#cf4070 466.5px,#d9466b 467px,#ec5860 467.5px,#e24d66 468px,#a3307e 468.5px,#a3307e 483px,#ab337c 586.5px,#b3367a 635px,#c03a76 687.5px,#ca3e72 714.5px,#d5446d 732px,#df4a68 737.5px,#e44f64 738.5px,#e85462 739px,#f1605d 739.5px,#ec5860 740px,#d3436e 740.5px,#ca3e72 741px,#d8456c 779.5px,#e75263 815px,#ef5d5e 835.5px,#f56b5c 851.5px,#fa7d5e 865px,#fb835f 867.5px,#fc8a62 869.5px,#fd9467 870.5px,#fc9065 871px,#fc8961 871.5px,#fd9869 875.5px,#fea772 877.5px,#feb67c 878.5px,#fec287 879px,#fddea0 879.5px,#fecd90 880px,#f8765c 880.5px,#ea5661 881px,#f1605d 897px,#f7725c 915.5px,#fa7d5e 923px,#fb835f 924.5px,#fc8961 925px,#fc8962 925.5px,#f97b5d 926.5px,#f97c5d 927.5px,#fb8761 935px,#fd9869 943px,#fd9869 946.5px)}
.c161{background:linear-gradient(#f2645c 28.5px,#e95462 86.5px,#df4a68 121.5px,#cf4070 178px,#b83779 274.5px,#b0357b 332.5px,#ad347c 374px,#ad347c 424.5px,#b3367a 455px,#b83779 460.5px,#c03a76 464px,#ca3e72 466px,#d0416f 466.5px,#e04c67 467px,#db476a 467.5px,#b5367a 468px,#a3307e 468.5px,#a3307e 493.5px,#a6317d 546px,#ad347c 600px,#b5367a 644.5px,#c03a76 688.5px,#cc3f71 718.5px,#d5446d 732.5px,#de4968 737.5px,#e55064 739px,#ee5b5e 740px,#e04c67 740.5px,#ca3e72 741px,#d8456c 780.5px,#e55064 813px,#ed5a5f 831.5px,#f4695c 850.5px,#f9795d 863.5px,#fb835f 868px,#fc8a62 870px,#fc8e64 870.5px,#fc8961 871.5px,#fc8961 872px,#fd9869 876px,#fea772 878px,#feb67c 879px,#fec287 879.5px,#fed89a 880px,#fec68a 880.5px,#f8745c 881px,#ea5661 881.5px,#f2645c 902px,#f66e5c 913px,#fa7d5e 923.5px,#fb835f 925px,#fc8962 925.5px,#fc8961 926px,#fa7f5e 926.5px,#f97b5d 927px,#f97b5d 928px,#fb8761 935.5px,#fd9869 943.5px,#fd9869 946.5px)}
.c162{background:linear-gradient(#f2645c 27.5px,#e85362 90.5px,#df4a68 120.5px,#d0416f 171px,#b83779 273px,#ad347c 368.5px,#ad347c 428px,#b3367a 455px,#b83779 460.5px,#bc3978 462.5px,#c43c75 465px,#cc3f71 466px,#d3436e 466.5px,#e44f64 467px,#d6456c 467.5px,#a3307e 468px,#a3307e 501.5px,#a8327d 565.5px,#b0357b 621.5px,#bf3a77 684.5px,#cd4071 722.5px,#d5446d 733px,#d9466b 736px,#e04c67 738.5px,#e85362 739.5px,#f1605d 740px,#f8765c 740.5px,#f1625d 741px,#ca3e72 741.5px,#d9466b 785px,#e75263 816.5px,#ef5d5e 837px,#f66c5c 854.5px,#fa7f5e 867px,#fc8a62 870.5px,#fc9065 871px,#fc8e64 871.5px,#fb8761 872px,#fc9065 875px,#fd9869 876.5px,#fea772 878.5px,#feac76 879px,#feb67c 879.5px,#fec286 880px,#fed799 880.5px,#fec488 881px,#f7725c 881.5px,#ea5661 882px,#f2625d 900.5px,#f7725c 917px,#fa7d5e 924px,#fb835f 925.5px,#fc8c63 926.5px,#f97b5d 927.5px,#f97b5d 928.5px,#fb8761 936px,#fd9969 944.5px,#fd9a6a 947.5px)}
.c163{background:linear-gradient(#f2645c 26.5px,#e85362 89.5px,#df4a68 119.5px,#d0416f 170px,#b83779 271px,#ad347c 363.5px,#ad347c 431px,#b2357b 452.5px,#b73779 459.5px,#bc3978 462.5px,#c23b75 464.5px,#c83e73 465.5px,#cd4071 466px,#d7456c 466.5px,#dc4869 467px,#c53c74 467.5px,#a3307e 468px,#a3307e 508px,#a8327d 568px,#ae347b 614px,#b83779 661.5px,#c23b75 696px,#ca3e72 717px,#d5446d 733.5px,#d9466b 736.5px,#df4a68 738.5px,#e44f64 739.5px,#f05f5d 740.5px,#e75263 741px,#c83e73 741.5px,#d9466b 786px,#e75263 817.5px,#ef5d5e 837.5px,#f56b5c 853.5px,#f8745c 861px,#fa7f5e 867.5px,#fc8961 870.5px,#fc9065 871.5px,#fb8761 872.5px,#fd9266 876px,#fe9e6c 878px,#fea772 879px,#feac76 879.5px,#fec186 880.5px,#fed799 881px,#fec488 881.5px,#f7725c 882px,#ea5661 882.5px,#f1605d 899px,#f7725c 917.5px,#fa7d5e 924.5px,#fb8460 926px,#fc8a62 926.5px,#fb8761 927px,#f97b5d 927.5px,#f97b5d 929px,#fb8761 936.5px,#fd9a6a 945px,#fd9a6a 948.5px)}
.c164{background:linear-gradient(#f2645c 25.5px,#f2645c 31.5px,#e95462 84px,#de4968 123.5px,#d0416f 169px,#b83779 269.5px,#ad347c 359.5px,#ad347c 433.5px,#b2357b 453px,#b73779 459.5px,#bc3978 462.5px,#c23b75 464.5px,#cf4170 466px,#de4968 466.5px,#e14c66 467px,#c73d73 467.5px,#a2307e 468px,#a3307e 514px,#a8327d 571px,#b0357b 625px,#bc3978 675.5px,#c73d73 710.5px,#d2426f 731px,#d8456c 736px,#de4968 738.5px,#e75263 740px,#ee5b5e 740.5px,#ee5b5e 741px,#dd4969 741.5px,#c83e73 742px,#d6456c 779.5px,#e44f64 812.5px,#ee5b5e 836px,#f4675c 850.5px,#f9785d 864px,#fb835f 869.5px,#fc8961 871px,#fc8e64 871.5px,#fc8c63 872px,#fb8761 872.5px,#fb8761 873px,#fd9266 876.5px,#fea26e 879px,#feac76 880px,#feb57c 880.5px,#fec186 881px,#fed89a 881.5px,#fec68a 882px,#f8745c 882.5px,#ea5661 883px,#f05f5e 897.5px,#f7705c 916.5px,#fa7d5e 925px,#fa815f 926px,#fc8961 927px,#fb8761 927.5px,#fa7d5e 928px,#f97b5d 929.5px,#fc8e64 941px,#fd9b6b 946px,#fd9b6b 949.5px)}
.c165{background:linear-gradient(#f2645c 25.5px,#e85362 88px,#de4968 122.5px,#cd4071 179px,#c03a76 228.5px,#b5367a 286.5px,#ae347b 336.5px,#ab337c 386px,#ad347c 435.5px,#b3367a 456px,#b73779 459.5px,#bc3978 462.5px,#c03a76 464px,#ca3e72 465.5px,#d2426f 466px,#e14c66 466.5px,#d3436e 467px,#a1307e 467.5px,#a1307e 479px,#a5317e 541.5px,#aa337d 586px,#b3367a 643px,#bf3a77 688px,#cc3f71 722px,#d5446d 734.5px,#d8456c 736.5px,#e04c67 739.5px,#e95462 740.5px,#f05f5e 741px,#e65163 741.5px,#c83e73 742px,#d8456c 784px,#e75263 819px,#f1605d 843.5px,#f66e5c 858px,#fa7f5e 868.5px,#fb8761 871px,#fc8e64 872px,#fc8c63 872.5px,#fb8560 873px,#fd9266 877px,#fea16e 879.5px,#feac76 880.5px,#feb57c 881px,#fec287 881.5px,#fddc9e 882px,#fecd90 882.5px,#f9785d 883px,#ea5661 883.5px,#f2625d 902.5px,#f7725c 918.5px,#fa7d5e 925.5px,#fa815f 926.5px,#fb8560 927px,#fc8c63 927.5px,#fb8560 928px,#f9795d 928.5px,#fc8e64 941.5px,#fd9b6b 946px,#fe9d6c 949.5px)}
.c166{background:linear-gradient(#f2645c 24.5px,#e85362 87px,#de4968 121.5px,#cf4170 172px,#b73779 275px,#af347b 333.5px,#ab337c 378px,#ab337c 420.5px,#ad347c 437px,#b2357b 453.5px,#b73779 459.5px,#bf3a77 463.5px,#c43c75 464.5px,#cc3f71 465.5px,#d5446d 466px,#e44f64 466.5px,#d6456c 467px,#a1307e 467.5px,#a1307e 490px,#aa337d 588.5px,#b3367a 644.5px,#bf3a77 689px,#ca3e72 719.5px,#d5446d 735px,#df4a68 739.5px,#e55064 740.5px,#ed595f 741px,#f05f5e 741.5px,#e34e65 742px,#c83e73 742.5px,#d6456c 781.5px,#e44f64 814px,#ee5b5e 837.5px,#f4675c 852px,#f7725c 861.5px,#fa7c5e 867.5px,#fb835f 870.5px,#fb8761 871.5px,#fc8c63 872px,#fc8d63 872.5px,#fb8560 873.5px,#fd9266 877.5px,#fea16e 880px,#feac76 881px,#feb67c 881.5px,#fed194 882.5px,#fec185 883px,#fa7f5e 883.5px,#ea5661 884px,#f2625d 903px,#f7705c 917.5px,#f97b5d 925px,#fa7f5e 926.5px,#fc8861 928px,#f9795d 929px,#fc8c63 941px,#fe9f6d 948px,#fe9f6d 950.5px)}
.c167{background:linear-gradient(#f2645c 23.5px,#e95462 81.5px,#df4a68 116px,#d2426f 160.5px,#bc3978 248px,#ae347b 331px,#ab337c 373px,#ab337c 424.5px,#ae347b 446px,#b3367a 456.5px,#bd3977 463px,#c43c75 464.5px,#cd4071 465.5px,#d9466b 466px,#dc4869 466.5px,#c23b75 467px,#a1307e 467.5px,#a1307e 498.5px,#a6317d 564.5px,#b3367a 646px,#c23b75 700px,#cc3f71 723.5px,#d2426f 732.5px,#d6456c 736.5px,#de4968 739.5px,#e34e65 740.5px,#e85362 741px,#f1605d 741.5px,#e85362 742px,#c83e73 742.5px,#de4968 799.5px,#e75263 820.5px,#ef5d5e 840.5px,#f4675c 852.5px,#f7725c 862px,#fa7f5e 869.5px,#fb8560 871.5px,#fc8c63 872.5px,#fb835f 873.5px,#fc8961 875.5px,#fd9266 878px,#fea26e 880.5px,#feac76 881.5px,#feb67c 882px,#fec287 882.5px,#fed597 883px,#fdda9c 883.5px,#feb47b 884px,#ea5661 884.5px,#f1605d 901.5px,#f8745c 921px,#fa7f5e 927px,#fc8c63 928.5px,#fb8560 929px,#f9795d 929.5px,#fc8961 939.5px,#fd9266 944px,#fd9a6a 946.5px,#fea36f 948px,#fea671 949.5px,#feac75 950.5px,#fea36f 951.5px)}
.c168{background:linear-gradient(#f2645c 23.5px,#e85362 85.5px,#dc4869 124.5px,#cf4070 170px,#b73779 272px,#ab337c 367px,#ab337c 427.5px,#b2357b 454.5px,#b5367a 458.5px,#be3977 463px,#c93e73 465px,#d0416f 465.5px,#df4a68 466px,#d0416f 466.5px,#a1307e 467px,#a1307e 505px,#ab337c 603.5px,#b3367a 647.5px,#c13a76 696.5px,#cc3f71 724px,#d6446d 736px,#db476a 739px,#e24d66 740.5px,#e55064 741px,#f2625d 742px,#e75263 742.5px,#c83d73 743px,#d6456c 783px,#e55064 818.5px,#ee5c5e 839px,#f4695c 855px,#f97a5d 867.5px,#fb8360 871.5px,#fc8c63 873px,#fb835f 874px,#fd9266 878.5px,#fe9d6c 880.5px,#fea772 881.5px,#feb67c 882.5px,#fec488 883px,#fdda9c 883.5px,#febf84 884px,#ea5561 884.5px,#f05f5e 900px,#f66e5c 917px,#f97b5d 926px,#fa805f 927.5px,#fc8961 928.5px,#fc8961 929px,#fa7f5e 929.5px,#f9795d 930px,#f97b5d 931.5px,#fc8962 940px,#fd9467 945px,#fe9d6c 947.5px,#fea571 948px,#feaa74 948.5px,#fd9869 949.5px,#fd9869 951.5px)}
.c169{background:linear-gradient(#f2645c 22.5px,#e95462 80px,#de4968 119px,#cf4070 169px,#b73779 270px,#ab337c 362.5px,#ab337c 430px,#b0357b 451.5px,#b5367a 458.5px,#ba3878 461.5px,#c53c74 464.5px,#ca3e72 465px,#de4968 466px,#cd4071 466.5px,#a1307e 467px,#a1307e 510.5px,#a6317d 569.5px,#ad347c 615.5px,#b73779 663px,#c03a76 697.5px,#cd4071 727.5px,#d6456c 737px,#de4968 740px,#e34e65 741px,#e85362 741.5px,#f2625d 742px,#eb5760 742.5px,#c73d73 743px,#d8456c 787.5px,#e75263 822px,#ee5b5e 839.5px,#f4695c 855.5px,#f97a5d 868px,#fa7f5e 870.5px,#fb8761 872.5px,#fc8a62 873px,#fc8962 873.5px,#fb835f 874px,#fb835f 874.5px,#fd9266 879px,#fe9e6c 881px,#fea772 882px,#feb67d 883px,#fec68a 883.5px,#fed89a 884px,#febb81 884.5px,#e95561 885px,#f05f5e 900.5px,#f66e5c 917.5px,#f97b5d 926.5px,#fb835f 928.5px,#fc8961 929px,#fb8560 929.5px,#f97b5d 930px,#f9795d 930.5px,#fc9065 944px,#fd9b6b 947.5px,#fea16e 948px,#fe9f6d 948.5px,#fd9869 949px,#fd9a6a 952.5px)}
.c170{background:linear-gradient(#f2645c 21.5px,#e85362 84px,#de4968 118px,#cf4070 168px,#b73779 268.5px,#ab337c 358.5px,#ab337c 432.5px,#b0357b 452px,#b3367a 457px,#ba3878 461.5px,#c03a76 463.5px,#c73d73 464.5px,#cc3f71 465px,#d6456c 465.5px,#de4968 466px,#c83e73 466.5px,#a02f7f 467px,#a1307e 516px,#a8327d 585px,#b0357b 634.5px,#bc3978 682.5px,#c73d73 715.5px,#d0416f 732.5px,#d6456c 737.5px,#dc4869 740px,#e44f64 741.5px,#eb5760 742px,#ee5b5e 742.5px,#e04c67 743px,#c73d73 743.5px,#d8456c 788.5px,#e55064 820px,#ef5d5e 842.5px,#f66d5c 859.5px,#f97a5d 868.5px,#fa7f5e 871px,#fc8a62 873.5px,#fb835f 874.5px,#fb835f 875px,#fd9266 879.5px,#fe9e6c 881.5px,#fea772 882.5px,#feb77e 883.5px,#fec88b 884px,#fddc9e 884.5px,#febf84 885px,#e95461 885.5px,#ef5d5e 899px,#f66e5c 918px,#f97b5d 927px,#fa815f 928.5px,#fc8961 929.5px,#fb835f 930px,#f9795d 930.5px,#f9795d 931px,#fb835f 937.5px,#fd9065 944.5px,#fd9668 946.5px,#fe9f6d 948.5px,#fd9a6a 949.5px,#fd9a6a 953.5px)}
.c171{background:linear-gradient(#f2645c 21.5px,#e95462 78.5px,#dc4869 122px,#cd4071 172.5px,#b5367a 276px,#ad347c 336px,#aa337d 386px,#ab337c 434px,#b2357b 455px,#b73779 460px,#c03a76 463.5px,#cd4071 465px,#dc4869 465.5px,#df4a68 466px,#c43c75 466.5px,#a02f7f 467px,#a02f7f 482.5px,#a3307e 542.5px,#aa337d 598.5px,#b3367a 651.5px,#bf3a77 694.5px,#c83e73 720px,#d3436e 736px,#da476a 739.5px,#df4a68 741px,#e75263 742px,#f1605d 742.5px,#e95462 743px,#c73d73 743.5px,#d5446d 782px,#e34e65 815px,#ed5a5f 838.5px,#f4675c 855px,#f97a5d 869px,#fa7f5e 871.5px,#fb8560 873px,#fc8c63 874px,#fb835f 875px,#fb835f 875.5px,#fd9266 880px,#fea36f 882.5px,#feae77 883.5px,#feb87e 884px,#feca8d 884.5px,#fed597 885px,#feb27a 885.5px,#e95462 886px,#f2645c 907.5px,#f8745c 923px,#f97c5d 927.5px,#fa815f 929px,#fb8560 929.5px,#fc9065 930px,#fc8a62 930.5px,#f9795d 931px,#f9795d 931.5px,#fc8e64 944px,#fd9969 947.5px,#fd9b6b 948px,#fea16e 948.5px,#fd9869 949.5px,#fd9a6a 950px,#fd9a6a 953.5px)}
.c172{background:linear-gradient(#f2645c 20.5px,#e85362 82.5px,#de4968 116.5px,#cf4070 166px,#c03a76 219.5px,#b5367a 274.5px,#ad347c 333.5px,#aa337d 378.5px,#aa337d 419px,#ab337c 436px,#b0357b 452.5px,#b73779 460px,#bf3a77 463px,#c83e73 464.5px,#d0416f 465px,#de4968 465.5px,#cf4070 466px,#a02f7f 466.5px,#a02f7f 492px,#a3307e 546px,#aa337d 600.5px,#b3367a 653px,#bf3a77 695.5px,#ca3e72 724px,#d0416f 733.5px,#d5446d 737.5px,#de4968 741px,#e44f64 742px,#ea5661 742.5px,#ed5a5f 743px,#df4a68 743.5px,#c73d73 744px,#d6456c 786.5px,#e55064 821.5px,#ee5b5e 841.5px,#f56b5c 859px,#f97a5d 869.5px,#fa815f 872.5px,#fc8a62 874px,#fa815f 875px,#fb835f 876px,#fd9266 880.5px,#fea36f 883px,#fea973 883.5px,#feb97f 884.5px,#fecd90 885px,#fde5a7 885.5px,#fec88b 886px,#e95462 886.5px,#f2625d 906.5px,#f8745c 923.5px,#f9795d 927px,#fa815f 929.5px,#fb8761 930px,#fc9065 930.5px,#fc8961 931px,#f9795d 931.5px,#f9795d 932px,#fc8c63 943.5px,#fd9266 946px,#fe9d6c 948.5px,#fe9d6c 949px,#fd9869 950px,#fd9b6b 951.5px,#fd9b6b 954.5px)}
.c173{background:linear-gradient(#f2645c 20.5px,#e95462 77px,#de4968 115.5px,#cf4070 165px,#c03a76 218.5px,#b5367a 273px,#ae347b 316.5px,#aa337d 372.5px,#aa337d 422.5px,#ab337c 437.5px,#b0357b 453px,#b73779 460px,#bf3a77 463px,#ca3e72 464.5px,#dc4869 465.5px,#c93e73 466px,#a02f7f 466.5px,#a02f7f 499px,#aa337d 602.5px,#b2357b 647px,#bf3a77 696.5px,#c83e73 721.5px,#d2426f 735.5px,#d8456c 739.5px,#dc4869 741px,#e24d66 742px,#e75263 742.5px,#f05f5e 743px,#e85362 743.5px,#c73d73 744px,#d3436e 780px,#e34e65 816.5px,#ec5860 837.5px,#f2645c 852.5px,#f7705c 864px,#f9785d 869px,#fa815f 873px,#fc8a62 874.5px,#fa815f 875.5px,#fb835f 876.5px,#fd9266 881px,#fea36f 883.5px,#feb078 884.5px,#febb81 885px,#fed395 885.5px,#fecd90 886px,#fc9065 886.5px,#e95462 887px,#f2625d 907px,#f7725c 922.5px,#fa7d5e 929px,#fb835f 930px,#fc8a62 930.5px,#fc8a62 931px,#f9795d 932px,#f9795d 932.5px,#fc8c63 944px,#fd9467 947px,#fd9869 948px,#fe9f6d 949px,#fd9869 950px,#fd9b6b 951.5px,#fd9b6b 954.5px)}
.c174{background:linear-gradient(#f2645c 19.5px,#e85362 81px,#dc4869 119.5px,#cd4071 169.5px,#b5367a 271.5px,#aa337d 368px,#aa337d 425.5px,#ae347b 450px,#b3367a 457.5px,#ba3878 461.5px,#c23b75 463.5px,#cc3f71 464.5px,#d6456c 465px,#d9466b 465.5px,#c03a76 466px,#a02f7f 466.5px,#a02f7f 505px,#a5317e 567.5px,#ab337c 614.5px,#b5367a 662.5px,#bf3a76 697.5px,#c83e73 722px,#d2426f 736px,#d6456c 739px,#de4968 741.5px,#e44f64 742.5px,#ed5a5f 743.5px,#df4a68 744px,#c73d74 744.5px,#d5446d 784.5px,#e44f64 820px,#ed5a5f 840.5px,#f4695c 858.5px,#f97a5d 870.5px,#fb825f 873.5px,#fb8560 874px,#fc8b63 874.5px,#fc8961 875px,#fa7f5e 875.5px,#fc9065 881px,#fe9f6d 883.5px,#feb27a 885px,#febd82 885.5px,#fed093 886px,#fecb8f 886.5px,#fd9467 887px,#e95462 887.5px,#f2625d 907.5px,#f7725c 923px,#fa7e5e 929.5px,#fb835f 930.5px,#fc8b63 931px,#fc8961 931.5px,#f97b5d 932px,#f9795d 933px,#fb8761 941.5px,#fc9065 946px,#fd9768 948px,#fe9f6d 949.5px,#fd9a6a 950px,#fd9869 950.5px,#fd9b6b 952px,#fd9c6b 955.5px)}
.c175{background:linear-gradient(#f2645c 18.5px,#e95462 75.5px,#de4968 114px,#cd4071 168.5px,#b73779 261px,#ae347b 312.5px,#aa337d 363.5px,#aa337d 428px,#ae347b 450.5px,#b3367a 457.5px,#bc3978 462px,#c73d73 464px,#cd4071 464.5px,#dc4869 465px,#d5446d 465.5px,#ae347b 466px,#9f2f7f 466.5px,#a02f7f 510.5px,#a5317e 570px,#ab337c 616px,#b5367a 663.5px,#c03a76 703px,#ca3e72 726px,#d5446d 738.5px,#dc4869 741.5px,#e24d66 742.5px,#e75263 743px,#f1605d 743.5px,#e95462 744px,#c53c74 744.5px,#d6456c 789px,#e55064 823.5px,#ee5c5e 843.5px,#f4695c 859px,#f7725c 866.5px,#fa7d5e 872.5px,#fb835f 874px,#fc8a62 875px,#fb8761 875.5px,#fa7f5e 876px,#fc9065 881.5px,#fea06d 884px,#feb27a 885.5px,#febf84 886px,#fdda9c 886.5px,#feca8d 887px,#f7725c 887.5px,#e95462 888px,#f2625d 908px,#f7725c 923.5px,#f97b5d 929px,#fb8460 931px,#fc8c63 931.5px,#fb8761 932px,#f9795d 932.5px,#f97a5d 933.5px,#fc8e64 945.5px,#fd9869 948.5px,#fe9e6c 949.5px,#fd9668 950.5px,#fe9d6c 953px,#fe9d6c 956.5px)}
.c176{background:linear-gradient(#f2645c 18.5px,#e85362 79.5px,#df4a68 108.5px,#cf4070 162.5px,#c03a76 215px,#b5367a 268.5px,#aa337d 360px,#aa337d 430.5px,#ae347b 451px,#b5367a 459px,#bc3977 462px,#c03a76 463px,#c83e73 464px,#cf4170 464.5px,#df4a68 465px,#d0416f 465.5px,#9e2f7f 466px,#a02f7f 515.5px,#a6317d 585.5px,#b0357b 643px,#bc3978 689px,#c53c74 716.5px,#cf4070 733.5px,#d5446d 739px,#db476a 741.5px,#e44f65 743px,#ef5d5e 744px,#e34e65 744.5px,#c53c74 745px,#d3436e 782.5px,#e34e65 818.5px,#ec5860 839.5px,#f4695c 859.5px,#f7725c 867px,#fa7d5e 873px,#fb835f 874.5px,#fc8961 875px,#fa7f5e 876.5px,#fc8e64 881.5px,#fd9668 883px,#fea571 885px,#feb47b 886px,#fec186 886.5px,#fed395 887px,#feb67c 887.5px,#e95462 888px,#f1605d 906.5px,#f7725c 924px,#f97b5d 929.5px,#fa815f 931px,#fb8560 931.5px,#fc8c63 932px,#fb8560 932.5px,#f9795d 933px,#f9795d 933.5px,#fa815f 939px,#fc8e64 946px,#fd9668 948.5px,#fe9f6d 949.5px,#fd9668 950.5px,#fe9d6c 953.5px,#fe9d6c 956.5px)}
.c177{background:linear-gradient(#f2645c 17.5px,#e75163 83.5px,#de4968 112.5px,#cf4070 161.5px,#bf3a77 220.5px,#b5367a 267px,#aa337d 356.5px,#a8327d 405px,#ad347c 447.5px,#b0357b 454px,#b73779 460px,#c03a76 463px,#c93e72 464px,#dc4869 465px,#ca3e72 465.5px,#9e2f7f 466px,#9e2f7f 479px,#a1307e 542px,#a6317d 587px,#b0357b 644.5px,#bc3978 690px,#c73d73 721px,#cf4070 734px,#d6456c 740px,#dc4869 742px,#e24d66 743px,#e75263 743.5px,#ef5d5e 744px,#e55064 744.5px,#c53c74 745px,#d6456c 790.5px,#e44f64 822px,#ec5860 840px,#f4675c 858.5px,#f8745c 868.5px,#fa7f5e 874px,#fb8761 875.5px,#fa7f5e 876.5px,#fa7f5e 877px,#fc8d63 881.5px,#fd9668 883.5px,#fea16e 885px,#feac76 886px,#feb67c 886.5px,#fec488 887px,#fde3a5 887.5px,#fecc8f 888px,#e95462 888.5px,#f1605d 907px,#f7705c 923px,#f97b5d 930px,#fb815f 931.5px,#fc8a62 932px,#fc9065 932.5px,#f9795d 933.5px,#f9795d 934px,#fc8c63 945.5px,#fd9869 949px,#fd9b6b 949.5px,#fd9b6b 950px,#fd9668 950.5px,#fd9668 951px,#fe9d6c 953.5px,#fe9e6c 957.5px)}
.c178{background:linear-gradient(#f2645c 17.5px,#e95462 73.5px,#df4a68 107px,#cf4070 160.5px,#b73779 257px,#aa337d 353px,#a8327d 414px,#ad347c 448px,#b2357b 456px,#b73779 460px,#bf3a77 462.5px,#c53c74 463.5px,#ca3e72 464px,#d5446d 464.5px,#d8456c 465px,#bf3a77 465.5px,#9e2f7f 466px,#9e2f7f 489px,#a1307e 545px,#a8327d 600.5px,#b0357b 646px,#bd3977 696px,#c53c74 718px,#cf4070 734.5px,#d5446d 739.5px,#db476a 742px,#e44f65 743.5px,#eb5760 744px,#ec5960 744.5px,#dc4869 745px,#c53c74 745.5px,#d6456c 791px,#e55064 825.5px,#ed5a5f 843px,#f4675c 859px,#f7705c 866.5px,#f97b5d 873px,#fb835f 875px,#fc8961 875.5px,#fb8761 876px,#fa7f5e 876.5px,#fa805e 877.5px,#fc8d64 882px,#fe9d6c 885px,#fea772 886px,#feb77e 887px,#feca8d 887.5px,#fed89a 888px,#feb77e 888.5px,#e95462 889px,#f1605d 907.5px,#f7705c 923.5px,#f9795d 929.5px,#fa7f5e 931.5px,#fb8761 932.5px,#fa815f 933px,#f9785d 933.5px,#fc8a62 945px,#fd9266 948px,#fd9c6b 950px,#fd9a6a 950.5px,#fd9467 951px,#fe9f6d 955px,#fe9f6d 957.5px)}
.c179{background:linear-gradient(#f2645c 16.5px,#e85362 77.5px,#de4968 111px,#cd4071 165px,#bf3a77 218.5px,#b3367a 273.5px,#ad347c 317.5px,#a8327d 376.5px,#a8327d 418.5px,#aa337d 435px,#ae347b 452px,#b5367a 459px,#bf3a77 462.5px,#c63d74 463.5px,#cc3f71 464px,#db476a 464.5px,#d3436e 465px,#ac337c 465.5px,#9e2f7f 466px,#9e2f7f 496px,#a1307e 548px,#a8327d 602px,#b2357b 654.5px,#bd3977 697px,#c83e73 725.5px,#cf4070 735px,#d5446d 740px,#dc4869 742.5px,#e24d66 743.5px,#e75263 744px,#f2645c 744.5px,#eb5760 745px,#c53c74 745.5px,#d5446d 788.5px,#e34e65 820.5px,#ed5a5f 843.5px,#f4675c 859.5px,#f7705c 867px,#f97b5d 873.5px,#fb8761 876px,#fa7d5e 877px,#fb8560 880px,#fd9467 884px,#fe9e6c 885.5px,#fea973 886.5px,#feba80 887.5px,#fed194 888px,#fecc8f 888.5px,#fd9165 889px,#e95462 889.5px,#f05f5e 906px,#f56b5c 919px,#f9795d 930px,#fa7e5e 931.5px,#fb8761 933px,#f9795d 934px,#f9795d 935px,#fb8761 943.5px,#fc8e64 947px,#fd9467 949px,#fd9b6b 950px,#fd9a6a 950.5px,#fd9467 951px,#fe9f6d 955px,#fe9f6d 958.5px)}
.c180{background:linear-gradient(#f2645c 16.5px,#e75163 81.5px,#db476a 119.5px,#cd4071 164px,#bf3a77 217.5px,#b3367a 272px,#ad347c 315.5px,#a8327d 371.5px,#a8327d 422px,#ab337c 444px,#b0357b 454.5px,#b5367a 459px,#bd3977 462px,#c23b75 463px,#c73d73 463.5px,#cf4070 464px,#e85362 464.5px,#de4968 465px,#9e2f7f 465.5px,#9e2f7f 502px,#a8327d 604px,#b2357b 655.5px,#bd3977 698px,#c73d73 723px,#cf4070 735.5px,#d4436e 739.5px,#db476a 742.5px,#e04b67 743.5px,#e44f64 744px,#ec5860 744.5px,#ed5a5f 745px,#dc4869 745.5px,#c53c74 746px,#d3436e 785.5px,#e44f64 824px,#ed5a5f 844px,#f4675c 860px,#f7705c 867.5px,#f9795d 873px,#fa815f 875.5px,#fc8a62 876.5px,#fa7d5e 877.5px,#fb8560 880.5px,#fd9266 884px,#fea36f 886.5px,#feb27a 887.5px,#febd82 888px,#fed395 888.5px,#fec185 889px,#f66d5c 889.5px,#e95462 890px,#f05f5e 906.5px,#f56b5c 919.5px,#f9785d 929.5px,#fa815f 932.5px,#fb8761 933px,#fb8661 933.5px,#fa7d5e 934px,#f9795d 934.5px,#f9795d 935.5px,#fc8c63 946.5px,#fd9668 949.5px,#fd9a6a 950px,#fd9a6a 950.5px,#fd9467 951.5px,#fe9f6d 955.5px,#fe9f6d 958.5px)}
.c181{background:linear-gradient(#f2645c 15.5px,#e95462 71.5px,#de4968 109.5px,#cf4070 158px,#bf3a77 216.5px,#b3367a 270.5px,#a8327d 367.5px,#a8327d 424.5px,#ae347b 452.5px,#b3367a 458px,#bd3977 462px,#c83e73 463.5px,#d0416f 464px,#df4a68 464.5px,#d0416f 465px,#9e2f7f 465.5px,#9e2f7f 507.5px,#a3307e 569px,#aa337d 615.5px,#b3367a 663.5px,#bf3a77 703.5px,#c73d73 723.5px,#d0416f 737.5px,#d8466b 742px,#de4a68 743.5px,#e75263 744.5px,#ee5b5f 745px,#e34e65 745.5px,#c53c74 746px,#d3436e 786px,#e44f64 824.5px,#ec5960 842.5px,#f4675c 860.5px,#f7705c 868px,#f9795d 873.5px,#fa805e 875.5px,#fc8961 876.5px,#fb8560 877px,#fa7d5e 877.5px,#fa7e5e 878px,#fb8560 881px,#fc9065 884px,#fe9f6d 886.5px,#feaa74 887.5px,#feb47b 888px,#fec185 888.5px,#fed194 889px,#feb47b 889.5px,#e95462 890px,#f05f5d 907px,#f66c5c 921.5px,#f8745c 927.5px,#f97b5d 931.5px,#fb825f 933px,#fc8961 933.5px,#fb8761 934px,#f97b5d 934.5px,#f9795d 936px,#fa815f 941px,#fd9266 949px,#fd9869 950px,#fea36f 950.5px,#fe9f6d 951px,#fd9366 951.5px,#fea16e 956.5px,#fea16e 959.5px)}
.c182{background:linear-gradient(#f2645c 15.5px,#e85362 75.5px,#dc4869 113.5px,#cd4071 162.5px,#b5367a 260.5px,#ad347c 312px,#a8327d 363.5px,#a8327d 427px,#ad347c 449.5px,#b0357b 455px,#b83779 460.5px,#bd3977 462px,#c43c75 463px,#d9466b 464.5px,#c43c75 465px,#9d2f7f 465.5px,#9e2f7f 512px,#a3307e 571px,#ad347c 635px,#b83779 683.5px,#c43c75 717px,#cd4071 734.5px,#d5446d 741px,#db476a 743px,#e44f64 744.5px,#ed5a5f 745px,#ef5d5e 745.5px,#dc4869 746px,#c53c74 746.5px,#d3436e 787px,#e04c67 816.5px,#ec5860 843px,#f2645c 857.5px,#f8765c 872px,#f97b5d 874.5px,#fb8761 877px,#fa805f 877.5px,#fa7d5e 878px,#fb8761 882px,#fd9668 885.5px,#fea16e 887px,#feac76 888px,#feb67c 888.5px,#fec68a 889px,#fecc8f 889.5px,#fea470 890px,#e95462 890.5px,#e95462 892px,#f4675c 917px,#f8765c 929px,#fa7f5e 933px,#fb835f 933.5px,#fd9366 934px,#fc8e64 934.5px,#f9785d 935px,#fb835f 942.5px,#fc8e64 948px,#fd9668 950px,#fe9f6d 951px,#fd9b6b 951.5px,#fd9467 952px,#fd9467 952.5px,#fea16e 956.5px,#fea16e 959.5px)}
.c183{background:linear-gradient(#f2645c 14.5px,#e75263 79.5px,#df4a68 103.5px,#cf4070 156.5px,#b5367a 259px,#ad347c 310px,#a8327d 360px,#a8327d 429px,#ad347c 450px,#b3367a 458px,#bc3978 461.5px,#c03a76 462.5px,#cb3f72 463.5px,#d8456c 464px,#e24d66 464.5px,#cd4071 465px,#9d2e7f 465.5px,#9e2f7f 516px,#a5317e 586px,#ad347c 636px,#ba3878 690px,#c53c74 721.5px,#cd4071 735px,#d4436e 740.5px,#d9466b 743px,#e24d66 744.5px,#e85362 745px,#ee5c5e 745.5px,#e34e65 746px,#c43c75 746.5px,#d2426f 784px,#e04c67 817px,#ec5860 843.5px,#f4675c 861.5px,#f9785d 873.5px,#fa7f5e 876px,#fc8961 877px,#fb8560 877.5px,#fa7c5d 878px,#fc8961 883px,#fd9668 886px,#fea16e 887.5px,#feae77 888.5px,#feb97f 889px,#fecc8f 889.5px,#fec488 890px,#fc8961 890.5px,#e95462 891px,#e95462 892.5px,#f05f5d 908px,#f66c5c 922.5px,#f9795d 931.5px,#fa815f 933.5px,#fb8661 934px,#fb8560 934.5px,#fa7c5e 935px,#f9785d 935.5px,#fb8560 944px,#fc9065 949px,#fd9869 950.5px,#fea36f 951px,#fe9f6d 951.5px,#fd9266 952px,#fea16e 957px,#fea26e 960.5px)}
.c184{background:linear-gradient(#f2645c 14.5px,#e95462 69.5px,#de4968 107.5px,#cf4170 155.5px,#b5367a 258px,#ad347c 308.5px,#a8327d 357px,#a8327d 430.5px,#ad347c 450px,#b3367a 458px,#ba3878 461px,#c53c74 463px,#cd4071 463.5px,#e04c67 464px,#d4436d 464.5px,#9c2e7f 465px,#9c2e7f 479.5px,#a02f7f 542.5px,#a6317d 599.5px,#b0357b 653px,#ba3878 691px,#c43c75 718.5px,#cd4071 735.5px,#d5446d 741.5px,#db476a 743.5px,#e44f64 745px,#ed5a5f 745.5px,#ec5860 746px,#d8456c 746.5px,#c43c75 747px,#d5446d 792px,#e34e65 823.5px,#ec5860 844px,#f4675c 862px,#f66e5c 868px,#f9795d 874.5px,#fa7d5e 876px,#fb8761 877.5px,#fa7c5e 878.5px,#fa7f5e 880px,#fc8b63 884px,#fd9467 886px,#fd9b6a 887px,#fea36f 888px,#feb078 889px,#febb81 889.5px,#fed194 890px,#febd82 890.5px,#f66c5c 891px,#e95462 891.5px,#ef5d5e 906px,#f66e5c 924.5px,#f97b5d 932.5px,#fb815f 934px,#fc8961 934.5px,#fb8761 935px,#f97b5d 935.5px,#f9795d 936px,#f9795d 937px,#fc8d63 948px,#fd9366 950px,#fd9a6a 951px,#fd9869 951.5px,#fd9266 952px,#fd9266 952.5px,#fea36f 958px,#fea36f 960.5px)}
.c185{background:linear-gradient(#f2645c 13.5px,#e95462 69px,#dc4869 111.5px,#cd4071 160px,#bd3977 219px,#b3367a 265.5px,#a8327d 354px,#a6317d 409.5px,#a8327d 432px,#ad347c 450.5px,#b3367a 458px,#ba3878 461px,#bf3a77 462px,#c73d73 463px,#cf4070 463.5px,#db476a 464px,#cb3f72 464.5px,#9c2e7f 465px,#9c2e7f 488.5px,#a02f7f 545px,#a6317d 601px,#b0357b 654px,#bc3978 697px,#c73d73 726px,#cf4070 737.5px,#d3436e 741px,#d9466b 743.5px,#e24d66 745px,#ed5a5f 746px,#df4a68 746.5px,#c43c75 747px,#d5446d 792.5px,#e44f64 827px,#ee5b5e 849px,#f4675c 862.5px,#f66e5c 868.5px,#f9795d 875px,#fa815f 877px,#fb8560 877.5px,#f97b5d 878.5px,#fa7f5e 880.5px,#fd9266 886px,#fe9f6d 888px,#feaa74 889px,#feb37b 889.5px,#fec185 890px,#fed194 890.5px,#feb57c 891px,#e85362 891.5px,#f3655c 916.5px,#f8745c 929px,#f97b5d 933px,#fa7f5e 934px,#fb835f 934.5px,#fc8e64 935px,#fc8961 935.5px,#f9785d 936px,#fc8b62 947.5px,#fc8e64 949px,#fd9869 951px,#fd9869 951.5px,#fd9366 952px,#fd9266 952.5px,#fea26f 958px,#fea36f 961.5px)}
.c186{background:linear-gradient(#f2645c 13.5px,#e85362 73px,#db476a 115.5px,#cc3f71 164.5px,#bd3977 218px,#b2357b 273.5px,#aa337d 333px,#a6317d 379.5px,#a8327d 433.5px,#ae347b 453.5px,#b5367a 459px,#bf3a77 462px,#c83d73 463px,#d0416f 463.5px,#e24d66 464px,#d3436e 464.5px,#9c2e7f 465px,#9c2e7f 495px,#a02f7f 547.5px,#a6317d 602.5px,#b0357b 655px,#bd3977 702.5px,#c73d73 726.5px,#cf4170 738px,#d5446d 742px,#db476a 744px,#e04c67 745px,#e55064 745.5px,#ef5d5e 746px,#e75263 746.5px,#c43c75 747px,#d2426f 786px,#e24d66 822px,#ea5661 840.5px,#f2645c 859.5px,#f8745c 872.5px,#f97b5d 876px,#fa7f5e 877px,#fb8560 877.5px,#fb835f 878px,#f97b5d 878.5px,#fa7d5e 880px,#fb8560 883px,#fc9065 886px,#fd9c6b 888px,#feac76 889.5px,#feb67c 890px,#fec68a 890.5px,#fecf92 891px,#feaa74 891.5px,#e85362 892px,#ee5b5e 905px,#f56b5c 922px,#f9795d 932.5px,#fa7e5e 934px,#fb8761 935px,#fb8761 935.5px,#fa7d5e 936px,#f9785d 936.5px,#fb8761 946px,#fd9165 950px,#fd9a6a 951.5px,#fd9165 952.5px,#fd9b6b 956.5px,#fea36f 958.5px,#fea470 961.5px)}
.c187{background:linear-gradient(#f2645c 12.5px,#e85362 72.5px,#de4968 105.5px,#cd4071 158.5px,#bf3a77 210.5px,#b2357b 272px,#aa337d 331px,#a6317d 374.5px,#a6317d 418.5px,#a8327d 434.5px,#ad347c 451px,#b2357b 457px,#ba3878 460.5px,#c43c75 462.5px,#c83e73 463px,#d3436e 463.5px,#d6456c 464px,#bd3977 464.5px,#9c2e7f 465px,#9c2e7f 500.5px,#a6317d 604px,#b0357b 656px,#bc3978 698.5px,#c53c74 724px,#cd4071 736.5px,#d3436e 741.5px,#d9466b 744px,#e34e65 745.5px,#eb5760 746px,#e75263 746.5px,#d0416f 747px,#c43c75 747.5px,#d2426f 786.5px,#e24d66 822.5px,#ec5860 845.5px,#f4695c 865px,#f9785d 875px,#fa7e5e 877px,#fb8660 878px,#f97b5d 879px,#f97b5d 879.5px,#fb8761 884px,#fd9668 887.5px,#fea26e 889px,#feae77 890px,#feb97f 890.5px,#fed194 891px,#fece91 891.5px,#fd9869 892px,#e85362 892.5px,#f2645c 915.5px,#f7725c 928.5px,#f9795d 933px,#fb825f 935px,#fc8a62 935.5px,#fb8560 936px,#f9785d 936.5px,#f9785d 937px,#fc8a62 948px,#fd9467 951px,#fd9a6a 951.5px,#fd9768 952px,#fc9065 952.5px,#fea571 959.5px,#fea571 962.5px)}
.c188{background:linear-gradient(#f2645c 12.5px,#e75263 76.5px,#db476a 114px,#cc3f71 163px,#bc3978 223px,#b2357b 271px,#ab337c 314.5px,#a6317d 370.5px,#a6317d 421.5px,#ab337c 448px,#b0357b 455.5px,#b5367a 459px,#bd3977 461.5px,#c43c75 462.5px,#ca3e72 463px,#d8456c 463.5px,#d7456c 464px,#b83779 464.5px,#9c2e7f 465px,#9c2e7f 505.5px,#a1307e 568.5px,#a8327d 615.5px,#b2357b 664px,#bd3977 704px,#c83e73 730.5px,#d3436e 742px,#db476a 744.5px,#e04c67 745.5px,#e75263 746px,#f1605d 746.5px,#e95462 747px,#c43c75 747.5px,#d5446d 794.5px,#e44f64 828.5px,#ec5860 846px,#f3655c 862px,#f8765c 874.5px,#fa7f5e 877.5px,#fb8460 878px,#fb835f 878.5px,#f97b5d 879px,#f97b5d 880px,#fc8b62 885.5px,#fd9467 887.5px,#fea36f 889.5px,#fea973 890px,#feb27a 890.5px,#febe83 891px,#fddd9f 891.5px,#fed597 892px,#fc8c63 892.5px,#e85462 893px,#f1605d 912px,#f7705c 927.5px,#f97b5d 934px,#fa7f5e 935px,#fc8961 936px,#f9785d 937px,#fc8961 947.5px,#fd9065 950.5px,#fd9a6a 952px,#fc9065 953px,#fd9a6a 956.5px,#fea570 959.5px,#fea571 962.5px)}
.c189{background:linear-gradient(#f2645c 11.5px,#e75163 76px,#de4968 104.5px,#d0416f 147px,#b83779 236.5px,#aa337d 327px,#a6317d 366.5px,#a6317d 423.5px,#ab337c 448.5px,#b2357b 457px,#b5367a 459px,#bd3977 461.5px,#c03a76 462px,#cc3f71 463px,#e34e65 463.5px,#d8456c 464px,#9c2e7f 464.5px,#9c2e7f 509.5px,#a02f7f 554.5px,#ad347c 643px,#ba3878 695px,#c83e73 731px,#cf4070 739px,#d5446d 743px,#d9466b 744.5px,#df4a68 745.5px,#e44f64 746px,#f0605d 746.5px,#ed5a5f 747px,#d0416f 747.5px,#c43c75 748px,#db476a 808.5px,#e75263 834.5px,#ee5b5e 851px,#f3655c 862.5px,#f7725c 872.5px,#fa7d5e 877.5px,#fa815f 878px,#fc8e64 878.5px,#fc8a62 879px,#f9795d 879.5px,#fb835f 883.5px,#fd9266 887.5px,#fd9869 888.5px,#fea571 890px,#feb57c 891px,#fec488 891.5px,#fcf4b6 892px,#fde2a4 892.5px,#e85362 893px,#f1605d 912.5px,#f66e5c 926.5px,#f9795d 933.5px,#fa7e5e 935px,#fb8761 936px,#fb835f 936.5px,#f9795d 937px,#f9785d 937.5px,#fb835f 945px,#fc8c63 949.5px,#fd9467 951.5px,#fd9b6b 952px,#fd9869 952.5px,#fc9065 953px,#fd9b6b 957.5px,#fea571 960px,#fea671 963.5px)}
.c190{background:linear-gradient(#f2645c 11.5px,#e95462 66px,#df4b68 99px,#d0416f 146.5px,#b83779 235.5px,#aa337d 325px,#a6317d 383.5px,#a6317d 425.5px,#aa337d 444px,#ae347b 454px,#b5367a 459px,#bc3978 461px,#c53c74 462.5px,#cd4071 463px,#db476a 463.5px,#ca3e72 464px,#9c2e7f 464.5px,#a02f7f 556.5px,#af347b 652px,#bd3977 705.5px,#c93e73 731.5px,#d3436e 742.5px,#de4968 745.5px,#e24d66 746px,#e95462 746.5px,#ec5860 747px,#de4968 747.5px,#c33b75 748px,#db476a 809px,#e34e65 827px,#ec5860 847px,#f2625d 859.5px,#f66e5c 870.5px,#f9785d 876px,#fa7f5e 878px,#fb8560 878.5px,#fa815f 879px,#f9795d 879.5px,#fa7f5e 882.5px,#fc9065 887.5px,#fea16e 890px,#feae77 891px,#feb97f 891.5px,#fece91 892px,#feca8d 892.5px,#fd9266 893px,#e85362 893.5px,#f1605d 913px,#f7725c 929.5px,#f9795d 934px,#fa7f5e 935.5px,#fc8962 936.5px,#fb835f 937px,#f9785d 937.5px,#f9785d 938px,#fc8a62 949px,#fc9065 951px,#fd9869 952px,#fd9668 952.5px,#fc8f64 953px,#fd9869 956.5px,#fea772 961px,#fea772 963.5px)}
.c191{background:linear-gradient(#f2645c 10.5px,#e85362 70px,#de4968 103px,#cf4070 150.5px,#bf3a77 207px,#b3367a 258.5px,#ab337c 310px,#a6317d 360px,#a6317d 427.5px,#ab337c 449px,#b2357b 457px,#b5367a 459px,#bc3978 461px,#c73d73 462.5px,#d0416f 463px,#df4a68 463.5px,#cf4070 464px,#9b2e7f 464.5px,#9b2e7f 466.5px,#9c2e7f 517px,#a3307e 587px,#ad347c 645px,#ba3878 696.5px,#c53c74 726px,#cc3f71 736.5px,#d2426e 742px,#d5446d 743.5px,#dc4869 745.5px,#e55064 746.5px,#f1605d 747px,#e85362 747.5px,#c23b75 748px,#d3436e 792.5px,#e34e65 827.5px,#ec5860 847.5px,#f3665c 863.5px,#f8765c 875.5px,#f97b5d 877.5px,#fb835f 879px,#f9795d 880px,#fa7d5e 882px,#fc8c63 887px,#fd9a6a 889.5px,#fea973 891px,#feb179 891.5px,#febd82 892px,#fddc9e 892.5px,#fdda9c 893px,#fd9b6b 893.5px,#e85362 894px,#f05f5e 911px,#f66c5c 925.5px,#f9785d 933.5px,#fa7d5e 935.5px,#fb8560 936.5px,#fb8761 937px,#fa7d5e 937.5px,#f9785d 938px,#fc8961 948.5px,#fc8c63 950px,#fd9869 952.5px,#fc9065 953.5px,#fc9065 954px,#fd9a6a 957.5px,#fea772 961px,#fea772 964.5px)}
.c192{background:linear-gradient(#f2645c 10.5px,#e85362 69.5px,#de4968 102.5px,#cd4071 155px,#b3367a 257.5px,#ab337c 308.5px,#a6317d 357.5px,#a6317d 429px,#ab337c 449px,#b2357b 457px,#b5367a 459px,#bc3978 461px,#c23b75 462px,#c83e73 462.5px,#de4968 463.5px,#ca3e72 464px,#9b2e7f 464.5px,#a02f7f 560.5px,#a6317d 610.5px,#b0357b 661px,#bd3977 707px,#ca3e72 734.5px,#d3436e 743px,#de4a68 746px,#e34e65 746.5px,#ec5860 747px,#ea5661 747.5px,#d3436e 748px,#c23b75 748.5px,#d9466b 807px,#e34e65 828px,#ec5860 848px,#f2645c 862px,#f7705c 872.5px,#fa7c5e 878px,#fa7f5e 878.5px,#fb8761 879px,#fb835f 879.5px,#f9795d 880px,#fb825f 884px,#fd9266 888.5px,#fe9f6d 890.5px,#feac75 891.5px,#feb57c 892px,#fec488 892.5px,#fecc8f 893px,#fea772 893.5px,#e85362 894px,#ef5d5e 909.5px,#f66c5c 926px,#f9795d 934.5px,#fa815f 936.5px,#fb8761 937px,#fa815f 937.5px,#f9785d 938px,#f9785d 938.5px,#fc8a62 949.5px,#fd9165 951.5px,#fd9a6a 952.5px,#fd9668 953px,#fc8e64 953.5px,#fd9668 956.5px,#fea772 961.5px,#fea873 964.5px)}
.c193{background:linear-gradient(#f2645c 9.5px,#e85362 69px,#de4968 102px,#cf4070 149.5px,#b73779 240.5px,#a8327d 335.5px,#a5317e 402.5px,#a6317d 430.5px,#aa337d 445.5px,#af347b 454.5px,#b5367a 459px,#bf3a77 461.5px,#c93e73 462.5px,#d6456c 463px,#db476a 463.5px,#c03a76 464px,#9b2e7f 464.5px,#a02f7f 562.5px,#ae347b 654.5px,#bc3978 703px,#ca3e72 735px,#d0416f 741.5px,#d8456c 745px,#e04c67 746.5px,#e75263 747px,#f05f5e 747.5px,#e55064 748px,#c23b75 748.5px,#d9466b 807.5px,#e34e65 828.5px,#ec5860 848.5px,#f4695c 867.5px,#f9785d 877px,#fa815f 879px,#fa815f 879.5px,#f97b5d 880px,#f9795d 881px,#fb835f 885px,#fc9065 888.5px,#fea16e 891px,#feae77 892px,#feb97f 892.5px,#fed194 893px,#fed799 893.5px,#fea973 894px,#e85362 894.5px,#f05f5e 912px,#f66d5c 926.5px,#f97a5d 935px,#fa7f5e 936.5px,#fb8560 937px,#fb8560 937.5px,#f9785d 938.5px,#f9785d 939px,#fc8961 949px,#fd9266 952px,#fd9869 952.5px,#fc8e64 953.5px,#fd9869 957.5px,#fea973 962px,#fea973 965.5px)}
.c194{background:linear-gradient(#f2645c 9.5px,#e85362 68.5px,#de4968 101.5px,#cf4170 148.5px,#b73779 239.5px,#a8327d 333.5px,#a5317e 410px,#aa337d 446px,#ae347b 454.5px,#b73779 459.5px,#ba3878 460.5px,#c43c75 462px,#ca3e72 462.5px,#dc4869 463px,#ce4070 463.5px,#9b2e7f 464px,#a02f7f 564.5px,#ae347b 655.5px,#bc3978 703.5px,#ca3e72 735.5px,#cf4070 740.5px,#d3436e 743.5px,#d9466b 745.5px,#df4a68 746.5px,#e44f64 747px,#f1605d 747.5px,#e95462 748px,#c23b75 748.5px,#d9466b 808px,#e34e65 829px,#ec5960 849px,#f2645c 863px,#f7725c 874.5px,#f97b5d 878.5px,#fa7f5e 879px,#fc8a62 879.5px,#fb8761 880px,#f9785d 880.5px,#fa815f 884.5px,#fc8e64 888.5px,#fd9a6a 890.5px,#fea36f 891.5px,#feb27a 892.5px,#febf84 893px,#fed194 893.5px,#feb47c 894px,#e85362 894.5px,#f1605d 914.5px,#f7725c 931px,#fa7c5d 936px,#fa815f 937px,#fc8962 937.5px,#fb8560 938px,#f9785d 938.5px,#f9785d 939px,#fb8761 948.5px,#fc8f64 951.5px,#fd9a6a 953px,#fc8e64 954px,#fd9c6b 959px,#fea973 962.5px,#fea973 965.5px)}
.c195{background:linear-gradient(#f2645c 9.5px,#e75263 72.5px,#d9466b 114.5px,#ca3e72 163.5px,#b2357b 263px,#aa337d 317px,#a5317e 378.5px,#a6317d 432.5px,#ad347c 452.5px,#b3367a 458px,#ba3878 460.5px,#c03a76 461.5px,#cc3f71 462.5px,#dc4869 463px,#cd4071 463.5px,#9b2e7f 464px,#9c2e7f 529px,#a1307e 580px,#ab337c 641px,#b73779 688.5px,#c03a76 717.5px,#cd4071 739.5px,#d2426f 743px,#db476a 746px,#e24d66 747px,#ea5661 747.5px,#ef5d5e 748px,#e04c67 748.5px,#c23b75 749px,#c23b75 750.5px,#d2426f 791.5px,#df4b67 821px,#eb5760 847px,#f3655c 865px,#f66e5c 872.5px,#f9785d 877.5px,#fa7d5e 879px,#fb8560 879.5px,#fb835f 880px,#f9795d 880.5px,#f9795d 881.5px,#fb815f 885px,#fc8a62 887.5px,#fd9869 890.5px,#fea571 892px,#feb67c 893px,#fec88c 893.5px,#fed395 894px,#feb078 894.5px,#e85362 895px,#f2645c 918.5px,#f8745c 932.5px,#f9795d 935.5px,#fa7f5e 937px,#fb835f 937.5px,#fd9969 938px,#fd9467 938.5px,#f9785d 939px,#f9785d 939.5px,#fc8961 949.5px,#fc9065 952px,#fd9668 953px,#fc8e64 954px,#fc8f64 954.5px,#fd9869 958px,#fea973 962.5px,#feaa74 965.5px)}
.c196{background:linear-gradient(#f2645c 8.5px,#e85362 67.5px,#dc4869 105px,#cc3f71 157.5px,#bd3977 209.5px,#b2357b 262px,#aa337d 315.5px,#a5317e 374px,#a6317d 433.5px,#ad347c 452.5px,#b3367a 458px,#b73779 459.5px,#bd3977 461px,#c53c74 462px,#cd4071 462.5px,#e75262 463px,#dc4869 463.5px,#9b2e7f 464px,#9b2e7f 503px,#a1307e 581.5px,#aa337d 634px,#b5367a 683.5px,#c03a76 718px,#cc3f71 738px,#d3436e 744px,#d9466b 746px,#e04c67 747px,#ec5860 748px,#e04b67 748.5px,#c23b75 749px,#c23b75 751px,#d2426f 792px,#e24d66 827px,#ed5a5f 852px,#f4675c 867px,#f8765c 877px,#f97b5d 879px,#fa815f 880px,#f9785d 881px,#fb835f 886px,#fc9065 889.5px,#fe9d6c 891.5px,#fea973 892.5px,#feb078 893px,#febb81 893.5px,#fed395 894px,#fec488 894.5px,#f9785d 895px,#e85362 895.5px,#f1605d 915px,#f66f5c 929px,#f97b5d 936.5px,#fa815f 937.5px,#fb8761 938px,#fb8560 938.5px,#f97b5d 939px,#f9785d 939.5px,#f9785d 940px,#fb8761 949px,#fc9065 952px,#fd9266 952.5px,#fd9869 953px,#fd9668 953.5px,#fc8e64 954px,#fc8e64 954.5px,#fd9b6b 959.5px,#feaa74 963.5px,#feaa74 966.5px)}
.c197{background:linear-gradient(#f2645c 8.5px,#e85362 67px,#dc4869 104.5px,#cc3f71 157px,#bc3978 215.5px,#b2357b 261px,#aa337d 314px,#a5317e 370.5px,#a5317e 420px,#a8327d 442px,#ab337c 450.5px,#b0357b 456px,#b73779 459.5px,#c13a76 461.5px,#d6456c 463px,#c23b76 463.5px,#9b2e7f 464px,#9b2e7f 507px,#a1307e 583px,#ab337c 643px,#b73779 690px,#c03a76 718.5px,#cc3f71 738.5px,#d2426f 743.5px,#db476a 746.5px,#e34e65 747.5px,#ee5b5e 748px,#e55064 748.5px,#c23b75 749px,#c23b75 752px,#d3436e 796px,#e24d66 827.5px,#eb5760 848px,#f4695c 869px,#f8745c 876.5px,#fa7d5e 879.5px,#fb835f 880px,#fa7f5e 880.5px,#f9785d 881px,#f9785d 881.5px,#fa815f 885.5px,#fc8c63 889px,#fd9467 890.5px,#fe9f6d 892px,#feaa74 893px,#feb47b 893.5px,#fec488 894px,#fdd99b 894.5px,#febd82 895px,#e85362 895.5px,#ef5d5e 911.5px,#f66c5c 927.5px,#f9795d 936px,#fa7f5e 937.5px,#fb8761 938.5px,#fa815f 939px,#f9785d 939.5px,#f9785d 940px,#fc8961 950px,#fc9065 952.5px,#fd9567 953px,#fd9467 953.5px,#fc8f64 954px,#fc8e64 955px,#fd9869 958.5px,#feaa74 963.5px,#feab75 966.5px)}
.c198{background:linear-gradient(#f2645c 7.5px,#e85362 66.5px,#dc4869 104px,#cc3f71 156.5px,#bd3977 208px,#b2357b 260px,#aa337d 312.5px,#a5317e 367px,#a5317e 422px,#ab337c 450.5px,#b0357b 456px,#b73779 459.5px,#c23b75 461.5px,#c73d73 462px,#d2426f 462.5px,#d6456c 463px,#be3a77 463.5px,#9b2e7f 464px,#9c2e7f 536px,#a5317e 607.5px,#b3367a 679px,#c53c74 729.5px,#cd4071 740.5px,#d3436e 744.5px,#d8456c 746px,#e24d66 747.5px,#ea5561 748px,#f7725c 748.5px,#f2645c 749px,#c23b75 749.5px,#c23b75 752.5px,#d2426f 793px,#e04c67 825px,#ea5661 846px,#f2645c 864.5px,#f66e5c 873.5px,#f8765c 877.5px,#f97c5d 879.5px,#fa815f 880px,#f9785d 881.5px,#fb835f 886.5px,#fd9266 890.5px,#fea16e 892.5px,#feae77 893.5px,#feb97f 894px,#fed395 894.5px,#fecf92 895px,#fd9668 895.5px,#e85362 896px,#ef5d5e 912px,#f66e5c 929.5px,#f97b5d 937px,#fa815f 938px,#fb8761 938.5px,#fb8560 939px,#f97a5d 939.5px,#f9785d 940.5px,#fb8761 949.5px,#fc8a62 951px,#fd9668 953.5px,#fc8d63 954.5px,#fd9a6a 959.5px,#feac76 964.5px,#feac76 967.5px)}
.c199{background:linear-gradient(#f2645c 7.5px,#e65163 71px,#d9466b 112.5px,#ca3e72 161px,#bc3978 214px,#b0357b 268px,#a5317e 364.5px,#a5317e 423.5px,#ab337c 450.5px,#b0357b 456px,#b83779 459.5px,#c23b75 461.5px,#c83e73 462px,#d5446d 462.5px,#db476a 463px,#c23b75 463.5px,#9a2e7f 464px,#9b2e7f 513.5px,#a02f7f 572.5px,#a8327d 628px,#b5367a 685.5px,#c03a76 719.5px,#cc3f71 739px,#d2426f 744px,#d9466b 746.5px,#e04b67 747.5px,#ec5860 748.5px,#e04b67 749px,#c23b75 749.5px,#c23b75 753px,#d2426f 793.5px,#e04c67 825.5px,#ea5661 846.5px,#f3655c 866.5px,#f8765c 878px,#fa815f 880.5px,#f9785d 881.5px,#f9785d 882px,#fa7f5e 885.5px,#fc8e64 890px,#fd9a6a 892px,#fea36f 893px,#feb27a 894px,#fec185 894.5px,#fde0a1 895px,#feca8d 895.5px,#e85362 896px,#f05f5e 914px,#f66d5c 928.5px,#f9795d 936.5px,#fa7f5e 938px,#fb8761 939px,#fa815f 939.5px,#f9785d 940px,#f9785d 941px,#fb8360 948px,#fc8c63 952px,#fd9266 953px,#fd9969 953.5px,#fd9668 954px,#fc8c63 954.5px,#fd9668 958.5px,#feac76 964.5px,#feac76 967.5px)}
.c200{background:linear-gradient(#f2645c 7.5px,#e75163 70.5px,#dc4869 103px,#cd4071 150px,#bd3977 206.5px,#b2357b 258.5px,#aa337d 310px,#a5317e 361.5px,#a5317e 425px,#ab337c 451px,#b3367a 458px,#bc3978 460.5px,#c33b75 461.5px,#ca3e72 462px,#db476a 462.5px,#cd3f71 463px,#992d80 463.5px,#9b2e7f 516.5px,#a1307e 587px,#aa337d 637.5px,#b73779 692px,#c03a76 720px,#cd4071 741px,#d5446d 745.5px,#db476a 747px,#e34e65 748px,#ef5d5e 748.5px,#e75263 749px,#c13b76 749.5px,#d2426f 794px,#e04c67 826px,#eb5760 849px,#f4675c 868.5px,#f9785d 879px,#fa7d5e 880px,#fb825f 880.5px,#fa7f5e 881px,#f8765c 881.5px,#fa7d5e 885px,#fc8962 889px,#fd9869 892px,#fea772 893.5px,#fead76 894px,#feb77e 894.5px,#fecd90 895px,#fecc8f 895.5px,#fd9a6a 896px,#e85362 896.5px,#f1605d 916.5px,#f7705c 931.5px,#f97a5d 937px,#fa7d5e 938px,#fb8761 939px,#fb8761 939.5px,#fa7d5e 940px,#f9785d 940.5px,#f9785d 941px,#fb8761 950px,#fc9065 953px,#fd9668 953.5px,#fd9467 954px,#fc8e64 954.5px,#fc8d63 955px,#fd9a6a 960px,#feac76 964.5px,#fead76 967.5px)}
.c201{background:linear-gradient(#f2645c 6.5px,#e85362 65.5px,#de4968 98px,#cd4071 149.5px,#bd3977 206px,#b2357b 257.5px,#aa337d 309px,#a5317e 359.5px,#a5317e 426.5px,#ab337c 451px,#b3367a 458px,#bc3978 460.5px,#c43c75 461.5px,#cb3f72 462px,#e24d66 462.5px,#d6456c 463px,#992d80 463.5px,#9b2e7f 519.5px,#a1307e 588.5px,#aa337d 638.5px,#b5367a 687px,#c03a76 720.5px,#ca3e72 738px,#d0416f 743.5px,#d8456c 746.5px,#e24d66 748px,#ea5661 748.5px,#e75263 749px,#cf4070 749.5px,#c13a76 750px,#d2426f 794.5px,#df4a68 823.5px,#eb5760 849.5px,#f2645c 865.5px,#f66e5c 874.5px,#f8765c 878.5px,#fa815f 881px,#f9785d 882px,#f9785d 882.5px,#fb835f 887.5px,#fc9065 891px,#fe9d6c 893px,#fea973 894px,#feb27a 894.5px,#febf84 895px,#fed395 895.5px,#feb77e 896px,#e85362 896.5px,#ef5d5e 913px,#f66c5c 929px,#f9785d 936.5px,#fb8560 939.5px,#f9785d 940.5px,#f9785d 941.5px,#fc8961 951px,#fd9467 954px,#fc8c63 955px,#fc8e64 956px,#fd9668 959px,#feae77 965.5px,#feae77 968.5px)}
.c202{background:linear-gradient(#f2645c 6.5px,#e85362 65px,#de4968 97.5px,#cd4071 149px,#bf3a77 199px,#b2357b 256.5px,#aa337d 307.5px,#a5317e 357px,#a5317e 428px,#aa337d 448px,#ae347b 455px,#b3367a 458px,#ba3878 460px,#c43c75 461.5px,#cc3f71 462px,#db476a 462.5px,#ca3e72 463px,#992d80 463.5px,#992d80 483px,#9e2f7f 562px,#aa337d 639.5px,#ba3878 703.5px,#c43c75 728px,#cc3f71 740px,#d2426f 744.5px,#d9466b 747px,#e04b67 748px,#e75263 748.5px,#fc9065 749px,#fc8961 749.5px,#c03a76 750px,#d3436e 798.5px,#e34e65 832.5px,#eb5760 850px,#f3655c 867.5px,#f8745c 878px,#f9795d 880px,#fb825f 881px,#fa7d5e 881.5px,#f8765c 882px,#fb8761 889px,#fc8d63 890.5px,#fd9b6b 893px,#fea571 894px,#feac76 894.5px,#feb77e 895px,#fecc8f 895.5px,#fde2a3 896px,#fec488 896.5px,#e85362 897px,#f2625d 919px,#f7705c 932px,#f9795d 937.5px,#fa7d5e 938.5px,#fa815f 939px,#fc8961 939.5px,#fb835f 940px,#f8765c 940.5px,#f9795d 943px,#fc8a62 952px,#fc8e64 953px,#fd9869 954px,#fd9668 954.5px,#fc8c63 955px,#fc8d63 955.5px,#fd9a6a 960.5px,#feae77 965.5px,#feae77 968.5px)}
.c203{background:linear-gradient(#f2645c 6.5px,#e75263 69px,#dc4869 101.5px,#cd4071 148.5px,#b3367a 247.5px,#ab337c 294.5px,#a5317e 355px,#a5317e 429px,#aa337d 448.5px,#ae347b 455px,#b3367a 458px,#ba3878 460px,#c53c74 461.5px,#ce4070 462px,#db476a 462.5px,#ca3e72 463px,#992d80 463.5px,#9b2e7f 524.5px,#a1307e 590.5px,#ab337c 648px,#b83779 699px,#c43c75 728.5px,#cf4070 743px,#d3436e 745.5px,#db476a 747.5px,#e44f65 748.5px,#ef5d5e 749px,#e55064 749.5px,#c03a76 750px,#c03a76 750.5px,#d2426f 795.5px,#df4a68 824.5px,#ea5661 848px,#f4675c 869.5px,#f8765c 879px,#f97b5d 880.5px,#fb835f 881px,#fa815f 881.5px,#f8765c 882px,#fb835f 888px,#fc9065 891.5px,#fe9d6c 893.5px,#fea973 894.5px,#feb179 895px,#febf84 895.5px,#fde1a2 896px,#fecc8f 896.5px,#e85362 897px,#ee5b5e 911.5px,#f56b5c 928px,#f9785d 937px,#fb8560 940px,#f9785d 941px,#f9785d 942px,#fc8961 951.5px,#fc9065 953.5px,#fd9768 954px,#fd9467 954.5px,#fc8c63 955px,#fc8e64 956.5px,#fd9869 960px,#feaa74 965px,#feae77 965.5px,#feb078 968.5px)}
.c204{background:linear-gradient(#f2645c 5.5px,#e75263 68.5px,#db476a 105.5px,#cc3f71 153px,#b2357b 255px,#a5317e 353px,#a3307e 406px,#a5317e 430px,#aa337d 448.5px,#ae347b 455px,#b3367a 458px,#ba3878 460px,#c53c74 461.5px,#db476a 462.5px,#c83e73 463px,#992d80 463.5px,#9b2e7f 526.5px,#a02f7f 579px,#a8327d 632.5px,#b3367a 683px,#bf3a77 718px,#cc3f71 740.5px,#d2426f 745px,#d8456c 747px,#e24d66 748.5px,#ec5860 749px,#e75263 749.5px,#ca3e72 750px,#c03a76 750.5px,#c03a76 751px,#cf4070 788.5px,#de4968 822px,#e95462 846px,#f2645c 866.5px,#f7705c 876.5px,#f9785d 880px,#fa7f5e 881.5px,#f8765c 882.5px,#fa7f5e 887px,#fc8c63 891px,#fd9467 892.5px,#fea571 894.5px,#feac76 895px,#feb77e 895.5px,#fecb8e 896px,#fdda9c 896.5px,#feb67d 897px,#e85362 897.5px,#ef5d5e 914px,#f4675c 925px,#f7725c 934px,#fa7d5e 939px,#fa815f 939.5px,#fc8962 940px,#fb8460 940.5px,#f8765c 941px,#fb8761 951px,#fc8c63 953px,#fd9467 954px,#fd9467 954.5px,#fc8e64 955px,#fc8c63 955.5px,#fc8d63 956px,#fd9b6b 961.5px,#feb078 966.5px,#feb078 969.5px)}
.c205{background:linear-gradient(#f2645c 5.5px,#e75263 68px,#dc4869 100.5px,#cd4071 147.5px,#b3367a 246px,#ab337c 292.5px,#a5317e 351px,#a3307e 410.5px,#a8327d 445px,#ad347c 453.5px,#b3367a 458px,#ba3878 460px,#c03a76 461px,#c73d73 461.5px,#d2426f 462px,#cf4070 462.5px,#b1357b 463px,#992d80 463.5px,#9b2e7f 528.5px,#a02f7f 580.5px,#a8327d 633.5px,#b3367a 683.5px,#bf3a77 718.5px,#ca3e72 739px,#d1416f 744.5px,#d9466b 747.5px,#e04c67 748.5px,#ed5a5f 749.5px,#e04c67 750px,#c03a76 750.5px,#c03a76 751.5px,#d0416f 792.5px,#e04c67 828px,#eb5760 851px,#f3655c 868.5px,#f8765c 879.5px,#f9795d 880.5px,#fa815f 881.5px,#fa7d5e 882px,#f8765c 882.5px,#f8765c 883px,#fa815f 888px,#fc9065 892px,#fe9d6c 894px,#fea973 895px,#feb27a 895.5px,#febf84 896px,#fed597 896.5px,#feb97f 897px,#e85362 897.5px,#ee5b5e 912px,#f56b5c 928.5px,#f9785d 937.5px,#fa7f5e 939.5px,#fb8560 940px,#fb835f 940.5px,#f9795d 941px,#f9785d 942.5px,#fc8961 952px,#fd9467 954.5px,#fc8c63 955.5px,#fc8e64 957px,#fd9869 960.5px,#feb078 966.5px,#feb078 969.5px)}
.c206{background:linear-gradient(#f2645c 5.5px,#e85362 63.5px,#db476a 104.5px,#cc3f71 152px,#ba3878 216px,#b0357b 262px,#a8327d 316px,#a3307e 377.5px,#a5317e 431.5px,#ab337c 451.5px,#b3367a 458px,#ba3878 460px,#c73d73 461.5px,#d5446d 462px,#dc4869 462.5px,#c43c75 463px,#992d80 463.5px,#9b2e7f 530.5px,#a02f7f 581.5px,#aa337d 642.5px,#b5367a 690px,#c03a76 722.5px,#cc3f71 741px,#d2426e 745.5px,#db476a 748px,#e44f64 749px,#ed5a5f 749.5px,#e24d66 750px,#c03a76 750.5px,#c03a76 752px,#cf4070 789.5px,#df4a68 825.5px,#ea5661 849px,#f2645c 867px,#f8745c 879px,#f97b5d 881px,#fb8560 881.5px,#fb825f 882px,#f8765c 882.5px,#f97b5d 886px,#fb8560 889.5px,#fd9467 893px,#fea06d 894.5px,#feac76 895.5px,#feb77e 896px,#fecc8f 896.5px,#fecf92 897px,#fea16e 897.5px,#e85362 898px,#f05f5e 916.5px,#f7725c 934.5px,#f97b5d 939px,#fa815f 940px,#fc8961 940.5px,#fb835f 941px,#f8765c 941.5px,#fb8560 950.5px,#fc8e64 953.5px,#fd9467 954.5px,#fd9265 955px,#fc8a62 955.5px,#fd9c6b 962px,#fea36f 964px,#feb078 966.5px,#feb27a 969.5px)}
.c207{background:linear-gradient(#f2645c 4.5px,#e75263 67.5px,#dc4869 100px,#cc3f71 151.5px,#ba3878 215.5px,#b0357b 261.5px,#a8327d 315px,#a3307e 374px,#a3307e 416px,#a5317e 432.5px,#aa337d 449px,#ae347b 455px,#b3367a 458px,#b83779 459.5px,#bd3977 460.5px,#c83e73 461.5px,#d9466b 462px,#ca3e72 462.5px,#992d80 463px,#992d80 504.5px,#a02f7f 582.5px,#a8327d 635px,#b5367a 690.5px,#c03a76 723px,#ca3e72 739.5px,#d2426f 745.5px,#d8456c 747.5px,#de4968 748.5px,#e34e65 749px,#ed5a5f 749.5px,#e44f64 750px,#c03a76 750.5px,#c03a76 752.5px,#d0416f 793.5px,#df4a68 826px,#eb5760 851.5px,#f3655c 869px,#f8765c 880px,#f9795d 881px,#fa815f 882px,#f8765c 883px,#f8765c 883.5px,#fa815f 888.5px,#fc9065 892.5px,#fe9d6c 894.5px,#fea973 895.5px,#feb27a 896px,#fed194 897px,#feb37b 897.5px,#e75262 898px,#f1605d 918.5px,#f66e5c 932px,#f9795d 938.5px,#fa7f5e 940px,#fb8761 940.5px,#fb8560 941px,#f9795d 941.5px,#f9785d 943px,#fc8a62 953px,#fc8f64 954px,#fd9668 954.5px,#fd9266 955px,#fc8a62 955.5px,#fc8f64 957.5px,#fd9869 961px,#fea772 965px,#feb179 967px,#feb27a 970.5px)}
.c208{background:linear-gradient(#f2645c 4.5px,#e75263 67px,#dc4869 99.5px,#cc3f71 151px,#bc3978 208px,#b0357b 260.5px,#a8327d 314px,#a3307e 371.5px,#a3307e 418px,#a6317d 441px,#ab337c 452px,#b1357b 456.5px,#b83779 459.5px,#c23b75 461px,#ca3e72 461.5px,#e44f64 462px,#d9466b 462.5px,#992d80 463px,#992d80 507.5px,#a02f7f 583.5px,#aa337d 644px,#b5367a 691px,#c03a76 723.5px,#ca3e72 740px,#d0416f 745px,#d5446d 747px,#e04c67 749px,#ea5661 749.5px,#e75263 750px,#cf4070 750.5px,#c03a76 751px,#c03a76 753px,#d0416f 794px,#de4968 823.5px,#e85362 845px,#f2625d 866px,#f7705c 877.5px,#f8765c 880px,#fa7f5e 882px,#f8765c 883px,#f8765c 883.5px,#fb8560 890px,#fd9467 893.5px,#fea16e 895px,#feae77 896px,#feb97f 896.5px,#fed194 897px,#fece91 897.5px,#fd9668 898px,#e85362 898.5px,#ed5a5f 911px,#f4675c 926px,#f9785d 938px,#f97b5d 939.5px,#fb8560 941px,#f8765c 942px,#f9795d 944.5px,#fc8961 952.5px,#fd9467 955px,#fc8a62 956px,#fe9f6d 963.5px,#feb27a 967.5px,#feb27a 970.5px)}
.c209{background:linear-gradient(#f2645c 4.5px,#e85362 62.5px,#db476a 103.5px,#ca3e72 156px,#bc3978 207.5px,#b0357b 260px,#a8327d 313px,#a3307e 368.5px,#a3307e 419.5px,#a5317e 434px,#aa337d 449.5px,#ae347b 455px,#b3367a 458px,#b83779 459.5px,#c43c75 461px,#cb3f72 461.5px,#d6456c 462px,#c53c74 462.5px,#992d80 463px,#992d80 510px,#a02f7f 585px,#aa337d 644.5px,#b5367a 691.5px,#c13a76 724px,#ca3e72 740px,#d0416f 745px,#d6456c 747.5px,#df4a68 749px,#e75263 749.5px,#e95462 750px,#d9466b 750.5px,#c03a76 751px,#c03a76 753.5px,#d2426f 798px,#df4a68 826.5px,#ea5661 850px,#f2645c 868px,#f8745c 879.5px,#f9785d 881px,#f97b5d 881.5px,#fb835f 882px,#fa7f5e 882.5px,#f8745c 883px,#fa815f 889px,#fc9065 893px,#fe9e6c 895px,#fea36f 895.5px,#feb37b 896.5px,#fed395 897.5px,#feb47b 898px,#e75263 898.5px,#f1605d 919px,#f66e5c 932.5px,#f9795d 939px,#fa7d5e 940px,#fb8761 941px,#fa815f 941.5px,#f8765c 942px,#fb8761 952px,#fd9165 954.5px,#fd9668 955px,#fd9266 955.5px,#fc8a62 956px,#fc8c63 957px,#fd9a6a 962px,#fea772 965.5px,#feb47b 968px,#feb47b 970.5px)}
.c210{background:linear-gradient(#f2645c 3.5px,#e75263 66.5px,#db476a 103px,#ca3e72 155.5px,#bc3978 207px,#b0357b 259px,#a8327d 311.5px,#a3307e 366.5px,#a3307e 421px,#aa337d 449.5px,#b1357b 456.5px,#b93779 459.5px,#c43c75 461px,#cc3f71 461.5px,#df4a68 462px,#d1426f 462.5px,#992d80 463px,#992d80 512.5px,#a02f7f 586px,#a8327d 637px,#b5367a 692px,#bf3a77 720.5px,#cc3f71 742px,#d2426f 746px,#d8456c 748px,#de4a68 749px,#eb5760 750px,#df4a68 750.5px,#c03a76 751px,#c03a76 754px,#cf4070 791px,#df4a68 827px,#eb5760 852.5px,#f4675c 871.5px,#f7725c 879px,#f9795d 881.5px,#fa7f5e 882px,#fa7d5e 882.5px,#f9785d 883px,#f8765c 884px,#fa7f5e 888.5px,#fc8a62 892px,#fd9869 894.5px,#fea772 896px,#feae77 896.5px,#febb81 897px,#fed194 897.5px,#fecc8f 898px,#fd9165 898.5px,#e85362 899px,#ef5d5e 915.5px,#f56b5c 929.5px,#f9785d 938.5px,#fa7f5e 940.5px,#fb8560 941px,#fb835f 941.5px,#f9795d 942px,#f8775c 942.5px,#f9785d 943.5px,#fb8761 952px,#fc8c63 954px,#fd9467 955px,#fc8a62 956px,#fc8e64 958px,#fd9869 961.5px,#fea973 966px,#feb47b 968px,#feb47b 971.5px)}
.c211{background:linear-gradient(#f2645c 3.5px,#e75263 66px,#db476a 103px,#ca3e72 155px,#bc3978 206.5px,#b0357b 258.5px,#a8327d 311px,#a3307e 364.5px,#a3307e 422.5px,#a8327d 446.5px,#ad347c 454px,#b3367a 458px,#bf3a77 460.5px,#c43c75 461px,#cd4071 461.5px,#d2426f 462px,#bc3978 462.5px,#982d80 463px,#992d80 515px,#a02f7f 586.5px,#aa337d 646px,#b5367a 692.5px,#c03a76 724.5px,#ca3e72 740.5px,#d0416f 745.5px,#d9466b 748.5px,#e24d66 749.5px,#ed5a5f 750px,#e44f64 750.5px,#c03a76 751px,#c03a76 754.5px,#cf4070 791.5px,#de4968 824.5px,#ea5661 850.5px,#f2645c 868.5px,#f7725c 879px,#fa7e5e 882.5px,#f8745c 883.5px,#fb835f 890px,#fd9165 893.5px,#fe9f6d 895.5px,#feaa74 896.5px,#feb57c 897px,#fec68a 897.5px,#fed194 898px,#feac76 898.5px,#e75263 899px,#f1605d 919.5px,#f66e5c 933px,#f9795d 939.5px,#fa7d5e 940.5px,#fb8761 941.5px,#f8765c 942.5px,#fb8560 951.5px,#fc8e64 954.5px,#fd9467 955px,#fd9266 955.5px,#fc8a62 956px,#fc8d63 957.5px,#fd9b6b 963px,#fea36f 965px,#feb37b 968px,#feb57c 971.5px)}
.c212{background:linear-gradient(#f2645c 3.5px,#e85362 61.5px,#dc4869 98px,#cc3f71 149.5px,#bc3978 206px,#b0357b 258px,#a8327d 310px,#a3307e 362.5px,#a3307e 423.5px,#aa337d 450px,#ad347c 454px,#b73779 459px,#bf3a76 460.5px,#c53c74 461px,#d9466b 462px,#c53c74 462.5px,#982d80 463px,#992d80 517px,#a02f7f 587.5px,#aa337d 646.5px,#b5367a 693px,#c03a76 725px,#c83e73 739px,#cd4071 743.5px,#d6456c 748px,#e04c67 749.5px,#ea5661 750px,#e85362 750.5px,#d1426f 751px,#c03a76 751.5px,#c03a76 755px,#d3436e 802.5px,#e34e65 836px,#ed5a5f 857.5px,#f4675c 872px,#f8765c 881px,#f9785d 881.5px,#fa815f 882.5px,#fa7d5e 883px,#f8745c 883.5px,#fa7f5e 889px,#fc8961 892px,#fd9266 894px,#fea16e 896px,#feb078 897px,#febd82 897.5px,#fdda9c 898px,#fec488 898.5px,#e75263 899px,#f05f5e 918px,#f7705c 934.5px,#f9785d 939px,#fa7f5e 941px,#fb8761 941.5px,#fb825f 942px,#f8765c 942.5px,#f9785d 944px,#fb8761 952.5px,#fc8e64 954.5px,#fd9467 955px,#fc9065 955.5px,#fc8962 956px,#fc8e64 958.5px,#fd9869 962px,#fea16e 964.5px,#feb67c 969px,#feb67c 971.5px)}
.c213{background:linear-gradient(#f2645c 3.5px,#e75263 65.5px,#dc4869 97.5px,#cc3f71 149px,#bc3978 205.5px,#b0357b 257.5px,#a8327d 309px,#a3307e 360.5px,#a3307e 424.5px,#a8327d 447px,#ad347c 454px,#b5367a 458.5px,#bc3978 460px,#c53c74 461px,#d0416f 461.5px,#d8456c 462px,#c23b75 462.5px,#982d80 463px,#992d80 519px,#a02f7f 588.5px,#a8327d 639px,#b5367a 693.5px,#bf3a77 721.5px,#ca3e72 741px,#cf4070 745px,#d8466b 748.5px,#df4a68 749.5px,#ec5860 750.5px,#de4968 751px,#c03a76 751.5px,#c03a76 755.5px,#d2426f 799.5px,#df4a68 828px,#eb5760 853.5px,#f2645c 869px,#f8745c 880.5px,#f9795d 882px,#fa815f 882.5px,#fa7d5e 883px,#f8745c 883.5px,#fb835f 890.5px,#fc8e64 893.5px,#fe9f6d 896px,#feac76 897px,#feb77e 897.5px,#fece91 898px,#fec68a 898.5px,#fc8961 899px,#e75263 899.5px,#f05f5e 918px,#f66c5c 932px,#f7725c 936px,#fa7c5d 940.5px,#fc8961 942px,#fa815f 942.5px,#f8765c 943px,#fb835f 951px,#fc8a62 954px,#fd9165 955px,#fd9266 955.5px,#fc8c63 956px,#fc8a62 957px,#fd9668 961.5px,#fea06e 964.5px,#feb67c 969px,#feb67c 971.5px)}
.c214{background:linear-gradient(#f2645c 2.5px,#e75263 65px,#db476a 101.5px,#cc3f71 148.5px,#bc3978 205px,#b0357b 256.5px,#a8327d 308px,#a3307e 359px,#a3307e 425.5px,#a8327d 447px,#ad347c 454px,#b5367a 458.5px,#c03a76 460.5px,#c73d73 461px,#d3436e 461.5px,#d2426f 462px,#b5367a 462.5px,#982d80 463px,#992d80 521px,#9e2f7f 576.5px,#a6317d 631px,#b3367a 688px,#bf3a77 722px,#c93e73 739.5px,#d0416f 746px,#d8456c 748.5px,#de4a68 749.5px,#ea5661 750.5px,#de4968 751px,#bf3a76 751.5px,#d0416f 796px,#e04c67 831px,#ed5a5f 858px,#f4675c 872.5px,#f8745c 880.5px,#fa7e5e 883px,#f8745c 884px,#f9795d 887px,#fa815f 890px,#fc9065 894px,#fe9d6c 896px,#feaa74 897px,#feb37b 897.5px,#fec287 898px,#fed698 898.5px,#feb87e 899px,#e75263 899.5px,#f05f5e 918.5px,#f66c5c 932px,#f9795d 940px,#fa7d5e 941px,#fb8560 942px,#fa7f5e 942.5px,#f8765c 943px,#f9785d 944.5px,#fc8961 953.5px,#fc8c63 954.5px,#fd9668 955.5px,#fd9266 956px,#fc8a62 956.5px,#fc8c63 958px,#fd9b6b 963.5px,#fea571 966px,#feb67c 969px,#feb77e 972.5px)}
.c215{background:linear-gradient(#f2645c 2.5px,#e75163 65px,#dc4869 97px,#cc3f71 148.5px,#bc3978 204.5px,#b0357b 256px,#a8327d 307px,#a3307e 357px,#a3307e 426.5px,#a8327d 447px,#ad347c 454px,#b5367a 458.5px,#c03a76 460.5px,#c73d73 461px,#d5446d 461.5px,#d6456c 462px,#ba3878 462.5px,#982d80 463px,#992d80 522.5px,#a02f7f 590.5px,#ab337c 656px,#b73779 699.5px,#c03a76 726px,#cc3f71 743px,#d3436e 747.5px,#d9466b 749px,#e34e65 750px,#ee5b5e 750.5px,#e55064 751px,#bf3a77 751.5px,#d0416f 796.5px,#df4a68 828.5px,#eb5760 854px,#f2645c 869.5px,#f7725c 880px,#f9785d 882px,#fa7f5e 883px,#f8745c 884px,#fa7f5e 889.5px,#fc8c63 893.5px,#fd9869 895.5px,#fea772 897px,#feaf78 897.5px,#febb81 898px,#fed99b 898.5px,#fec287 899px,#e75263 899.5px,#f1605d 920.5px,#f66d5c 932.5px,#f9785d 939.5px,#fa7f5e 941.5px,#fb8761 942px,#fb825f 942.5px,#f8765c 943px,#f9785d 944.5px,#fb8761 953px,#fc8e64 955px,#fd9467 955.5px,#fc9065 956px,#fc8962 956.5px,#fc8e64 959px,#fd9869 962.5px,#fea772 966.5px,#feb77e 969.5px,#feb77e 972.5px)}
.c216{background:linear-gradient(#f2645c 2.5px,#e75263 64.5px,#db476a 101px,#cc3f71 148px,#bc3978 204px,#b0357b 255.5px,#a8327d 306.5px,#a3307e 355.5px,#a3307e 427px,#a8327d 447.5px,#ad347c 454px,#b6367a 458.5px,#c13a76 460.5px,#c83d73 461px,#d8466b 461.5px,#ca3e72 462px,#982d80 462.5px,#992d80 524px,#9e2f7f 578px,#a6317d 632px,#b3367a 689px,#bf3a77 722.5px,#ca3e72 741.5px,#cf4170 745.5px,#d6456c 748.5px,#dc4869 749.5px,#e24d66 750px,#ed5a5f 750.5px,#e44f65 751px,#bf3a77 751.5px,#bf3a77 752px,#d2426e 800.5px,#e24d66 834.5px,#ea5661 852px,#f2625d 868px,#f66c5c 877px,#f8745c 881px,#f97a5d 882.5px,#fa815f 883px,#fa7d5e 883.5px,#f8745c 884px,#f8745c 884.5px,#fa815f 890.5px,#fc8e64 894px,#fe9f6d 896.5px,#feac76 897.5px,#feb67d 898px,#fecb8e 898.5px,#fde7a9 899px,#fecc8f 899.5px,#e75263 900px,#ef5d5e 917px,#f66e5c 934px,#f97c5d 941px,#fb8761 942.5px,#f8765c 943.5px,#fb835f 951.5px,#fc8c63 954.5px,#fd9467 955.5px,#fd9165 956px,#fc8961 956.5px,#fc8a62 957.5px,#fd9668 962px,#fea06e 965px,#fea973 967px,#feb77e 969.5px,#feb77e 972.5px)}
.c217{background:linear-gradient(#f2645c 2.5px,#e85362 60px,#dc4869 96.5px,#cc3f71 147.5px,#bd3977 197.5px,#b0357b 255px,#a8327d 305.5px,#a3307e 354.5px,#a3307e 428px,#a8327d 447.5px,#ad347c 454px,#b63779 458.5px,#bd3977 460px,#c83e73 461px,#de4a68 461.5px,#d2426f 462px,#982d80 462.5px,#992d80 525.5px,#9e2f7f 579px,#a8327d 641.5px,#b3367a 689.5px,#bd3977 719px,#c83e73 740px,#cf4070 745.5px,#d6456c 748.5px,#e04c67 750px,#e95462 750.5px,#e95462 751px,#d6456c 751.5px,#bf3a77 752px,#cf4070 793.5px,#df4a68 829px,#eb5760 854.5px,#f2645c 870px,#f56b5c 876px,#f8745c 881px,#f9795d 882.5px,#fb835f 883px,#fa7f5e 883.5px,#f8745c 884px,#f8745c 884.5px,#fa7f5e 890px,#fc8962 893px,#fd9668 895.5px,#fe9d6c 896.5px,#fea973 897.5px,#feb27a 898px,#fed194 899px,#feb079 899.5px,#e75263 900px,#f1605d 921px,#f7705c 935.5px,#f9795d 940.5px,#fa815f 942px,#fc8a62 942.5px,#fb8460 943px,#f8765c 943.5px,#f9785d 945px,#fc8961 954px,#fc8d63 955px,#fd9466 955.5px,#fc9065 956px,#fc8961 956.5px,#fc8c63 958.5px,#fea36f 966px,#feb77e 969.5px,#feb97f 972.5px)}
.c218{background:linear-gradient(#f2645c 1.5px,#e75263 64px,#dc4869 96px,#cc3f71 147.5px,#bd3977 197px,#b0357b 254.5px,#a3307e 353px,#a1307e 401.5px,#a3307e 428.5px,#a8327d 447.5px,#af347b 455.5px,#b63779 458.5px,#ba3878 459.5px,#c23b75 460.5px,#ca3e72 461px,#dc4869 461.5px,#cd4071 462px,#982d80 462.5px,#992d80 527px,#9e2f7f 580px,#a6317d 633.5px,#b2357b 684px,#bf3a77 723px,#ca3e72 742px,#d0416f 746.5px,#d8456c 749px,#df4a68 750px,#e65163 750.5px,#ea5661 751px,#db476a 751.5px,#bf3a77 752px,#bf3a77 752.5px,#d0416f 797.5px,#de4968 826.5px,#e95462 850px,#f2625d 868.5px,#f7725c 880.5px,#f8765c 882px,#fa7d5e 883px,#fa7d5e 883.5px,#f8765c 884px,#f8745c 885px,#fb835f 891.5px,#fc8c63 894px,#fd9869 896px,#fea772 897.5px,#feae77 898px,#febb81 898.5px,#fed89a 899px,#fec287 899.5px,#e75263 900px,#ee5c5e 915.5px,#f66d5c 933px,#f9785d 940px,#fa805e 942px,#fb8761 942.5px,#fb825f 943px,#f8765c 943.5px,#f9785d 945px,#fb8761 953.5px,#fc8c63 955px,#fd9467 956px,#fc9065 956.5px,#fc8962 957px,#fc8e64 959.5px,#fd9869 963px,#fea772 967px,#feb87f 970px,#feb97f 973.5px)}
.c219{background:linear-gradient(#f2645c 1.5px,#e85362 59.5px,#dc4869 96px,#cc3f71 147px,#bc3978 203px,#b0357b 254px,#a3307e 352px,#a1307e 405.5px,#a3307e 429px,#a8327d 448px,#af347b 455.5px,#b63779 458.5px,#ba3878 459.5px,#c23b75 460.5px,#ca3e72 461px,#d6456c 461.5px,#c53c74 462px,#982d80 462.5px,#992d80 528.5px,#9e2f7f 580.5px,#a6317d 634px,#b3367a 690px,#bf3a77 723.5px,#c93e73 740.5px,#d3436e 748px,#de4968 750px,#eb5760 751px,#df4a68 751.5px,#bf3a77 752px,#bf3a77 753px,#d5446d 808px,#e44f64 840.5px,#ec5860 857px,#f4675c 873.5px,#f8745c 881.5px,#f9785d 882.5px,#fa7f5e 883.5px,#f97b5d 884px,#f8745c 884.5px,#f8745c 885px,#fa815f 891px,#fd9467 895.5px,#fe9f6d 897px,#feac76 898px,#feb77e 898.5px,#fddea0 899.5px,#febd82 900px,#e75263 900.5px,#f05f5e 919.5px,#f66e5c 934.5px,#f9785d 940px,#fa7c5e 941.5px,#fb8560 942.5px,#fb835f 943px,#f9785d 943.5px,#f8765c 944px,#fb835f 952px,#fb8761 953.5px,#fd9266 956px,#fc8961 957px,#fc8a62 958px,#fd9668 962.5px,#fea16e 965.5px,#fea973 967.5px,#feb67c 969.5px,#feb97f 970.5px,#feb97f 973.5px)}
.c220{background:linear-gradient(#f2645c 1.5px,#ed5a5f 36px,#e55064 68px,#d9466b 104.5px,#c83e73 157px,#ba3878 209px,#ad347c 271.5px,#a5317e 332px,#a1307e 382px,#a3307e 429.5px,#aa337d 450.5px,#af347b 455.5px,#ba3878 459.5px,#c23b75 460.5px,#cc3f71 461px,#dc4869 461.5px,#cd4071 462px,#982d80 462.5px,#992d80 530px,#9e2f7f 581.5px,#a6317d 634.5px,#b3367a 690.5px,#bf3a77 723.5px,#c83e73 740.5px,#cd4071 745px,#d5446d 748.5px,#de4968 750px,#e34e65 750.5px,#eb5760 751px,#df4b67 751.5px,#bf3a77 752px,#bf3a77 753px,#d2426f 801.5px,#e34e65 838px,#eb5760 855px,#f2645c 870.5px,#f7705c 880px,#f9785d 882.5px,#fa7f5e 883.5px,#f8745c 884.5px,#f8745c 885px,#f97b5d 889px,#fb8761 893px,#fd9366 895.5px,#fe9d6c 897px,#feaa74 898px,#feb37b 898.5px,#fec287 899px,#fcfdbf 899.5px,#fceeb0 900px,#e75263 900.5px,#ee5b5e 915.5px,#f4675c 928.5px,#f8765c 939.5px,#f97b5d 941.5px,#fa7e5e 942px,#fb835f 942.5px,#fb835f 943px,#f8765c 944px,#f9785d 945.5px,#fb8560 953px,#fd9266 956px,#fc8961 957px,#fc8c63 959px,#fe9f6d 965.5px,#feaa74 968px,#feb97f 970.5px,#febb80 973.5px)}
.c221{background:linear-gradient(#f2645c 1.5px,#e85362 59px,#d9466b 104px,#c83e73 156.5px,#b83779 215.5px,#ad347c 271px,#a5317e 331px,#a1307e 379.5px,#a3307e 430px,#aa337d 450.5px,#af347b 455.5px,#b83779 459px,#c43c75 460.5px,#cc3f71 461px,#d9466b 461.5px,#c83e73 462px,#982d80 462.5px,#982d80 501.5px,#9e2f7f 582px,#a8327d 643px,#b5367a 696.5px,#bf3a77 724px,#ca3e72 742.5px,#d1416f 747px,#d6456c 749px,#dc4869 750px,#e24d66 750.5px,#f0605d 751px,#e95462 751.5px,#bf3a77 752px,#bf3a77 753.5px,#d5446d 808.5px,#e44f64 841px,#ec5860 857.5px,#f2625d 869px,#f7725c 881px,#f9795d 883px,#fa7d5e 883.5px,#f7735c 884.5px,#fb835f 892px,#fc8c63 894.5px,#fd9869 896.5px,#fea772 898px,#feb078 898.5px,#febd82 899px,#fddc9d 899.5px,#fec488 900px,#e75263 900.5px,#ee5b5e 916px,#f56b5c 932px,#f9785d 940.5px,#fa7d5e 942px,#fb8560 943px,#fa7f5e 943.5px,#f8765c 944px,#f9785d 945.5px,#fc8961 954.5px,#fc8e64 955.5px,#fd9869 956px,#fd9567 956.5px,#fc8961 957px,#fc8f64 960px,#fd9a6a 964px,#fea571 967px,#feac76 968.5px,#feb77e 970px,#febb81 971px,#febb81 973.5px)}
.c222{background:linear-gradient(#f2645c 1.5px,#e75263 63px,#dc4869 95px,#cc3f71 146px,#bd3977 195.5px,#b0357b 252.5px,#a3307e 348.5px,#a1307e 412px,#a6317d 444.5px,#ab337c 452.5px,#b2357b 457px,#b83779 459px,#bf3a77 460px,#c43c75 460.5px,#cd4071 461px,#d2426e 461.5px,#bd3977 462px,#982d80 462.5px,#982d80 503.5px,#9e2f7f 582.5px,#a6317d 635.5px,#b2357b 685.5px,#bf3a77 724px,#c93e73 741px,#d0416f 747px,#d6456c 749px,#e04c67 750.5px,#ea5661 751px,#e65163 751.5px,#cc3f71 752px,#bf3a77 752.5px,#bf3a77 754px,#d2426f 802px,#e34e65 838.5px,#eb5760 855.5px,#f3655c 872.5px,#f7725c 881px,#f8765c 882.5px,#fa805e 883.5px,#fa7d5e 884px,#f7725c 884.5px,#fa815f 891.5px,#fd9467 896px,#fe9f6d 897.5px,#fead76 898.5px,#feb97f 899px,#fed395 899.5px,#fec88c 900px,#fa7d5e 900.5px,#e75263 901px,#f05f5e 920px,#f66e5c 935px,#f9785d 940.5px,#fa7f5e 942.5px,#fb8761 943px,#fa815f 943.5px,#f8765c 944px,#f8765c 944.5px,#fb8761 954px,#fc8d63 955.5px,#fd9869 956px,#fd9567 956.5px,#fc8961 957px,#fc8961 957.5px,#fd9869 963.5px,#fea772 967.5px,#febb81 971px,#febb81 973.5px)}
.c223{background:linear-gradient(#f2645c 0.5px,#e75263 63px,#d9466b 103.5px,#c83e73 156px,#b83779 214.5px,#ad347c 270px,#a5317e 329.5px,#a1307e 375px,#a1307e 414px,#a3307e 431px,#a8327d 448px,#ae347b 455.5px,#b83779 459px,#c43c75 460.5px,#d8456c 461.5px,#c43c75 462px,#982d80 462.5px,#982d80 505px,#9e2f7f 583.5px,#a8327d 644px,#b3367a 691.5px,#bf3a76 724.5px,#c83e73 741px,#ce4070 745.5px,#d5446d 748.5px,#db476a 750px,#df4a68 750.5px,#e85362 751px,#e75263 751.5px,#d2426f 752px,#bf3a77 752.5px,#bf3a77 754px,#cf4070 795px,#df4a68 830.5px,#ea5661 853.5px,#f2645c 871px,#f56b5c 877px,#f8745c 882px,#f9785d 883px,#fa7d5e 883.5px,#fa7d5e 884px,#f8765c 884.5px,#f8745c 885.5px,#fa7f5e 891px,#fc8861 893.5px,#fc9065 895.5px,#fd9a6a 897px,#feaa74 898.5px,#feb67c 899px,#fec88c 899.5px,#fecc8f 900px,#fea16e 900.5px,#e75263 901px,#e85362 903.5px,#f1605d 922px,#f7705c 936.5px,#f97c5d 942px,#fb8560 943px,#fb835f 943.5px,#f9785d 944px,#f8765c 944.5px,#fb8761 954px,#fc8c63 955.5px,#fd9467 956px,#fc9065 956.5px,#fc8861 957px,#fc8961 957.5px,#fd9668 963px,#fea16e 966px,#fea973 968px,#febb81 971px,#febc82 974.5px)}
.c224{background:linear-gradient(#f2645c 0.5px,#ee5b5e 30.5px,#e55064 67px,#db476a 99px,#ca3e72 150.5px,#ba3878 207.5px,#ae347b 260.5px,#a6317d 314px,#a1307e 373.5px,#a3307e 431.5px,#aa337d 451px,#b1357b 456.5px,#b83779 459px,#bf3a77 460px,#c43c74 460.5px,#cf4070 461px,#f1615d 461.5px,#eb5760 462px,#982d80 462.5px,#982d80 507px,#9e2f7f 584px,#a6317d 636px,#b2357b 686px,#bf3a77 724.5px,#c83e73 741px,#cd4071 745.5px,#d3436e 748.5px,#df4a68 750.5px,#ea5661 751.5px,#dc4869 752px,#bf3a77 752.5px,#bf3a77 754.5px,#d0416f 799px,#dc4869 825px,#e85362 849px,#f2625d 869.5px,#f7705c 880.5px,#f9785d 883px,#fa7f5e 884px,#f8735c 885px,#f97b5d 889.5px,#fb8560 893px,#fd9266 896px,#fe9d6c 897.5px,#fea973 898.5px,#feb27a 899px,#fec185 899.5px,#fed395 900px,#feb47b 900.5px,#e75263 901px,#ee5c5e 916.5px,#f56b5c 932.5px,#f8745c 939px,#f9795d 941.5px,#fa7e5e 942.5px,#fb8761 943.5px,#f8765c 944.5px,#f9785d 946px,#fb8560 953.5px,#fc8c63 955.5px,#fd9165 956px,#fc9065 956.5px,#fc8a62 957px,#fc8961 957.5px,#fc8c63 959.5px,#fe9f6d 966px,#feaa74 968.5px,#febd82 971.5px,#febd82 974.5px)}
.c225{background:linear-gradient(#f2645c 0.5px,#e75263 62.5px,#de4968 90px,#cd4071 140.5px,#b3367a 235.5px,#aa337d 289.5px,#a3307e 346px,#a1307e 416px,#a6317d 445px,#aa337d 451px,#b2357b 457px,#b83779 459px,#bf3a77 460px,#c53c74 460.5px,#d0416f 461px,#cd4071 461.5px,#ae347b 462px,#982d80 462.5px,#982d80 508.5px,#9e2f7f 584.5px,#a8327d 645px,#b3367a 692px,#bd3977 721px,#ca3e72 743px,#cf4070 746.5px,#d5446d 749px,#de4968 750.5px,#e85362 751.5px,#d9466b 752px,#bf3a77 752.5px,#bf3a77 754.5px,#d2426f 802.5px,#e24d66 836.5px,#eb5760 856px,#f3655c 873px,#f7725c 881.5px,#fa7d5e 884px,#f9795d 884.5px,#f7725c 885px,#fb835f 892.5px,#fc8c63 895px,#fd9869 897px,#fea772 898.5px,#feb078 899px,#febd82 899.5px,#fdda9c 900px,#fec287 900.5px,#e75263 901px,#f05f5e 920.5px,#f66c5c 934px,#f9785d 941px,#fa7d5e 942.5px,#fb8560 943.5px,#f8765c 944.5px,#f9785d 946px,#fb8560 953.5px,#fc8a62 955px,#fc9065 956px,#fc9065 956.5px,#fc8961 957.5px,#fc8c63 959.5px,#fd9a6a 964.5px,#fea36f 967px,#feb078 969.5px,#febd82 971.5px,#febd82 974.5px)}
.c226{background:linear-gradient(#f2645c 0.5px,#e85362 58px,#db476a 98.5px,#cc3f71 145px,#ba3878 207px,#b0357b 251px,#a3307e 345px,#a1307e 417px,#a6317d 445px,#ab337c 453px,#b2357b 457px,#b83779 459px,#bf3a77 460px,#c53c74 460.5px,#d2426f 461px,#d0416f 461.5px,#b2357b 462px,#982d80 462.5px,#982d80 509.5px,#9e2f7f 585px,#aa337d 653px,#b73779 703px,#c03a76 728.5px,#cc3f71 744.5px,#d0416f 747.5px,#d9466b 750px,#e34e65 751px,#f05f5e 751.5px,#e75263 752px,#bf3a77 752.5px,#bf3a77 755px,#d2426f 802.5px,#e24d66 836.5px,#ea5661 854px,#f2645c 871.5px,#f7725c 881.5px,#f9795d 883.5px,#fa7f5e 884px,#f97b5d 884.5px,#f7725c 885px,#fa815f 892px,#fc8e64 895.5px,#fe9f6d 898px,#feae77 899px,#feb97f 899.5px,#fed597 900px,#fcecae 900.5px,#fecc8f 901px,#e75263 901.5px,#f1605d 922.5px,#f66e5c 935.5px,#f9785d 941px,#fa805f 943px,#fb8761 943.5px,#fa815f 944px,#f8765c 944.5px,#f8765c 945px,#fb8560 953.5px,#fc8961 955px,#fd9165 956.5px,#fc8961 957.5px,#fc8961 958px,#fd9869 964px,#fea571 967.5px,#feac76 969px,#febd82 971.5px,#febd82 974.5px)}
.c227{background:linear-gradient(#f2645c 0.5px,#ee5b5e 30px,#e55064 66.5px,#db476a 98.5px,#ca3e72 150px,#bc3978 200.5px,#ae347b 259.5px,#a6317d 312.5px,#a1307e 369px,#a1307e 418px,#a8327d 448.5px,#ae347b 455.5px,#b83779 459px,#bf3a76 460px,#c53c74 460.5px,#d3436e 461px,#d5446d 461.5px,#b83779 462px,#972d80 462.5px,#982d80 511px,#9e2f7f 585.5px,#a8327d 645.5px,#b3367a 692.5px,#bd3977 721.5px,#c83e73 741.5px,#d0416f 747.5px,#d6456c 749.5px,#dc4869 750.5px,#e24d66 751px,#ea5661 751.5px,#de4968 752px,#bf3a77 752.5px,#bf3a77 755px,#cf4070 796px,#dc4869 825.5px,#e85362 849.5px,#f2625d 870px,#f7715c 881px,#f8765c 883px,#fa7d5e 884px,#f9795d 884.5px,#f7725c 885px,#fa7f5e 891.5px,#fc9065 896px,#fd9a6a 897.5px,#feac75 899px,#feb67c 899.5px,#feca8d 900px,#fec98d 900.5px,#fd9768 901px,#e75263 901.5px,#e75263 902px,#f2625d 924.5px,#f7705c 937px,#f97b5d 942px,#fa7f5e 943px,#fb8761 943.5px,#fb825f 944px,#f8765c 944.5px,#f8765c 945px,#fb8761 954.5px,#fc8a62 955.5px,#fd9266 956.5px,#fc8961 957.5px,#fc8961 958px,#fd9668 963.5px,#fea772 968px,#feb27a 970px,#febd82 971.5px,#febe84 974.5px)}
.c228{background:linear-gradient(#f2645c 0.5px,#e55064 66.5px,#d9466b 102.5px,#ca3e72 149.5px,#ba3878 206.5px,#ae347b 259px,#a6317d 312px,#a1307e 368px,#a1307e 418.5px,#a5317e 440.5px,#aa337d 451px,#ae347b 455.5px,#b83779 459px,#c63d74 460.5px,#e04b67 461.5px,#ca3e72 462px,#972d80 462.5px,#982d80 512px,#9e2f7f 586px,#a8327d 646px,#b73779 703.5px,#c13a76 729px,#cc3f71 744.5px,#d0416f 747.5px,#d6456c 749.5px,#dc4869 750.5px,#e24d66 751px,#f1615d 751.5px,#ea5661 752px,#bf3a77 752.5px,#bf3a77 755.5px,#d5446d 810px,#df4b68 831.5px,#e95462 852px,#f05f5e 866.5px,#f66e5c 880px,#f9785d 883.5px,#fb835f 884px,#fa7f5e 884.5px,#f7725c 885px,#fa7f5e 891.5px,#fc8961 894.5px,#fd9266 896.5px,#fe9d6c 898px,#feaa74 899px,#feb47b 899.5px,#fec488 900px,#fed89a 900.5px,#feb97f 901px,#e75263 901.5px,#ef5d5e 919px,#f56b5c 933px,#f8745c 939.5px,#f9795d 942px,#f97b5d 942.5px,#fb8560 943.5px,#fb835f 944px,#f9795d 944.5px,#f8765c 945px,#fb835f 953px,#fb8761 954.5px,#fc9065 956.5px,#fc8861 957.5px,#fc8961 958px,#fd9668 963.5px,#fea16e 966.5px,#fea973 968.5px,#febf84 972px,#febf84 974.5px)}
.c229{background:linear-gradient(#f2645c 0.5px,#e75163 62px,#db476a 98px,#ca3e72 149.5px,#bc3978 200px,#ae347b 258.5px,#a6317d 311.5px,#a1307e 367px,#a1307e 419.5px,#a8327d 448.5px,#ae347b 455.5px,#b83779 459px,#bc3978 459.5px,#c73d73 460.5px,#d6456c 461px,#c73d73 461.5px,#972d80 462px,#982d80 513px,#9e2f7f 586.5px,#a6317d 638px,#b3367a 693px,#bf3a77 725.5px,#ca3e72 743.5px,#cf4170 747px,#d8466b 750px,#e04c67 751px,#ec5860 751.5px,#e34e65 752px,#bf3a77 752.5px,#bf3a77 755.5px,#d2426e 803.5px,#e24d66 837px,#eb5760 856.5px,#f3655c 873.5px,#f7725c 882px,#f9785d 883.5px,#fa7d5e 884px,#f9795d 884.5px,#f7725c 885px,#f7725c 885.5px,#fb835f 893px,#fd9266 896.5px,#fea26f 898.5px,#fea973 899px,#feb27a 899.5px,#fec085 900px,#fed89b 900.5px,#febf84 901px,#e75263 901.5px,#ef5d5e 919px,#f56b5c 933px,#f8765c 940.5px,#f97b5d 942.5px,#fb835f 943.5px,#fb835f 944px,#f8765c 945px,#f97b5d 949px,#fb8761 954.5px,#fc8c63 956px,#fd9467 956.5px,#fc9065 957px,#fb8761 957.5px,#fd9467 963px,#fe9f6d 966.5px,#feab75 969px,#feb47b 970.5px,#febd82 971.5px,#febf84 972px,#febf84 974.5px)}
.c230{background:linear-gradient(#f2645c 0.5px,#e55064 66px,#db476a 98px,#ca3e72 149.5px,#ba3878 206px,#ae347b 258.5px,#a6317d 311px,#a1307e 366px,#a1307e 420px,#a8327d 448.5px,#ae347b 455.5px,#b73779 458.5px,#bc3978 459.5px,#c73d73 460.5px,#d8456c 461px,#c83e73 461.5px,#972d80 462px,#982d80 514px,#9c2e7f 573.5px,#a5317e 629.5px,#b2357b 687.5px,#bd3977 722px,#c93e73 742px,#cf4070 747px,#d4436e 749px,#db476a 750.5px,#e04c67 751px,#ea5561 751.5px,#ea5661 752px,#d6456c 752.5px,#bf3a77 753px,#bf3a77 755.5px,#d0416f 800px,#e04c67 834.5px,#ea5661 854.5px,#f2645c 872px,#f7725c 882px,#f9785d 883.5px,#fa7f5e 884.5px,#f7725c 885.5px,#fb815f 892.5px,#fc8e64 896px,#fd9b6b 898px,#fea772 899px,#feb078 899.5px,#febd82 900px,#fde5a7 900.5px,#fed194 901px,#e75263 901.5px,#f1605d 923px,#f66e5c 936px,#f9785d 941.5px,#fa7d5e 943px,#fa815f 943.5px,#fc8f64 944px,#fc8961 944.5px,#f8765c 945px,#fb8560 954px,#fc8c63 956px,#fc9065 956.5px,#fc8d63 957px,#fb8761 957.5px,#fd9467 963px,#fea36f 967.5px,#feb078 970px,#febf84 972px,#febf84 974.5px)}
.c231{background:linear-gradient(#f2645c 0.5px,#e55064 66px,#dc4869 93.5px,#cc3f71 144px,#bc3978 199.5px,#ae347b 258px,#a6317d 310.5px,#a1307e 365px,#a1307e 420.5px,#a8327d 448.5px,#ae347b 455.5px,#b73779 458.5px,#bc3978 459.5px,#c73d73 460.5px,#d9466b 461px,#cc3f71 461.5px,#962c80 462px,#982d80 515px,#9e2f7f 587.5px,#a6317d 638.5px,#b3367a 693.5px,#bd3977 722px,#c83e73 742px,#cc3f71 745px,#d3436e 749px,#df4a68 751px,#e85362 751.5px,#e85362 752px,#d3436e 752.5px,#bf3a77 753px,#bf3a77 756px,#d3436e 807px,#e34e65 840px,#ec5860 859px,#f2625d 870.5px,#f7725c 882px,#f97b5d 884px,#f97b5d 884.5px,#f7725c 885.5px,#fa815f 892.5px,#fd9467 897px,#fea06d 898.5px,#feae77 899.5px,#feb97f 900px,#fdda9c 900.5px,#fec488 901px,#e75263 901.5px,#ed5a5f 915px,#f4675c 930px,#f9785d 941.5px,#fb835f 944px,#f8765c 945px,#f8765c 945.5px,#fb8560 954px,#fc8c63 956px,#fd9a6a 956.5px,#fd9668 957px,#fb8761 957.5px,#fd9266 962.5px,#fea571 968px,#feb078 970px,#febf84 972px,#fec085 975.5px)}
.c232{background:linear-gradient(#f2645c 0.5px,#e75263 61.5px,#db476a 97.5px,#ca3e72 149px,#ba3878 205.5px,#ae347b 258px,#a6317d 310.5px,#a1307e 364.5px,#a1307e 421px,#a5317e 441px,#a8327d 449px,#ae347b 455.5px,#b73779 458.5px,#bc3978 459.5px,#c73d73 460.5px,#dc4869 461px,#cf4070 461.5px,#962c80 462px,#982d80 516px,#9d2e7f 574.5px,#a5317e 630px,#b2357b 688px,#bf3a77 726px,#c83e73 742px,#cf4070 747px,#d5446d 749.5px,#df4a68 751px,#e75263 751.5px,#e44f64 752px,#cf4070 752.5px,#bf3a77 753px,#bf3a77 756px,#d2426f 803.5px,#e24d66 837.5px,#eb5760 857px,#f2625d 870.5px,#f56b5c 878px,#f7725c 882px,#f9785d 883.5px,#fa7f5e 884.5px,#f7725c 885.5px,#fa7f5e 892px,#fc9065 896.5px,#fe9f6d 898.5px,#feac76 899.5px,#feb77e 900px,#fecf92 900.5px,#fed698 901px,#fea973 901.5px,#e75263 902px,#f2625d 925px,#f7705c 937.5px,#f9785d 941.5px,#fa805f 943.5px,#fb8861 944px,#fb825f 944.5px,#f8765c 945px,#fb8560 954px,#fc8c63 956px,#fd9366 956.5px,#fc9065 957px,#fb8761 957.5px,#fd9869 964.5px,#fea571 968px,#feac76 969.5px,#febf84 972px,#fec185 972.5px,#fec185 975.5px)}
.c233{background:linear-gradient(#f2645c 0.5px,#e75163 61.5px,#db476a 97.5px,#ca3e72 149px,#ba3878 205.5px,#ae347b 257.5px,#a6317d 310px,#a1307e 363.5px,#a1307e 421.5px,#a8327d 449px,#ae347b 455.5px,#b73779 458.5px,#c03a76 460px,#c83e73 460.5px,#e04c67 461px,#d5446d 461.5px,#962c80 462px,#982d80 516.5px,#9e2f7f 588px,#aa337d 655px,#b5367a 699px,#c03a76 729.5px,#cc3f71 745px,#d2426f 748.5px,#db476a 750.5px,#de4a68 751px,#e55064 751.5px,#f05f5e 752px,#e65163 752.5px,#bf3a77 753px,#bf3a77 756px,#d0416f 800.5px,#df4a68 832px,#e95462 852.5px,#f2625d 870.5px,#f66f5c 880.5px,#f8745c 883px,#fa7d5e 884.5px,#f7725c 885.5px,#f97b5d 890.5px,#fb8761 894.5px,#fd9668 897.5px,#fea570 899px,#feab75 899.5px,#feb67c 900px,#feca8d 900.5px,#fec68a 901px,#fd9366 901.5px,#e75263 902px,#e95462 907px,#f2625d 925px,#f7705c 937.5px,#f9785d 941.5px,#fa7f5e 943.5px,#fb8560 944px,#fa7f5e 944.5px,#f8765c 945px,#f8765c 945.5px,#fb8560 954px,#fc8962 955.5px,#fd9165 956.5px,#fc8e64 957px,#fb8761 957.5px,#fd9668 964px,#fea772 968.5px,#feb27a 970.5px,#febf84 972px,#fec185 972.5px,#fec185 975.5px)}
.c234{background:linear-gradient(#f2645c 0.5px,#e85362 57px,#dc4869 93px,#ca3e72 148.5px,#bc3978 199px,#ae347b 257.5px,#a6317d 309.5px,#a1307e 363px,#a1307e 421.5px,#a8327d 449px,#ae347b 455.5px,#b73779 458.5px,#c03a76 460px,#c83e73 460.5px,#ea5661 461px,#e24d66 461.5px,#962c80 462px,#982d80 517.5px,#9e2f7f 588.5px,#a8327d 647.5px,#b3367a 694px,#bd3977 722.5px,#c83e73 742px,#d0416f 748px,#d5446d 749.5px,#de4968 751px,#ea5661 752px,#dc4869 752.5px,#bf3a77 753px,#bf3a76 756.5px,#cf4070 797px,#df4a68 832px,#ea5661 855px,#f3665c 874px,#f7705c 881.5px,#f8765c 883.5px,#f97b5d 884.5px,#f7725c 885.5px,#f8745c 887px,#fa7f5e 892px,#fc8961 895px,#fd9266 897px,#fea36f 899px,#feb47b 900px,#fec68a 900.5px,#fed597 901px,#feb47b 901.5px,#e75263 902px,#e85362 905px,#f05f5e 921.5px,#f7705c 937.5px,#f8765c 941px,#fa7c5d 943px,#fa7f5e 943.5px,#fc8962 944px,#fb8560 944.5px,#f8765c 945px,#fb8360 953.5px,#fc8961 955.5px,#fd9467 957px,#fc8861 958px,#fc8961 958.5px,#fd9668 964px,#fea772 968.5px,#feaf77 970px,#fec185 972.5px,#fec185 975.5px)}
.c235{background:linear-gradient(#f2645c 0.5px,#e55064 65.5px,#dc4869 93px,#cc3f71 143.5px,#bc3978 199px,#af347b 257px,#a6317d 309.5px,#a1307e 362.5px,#a1307e 422px,#a8327d 449px,#ae347b 455.5px,#b73779 458.5px,#c03a76 460px,#d2426f 461px,#c03a76 461.5px,#962c80 462px,#982d80 518px,#9e2f7f 588.5px,#a6317d 639.5px,#b2357b 688.5px,#bc3978 718.5px,#c73d73 740.5px,#d0416f 748px,#d9466b 750.5px,#e85362 752px,#d8456c 752.5px,#bf3a77 753px,#bf3a77 756.5px,#cd4071 793.5px,#dc4869 826.5px,#ea5661 855px,#f2645c 872.5px,#f66d5c 879.5px,#f8745c 883px,#f9795d 884px,#fb8560 884.5px,#fa815f 885px,#f7725c 885.5px,#f9785d 889px,#fb8560 894px,#fd9266 897px,#fe9d6c 898.5px,#fea973 899.5px,#feb27a 900px,#fec287 900.5px,#fecd90 901px,#feaa74 901.5px,#e75263 902px,#e85362 905px,#f05f5e 921.5px,#f66d5c 935px,#f9795d 942.5px,#fa7f5e 943.5px,#fb8660 944px,#fa815f 944.5px,#f8765c 945px,#f8765c 945.5px,#fb835f 953.5px,#fc8b62 956px,#fc9065 956.5px,#fd9266 957px,#fc8861 958px,#fc8961 958.5px,#fd9668 964px,#fea973 969px,#fec185 972.5px,#fec185 975.5px)}
.c236{background:linear-gradient(#f2645c 0.5px,#e55064 65.5px,#d9466b 101.5px,#cc3f71 143.5px,#bd3977 192.5px,#b0357b 248.5px,#a6317d 309px,#a1307e 362px,#a1307e 422.5px,#a8327d 449px,#ad347c 454.5px,#b73779 458.5px,#c13b76 460px,#c83e73 460.5px,#d3436e 461px,#c13b76 461.5px,#962c80 462px,#982d80 518.5px,#9e2f7f 589px,#aa337d 655.5px,#b5367a 699.5px,#bf3a76 726.5px,#ca3e72 744px,#d0416f 748px,#d6456c 750px,#de4968 751px,#e34e65 751.5px,#ed5a5f 752px,#e34e65 752.5px,#bf3a77 753px,#bf3a77 756.5px,#d3436e 807.5px,#e34e65 840.5px,#ec5960 859.5px,#f2645c 872.5px,#f7705c 881.5px,#f8765c 883.5px,#fa7d5e 884.5px,#f9795d 885px,#f7725c 885.5px,#f7725c 886px,#fb835f 893.5px,#fd9266 897px,#fe9d6c 898.5px,#fea973 899.5px,#feb27a 900px,#fec185 900.5px,#fed597 901px,#feb97f 901.5px,#e75263 902px,#ea5661 909.5px,#f1605d 923.5px,#f66c5c 935px,#f9795d 942.5px,#fb8761 944.5px,#f8765c 945.5px,#fb835f 953.5px,#fb8761 955px,#fc9065 957px,#fb8761 958px,#fd9467 963.5px,#fea06e 967px,#feae77 970px,#fec185 972.5px,#fec185 975.5px)}
.c237{background:linear-gradient(#f2645c 0.5px,#e55064 65.5px,#db476a 97px,#cc3f71 143.5px,#bc3978 198.5px,#b0357b 248.5px,#a6317d 309px,#a1307e 361.5px,#a1307e 422.5px,#a6317d 446px,#ab337c 453px,#b2357b 457px,#b73779 458.5px,#c13b76 460px,#c83e73 460.5px,#d5446d 461px,#c23b75 461.5px,#962c80 462px,#982d80 519px,#9e2f7f 589px,#a8327d 648px,#b5367a 699.5px,#bf3a77 726.5px,#ca3e72 744px,#d0416f 748px,#d9466b 750.5px,#e34e65 751.5px,#f05f5e 752px,#e85362 752.5px,#be3a77 753px,#bf3a77 756.5px,#d3436e 807.5px,#e34e65 840.5px,#ec5860 859.5px,#f2645c 872.5px,#f7725c 882.5px,#f9785d 884px,#fa7d5e 884.5px,#f7725c 885.5px,#f7725c 886px,#f9795d 890px,#fb835f 893.5px,#fc8c63 896px,#fd9869 898px,#fea16e 899px,#feb078 900px,#febf84 900.5px,#fdda9c 901px,#fec185 901.5px,#e75263 902px,#f05f5e 921.5px,#f66c5c 935px,#f9795d 942.5px,#fb8560 944.5px,#f97b5d 945px,#f8765c 945.5px,#fb835f 953.5px,#fb8761 955px,#fc8e64 956.5px,#fc8f64 957px,#fb8761 958px,#fd9467 963.5px,#fea06d 967px,#feae77 970px,#fec185 972.5px,#fec186 975.5px)}
.c238{background:linear-gradient(#f2645c 0.5px,#e75263 61px,#db476a 97px,#cc3f71 143.5px,#bc3978 198.5px,#b0357b 248.5px,#a6317d 308.5px,#a1307e 361px,#a1307e 423px,#a6317d 446px,#ab337c 453px,#b2357b 457px,#b73779 458.5px,#bd3977 459.5px,#c93e72 460.5px,#d5446d 461px,#c43c75 461.5px,#962c80 462px,#982d80 519.5px,#9e2f7f 589px,#a8327d 648px,#b3367a 694.5px,#bf3a77 726.5px,#c83e73 742.5px,#cd4071 746.5px,#d6456c 750px,#dc4869 751px,#e34e65 751.5px,#ed5a5f 752px,#e34e65 752.5px,#be3a77 753px,#bf3a77 756.5px,#d0416f 801px,#de4968 829.5px,#e95462 853px,#f2625d 871px,#f7725c 882.5px,#f97b5d 884.5px,#f7725c 885.5px,#f7725c 886px,#fa815f 893px,#fc8e64 896.5px,#fd9b6b 898.5px,#fea772 899.5px,#feb078 900px,#febd82 900.5px,#fed194 901px,#feb67c 901.5px,#e75263 902px,#e95461 907.5px,#f1605d 923.5px,#f66e5c 936.5px,#f9785d 942px,#fa7d5e 943.5px,#fb835f 944px,#fb835f 944.5px,#f97a5d 945px,#f8765c 945.5px,#fb835f 953.5px,#fb8761 955px,#fc8e64 956.5px,#fc8e64 957px,#fb8761 958px,#fd9467 963.5px,#fe9f6d 967px,#feaa74 969.5px,#feb47b 971px,#fec185 972.5px,#fec287 975.5px)}
.c239{background:linear-gradient(#f2645c 0.5px,#e75263 61px,#db476a 97px,#cc3f71 143.5px,#bc3978 198.5px,#af347b 256.5px,#a6317d 308.5px,#a1307e 361px,#a1307e 423px,#a6317d 446px,#ab337c 453px,#b2357b 457px,#b73779 458.5px,#bd3977 459.5px,#c23b75 460px,#ca3e72 460.5px,#d6456c 461px,#c53c74 461.5px,#962c80 462px,#982d80 519.5px,#9e2f7f 589.5px,#a6317d 640px,#b3367a 694.5px,#bf3a77 726.5px,#c83e73 742.5px,#cd4071 746.5px,#d6456c 750px,#dc4869 751px,#e34d65 751.5px,#eb5760 752px,#e04c67 752.5px,#be3977 753px,#bf3a76 757px,#d0416f 801px,#df4a68 832.5px,#e95462 853px,#f2625d 871px,#f7725c 882.5px,#f9785d 884px,#fb835f 884.5px,#fa7f5e 885px,#f7725c 885.5px,#f9795d 890px,#fa815f 893px,#fc8e64 896.5px,#fd9b6b 898.5px,#fea772 899.5px,#feaf77 900px,#febc81 900.5px,#fecd90 901px,#feaf78 901.5px,#e75263 902px,#e95462 907.5px,#f1605d 923.5px,#f66e5c 936.5px,#f9785d 942px,#fa7d5e 943.5px,#fb835f 944px,#fa815f 944.5px,#f9795d 945px,#f8765c 945.5px,#fb835f 953.5px,#fb8761 955px,#fc8e64 956.5px,#fc8e64 957px,#fc8961 957.5px,#fb8761 958px,#fd9467 963.5px,#fea16e 967.5px,#feb079 970.5px,#fec185 972.5px,#fec287 973px,#fec287 975.5px)}
.c240{background:linear-gradient(#f2645c 0.5px,#e75163 61px,#dc4869 92.5px,#ca3e72 148px,#bc3978 198.5px,#ae347b 256.5px,#a6317d 308.5px,#a1307e 360.5px,#a1307e 423px,#a6317d 446px,#ab337c 453px,#b2357b 457px,#b73779 458.5px,#bd3977 459.5px,#c23b75 460px,#ca3e72 460.5px,#d6456c 461px,#c63c74 461.5px,#962c80 462px,#982d80 520px,#9e2f7f 589.5px,#a6317d 640px,#b3367a 694.5px,#bf3a77 726.5px,#c83e73 742.5px,#cf4170 747.5px,#d6456c 750px,#dc4869 751px,#e24d66 751.5px,#ea5661 752px,#df4a68 752.5px,#be3977 753px,#bf3a77 757px,#d2426f 804.5px,#e24d66 838px,#eb5760 857.5px,#f2625d 871px,#f56b5c 878.5px,#f7725c 882.5px,#f9785d 884px,#fa815f 884.5px,#fa7d5e 885px,#f7725c 885.5px,#f7725c 886px,#fa815f 893px,#fc8e64 896.5px,#fd9b6b 898.5px,#feae77 900px,#febb81 900.5px,#fcf2b4 901px,#fde3a5 901.5px,#e75263 902px,#f1605d 923.5px,#f7725c 939px,#f9785d 942px,#fa7d5e 943.5px,#fb815f 944px,#fd9b6b 944.5px,#fd9668 945px,#f8765c 945.5px,#fb8560 954.5px,#fc8a62 956px,#fc8e64 956.5px,#fd9668 957px,#fd9266 957.5px,#fb8761 958px,#fd9467 963.5px,#fea16e 967.5px,#feb078 970.5px,#fec185 972.5px,#fec287 973px,#fec287 975.5px)}
.c241{background:linear-gradient(#f2645c 0.5px,#e85362 56.5px,#dc4869 92.5px,#cc3f71 143px,#bd3977 192px,#b0357b 248px,#a6317d 308.5px,#a1307e 360.5px,#a1307e 423px,#a6317d 446px,#ad347c 454.5px,#b73779 458.5px,#c23b75 460px,#ca3e72 460.5px,#d8456c 461px,#c73d73 461.5px,#962c80 462px,#982d80 520px,#9c2e7f 576.5px,#a5317e 631.5px,#b2357b 689px,#bd3977 723px,#c83e73 742.5px,#cf4170 747.5px,#d6456c 750px,#dc4869 751px,#e24d66 751.5px,#e95561 752px,#de4968 752.5px,#be3977 753px,#bf3a77 757px,#d2426f 804.5px,#e24d66 838px,#eb5760 857.5px,#f2625d 871px,#f56b5c 878.5px,#f7725c 882.5px,#f9785d 884px,#fa7f5e 884.5px,#f97b5d 885px,#f7725c 885.5px,#f7725c 886px,#fa815f 893px,#fd9467 897.5px,#fea06e 899px,#feae77 900px,#febb81 900.5px,#fde0a1 901px,#fecd90 901.5px,#e75263 902px,#ee5c5e 918px,#f66e5c 936.5px,#f9785d 942px,#fa7d5e 943.5px,#fa815f 944px,#fc8961 944.5px,#fa815f 945px,#f8765c 945.5px,#fb8560 954.5px,#fc8a62 956px,#fd9467 957px,#fc9065 957.5px,#fb8761 958px,#fd9467 963.5px,#fea36f 968px,#feb078 970.5px,#fec185 972.5px,#fec287 973px,#fec287 975.5px)}
.c242{background:linear-gradient(#f2645c 0.5px,#e85362 56.5px,#dc4869 92.5px,#cc3f71 143px,#bd3977 192px,#b0357b 248px,#a8327d 296px,#a1307e 360.5px,#a1307e 423.5px,#a6317d 446px,#ad347c 454.5px,#b73779 458.5px,#c23b75 460px,#ca3e72 460.5px,#d8456c 461px,#c73d73 461.5px,#962c80 462px,#982d80 520px,#9c2e7f 576.5px,#a5317e 631.5px,#b2357b 689px,#bd3977 723px,#c83e73 742.5px,#cf4070 747.5px,#d6456c 750px,#dc4869 751px,#e24d66 751.5px,#e95462 752px,#dd4969 752.5px,#be3977 753px,#bf3a77 757px,#d2426f 804.5px,#e24d66 838px,#eb5760 857.5px,#f2625d 871px,#f56b5c 878.5px,#f7725c 882.5px,#f9785d 884px,#fa7f5e 884.5px,#f97b5d 885px,#f7725c 885.5px,#f7725c 886px,#fa815f 893px,#fd9467 897.5px,#fea06d 899px,#feae77 900px,#feb97f 900.5px,#fddc9e 901px,#fec68a 901.5px,#e75263 902px,#ee5c5e 918px,#f66e5c 936.5px,#f9785d 942px,#fa7d5e 943.5px,#fb8761 944.5px,#f8765c 945.5px,#f8765c 946px,#fb8560 954.5px,#fc8a62 956px,#fd9366 957px,#fb8761 958px,#fd9a6a 965.5px,#fea36f 968px,#feb078 970.5px,#fec185 972.5px,#fec287 973px,#fec287 975.5px)}
.c243{background:linear-gradient(#f2645c 0.5px,#e85362 56.5px,#dc4869 92.5px,#cc3f71 143px,#bd3977 192px,#b0357b 248px,#a8327d 296px,#a1307e 360px,#a1307e 423.5px,#a6317d 446px,#ad347c 454.5px,#b73779 458.5px,#c23b75 460px,#ca3e72 460.5px,#d8456c 461px,#c83e73 461.5px,#962c80 462px,#982d80 520.5px,#9c2e7f 576.5px,#a5317e 631.5px,#b2357b 689px,#bd3977 723px,#c83e73 742.5px,#cf4070 747.5px,#d6456c 750px,#dc4869 751px,#e24d66 751.5px,#e95462 752px,#dc4869 752.5px,#be3977 753px,#bf3a77 757px,#d2426f 804.5px,#e24d66 838px,#eb5760 857.5px,#f2625d 871px,#f56b5c 878.5px,#f7725c 882.5px,#f9785d 884px,#fa7f5e 884.5px,#f97b5d 885px,#f7725c 885.5px,#f7725c 886px,#fa815f 893px,#fd9467 897.5px,#fe9f6d 899px,#feae77 900px,#feb97f 900.5px,#fdda9c 901px,#fec488 901.5px,#e75263 902px,#ee5c5e 918px,#f66e5c 936.5px,#f9785d 942px,#fa7d5e 943.5px,#fb8560 944.5px,#fa7f5e 945px,#f8765c 945.5px,#f8765c 946px,#fb8560 954.5px,#fc8a62 956px,#fd9266 957px,#fc8e64 957.5px,#fb8761 958px,#fd9266 963px,#fea36f 968px,#feb078 970.5px,#fec185 972.5px,#fec287 973px,#fec287 975.5px)}
.m{flex:0 0 1px!important;background:linear-gradient(#f2645c 0.5px,#e85362 56.5px,#dc4869 92.5px,#cc3f71 143px,#bd3977 192px,#b0357b 248px,#a8327d 296px,#a1307e 360px,#a1307e 423.5px,#a6317d 446px,#ad347c 454.5px,#b73779 458.5px,#c23b75 460px,#ca3e72 460.5px,#d8466b 461px,#c83e73 461.5px,#962c80 462px,#982d80 520.5px,#9c2e7f 576.5px,#a5317e 631.5px,#b2357b 689px,#bd3977 723px,#c83e73 742.5px,#cf4070 747.5px,#d6456c 750px,#dc4869 751px,#e24d66 751.5px,#e95462 752px,#dc4869 752.5px,#be3977 753px,#bf3a77 757px,#d2426f 804.5px,#e24d66 838px,#eb5760 857.5px,#f2625d 871px,#f56b5c 878.5px,#f7725c 882.5px,#f9785d 884px,#fa7f5e 884.5px,#f97b5d 885px,#f7725c 885.5px,#f7725c 886px,#fa815f 893px,#fd9467 897.5px,#fe9f6d 899px,#feae77 900px,#feb97f 900.5px,#fdda9c 901px,#fec488 901.5px,#e75263 902px,#ee5c5e 918px,#f66c5c 935px,#f9785d 942px,#fa7d5e 943.5px,#fb8560 944.5px,#fa7f5e 945px,#f8765c 945.5px,#f8765c 946px,#fb8560 954.5px,#fc8a62 956px,#fd9266 957px,#fc8e64 957.5px,#fb8761 958px,#fd9266 963px,#fea36f 968px,#feb078 970.5px,#fec185 972.5px,#fec287 973px,#fec287 975.5px)}
</style></head><body><div id="p"><div id="d">
<i class="c0"></i><i class="c1"></i><i class="c2"></i><i class="c3"></i><i class="c4"></i><i class="c5"></i><i class="c6"></i><i class="c7"></i><i class="c8"></i><i class="c9"></i><i class="c10"></i><i class="c11"></i><i class="c12"></i><i class="c13"></i><i class="c14"></i><i class="c15"></i><i class="c16"></i><i class="c17"></i><i class="c18"></i><i class="c19"></i><i class="c20"></i><i class="c21"></i><i class="c22"></i><i class="c23"></i><i class="c24"></i><i class="c25"></i><i class="c26"></i><i class="c27"></i><i class="c28"></i><i class="c29"></i><i class="c30"></i><i class="c31"></i><i class="c32"></i><i class="c33"></i><i class="c34"></i><i class="c35"></i><i class="c36"></i><i class="c37"></i><i class="c38"></i><i class="c39"></i><i class="c40"></i><i class="c41"></i><i class="c42"></i><i class="c43"></i><i class="c44"></i><i class="c45"></i><i class="c46"></i><i class="c47"></i><i class="c48"></i><i class="c49"></i><i class="c50"></i><i class="c51"></i><i class="c52"></i><i class="c53"></i><i class="c54"></i><i class="c55"></i><i class="c56"></i><i class="c57"></i><i class="c58"></i><i class="c59"></i><i class="c60"></i><i class="c61"></i><i class="c62"></i><i class="c63"></i><i class="c64"></i><i class="c65"></i><i class="c66"></i><i class="c67"></i><i class="c68"></i><i class="c69"></i><i class="c70"></i><i class="c71"></i><i class="c72"></i><i class="c73"></i><i class="c74"></i><i class="c75"></i><i class="c76"></i><i class="c77"></i><i class="c78"></i><i class="c79"></i><i class="c80"></i><i class="c81"></i><i class="c82"></i><i class="c83"></i><i class="c84"></i><i class="c85"></i><i class="c86"></i><i class="c87"></i><i class="c88"></i><i class="c89"></i><i class="c90"></i><i class="c91"></i><i class="c92"></i><i class="c93"></i><i class="c94"></i><i class="c95"></i><i class="c96"></i><i class="c97"></i><i class="c98"></i><i class="c99"></i><i class="c100"></i><i class="c101"></i><i class="c102"></i><i class="c103"></i><i class="c104"></i><i class="c105"></i><i class="c106"></i><i class="c107"></i><i class="c108"></i><i class="c109"></i><i class="c110"></i><i class="c111"></i><i class="c112"></i><i class="c113"></i><i class="c114"></i><i class="c115"></i><i class="c116"></i><i class="c117"></i><i class="c118"></i><i class="c119"></i><i class="c120"></i><i class="c121"></i><i class="c122"></i><i class="c123"></i><i class="c124"></i><i class="c125"></i><i class="c126"></i><i class="c127"></i><i class="c128"></i><i class="c129"></i><i class="c130"></i><i class="c131"></i><i class="c132"></i><i class="c133"></i><i class="c134"></i><i class="c135"></i><i class="c136"></i><i class="c137"></i><i class="c138"></i><i class="c139"></i><i class="c140"></i><i class="c141"></i><i class="c142"></i><i class="c143"></i><i class="c144"></i><i class="c145"></i><i class="c146"></i><i class="c147"></i><i class="c148"></i><i class="c149"></i><i class="c150"></i><i class="c151"></i><i class="c152"></i><i class="c153"></i><i class="c154"></i><i class="c155"></i><i class="c156"></i><i class="c157"></i><i class="c158"></i><i class="c159"></i><i class="c160"></i><i class="c161"></i><i class="c162"></i><i class="c163"></i><i class="c164"></i><i class="c165"></i><i class="c166"></i><i class="c167"></i><i class="c168"></i><i class="c169"></i><i class="c170"></i><i class="c171"></i><i class="c172"></i><i class="c173"></i><i class="c174"></i><i class="c175"></i><i class="c176"></i><i class="c177"></i><i class="c178"></i><i class="c179"></i><i class="c180"></i><i class="c181"></i><i class="c182"></i><i class="c183"></i><i class="c184"></i><i class="c185"></i><i class="c186"></i><i class="c187"></i><i class="c188"></i><i class="c189"></i><i class="c190"></i><i class="c191"></i><i class="c192"></i><i class="c193"></i><i class="c194"></i><i class="c195"></i><i class="c196"></i><i class="c197"></i><i class="c198"></i><i class="c199"></i><i class="c200"></i><i class="c201"></i><i class="c202"></i><i class="c203"></i><i class="c204"></i><i class="c205"></i><i class="c206"></i><i class="c207"></i><i class="c208"></i><i class="c209"></i><i class="c210"></i><i class="c211"></i><i class="c212"></i><i class="c213"></i><i class="c214"></i><i class="c215"></i><i class="c216"></i><i class="c217"></i><i class="c218"></i><i class="c219"></i><i class="c220"></i><i class="c221"></i><i class="c222"></i><i class="c223"></i><i class="c224"></i><i class="c225"></i><i class="c226"></i><i class="c227"></i><i class="c228"></i><i class="c229"></i><i class="c230"></i><i class="c231"></i><i class="c232"></i><i class="c233"></i><i class="c234"></i><i class="c235"></i><i class="c236"></i><i class="c237"></i><i class="c238"></i><i class="c239"></i><i class="c240"></i><i class="c241"></i><i class="c242"></i><i class="c243"></i><i class="m"></i><i class="c243"></i><i class="c242"></i><i class="c241"></i><i class="c240"></i><i class="c239"></i><i class="c238"></i><i class="c237"></i><i class="c236"></i><i class="c235"></i><i class="c234"></i><i class="c233"></i><i class="c232"></i><i class="c231"></i><i class="c230"></i><i class="c229"></i><i class="c228"></i><i class="c227"></i><i class="c226"></i><i class="c225"></i><i class="c224"></i><i class="c223"></i><i class="c222"></i><i class="c221"></i><i class="c220"></i><i class="c219"></i><i class="c218"></i><i class="c217"></i><i class="c216"></i><i class="c215"></i><i class="c214"></i><i class="c213"></i><i class="c212"></i><i class="c211"></i><i class="c210"></i><i class="c209"></i><i class="c208"></i><i class="c207"></i><i class="c206"></i><i class="c205"></i><i class="c204"></i><i class="c203"></i><i class="c202"></i><i class="c201"></i><i class="c200"></i><i class="c199"></i><i class="c198"></i><i class="c197"></i><i class="c196"></i><i class="c195"></i><i class="c194"></i><i class="c193"></i><i class="c192"></i><i class="c191"></i><i class="c190"></i><i class="c189"></i><i class="c188"></i><i class="c187"></i><i class="c186"></i><i class="c185"></i><i class="c184"></i><i class="c183"></i><i class="c182"></i><i class="c181"></i><i class="c180"></i><i class="c179"></i><i class="c178"></i><i class="c177"></i><i class="c176"></i><i class="c175"></i><i class="c174"></i><i class="c173"></i><i class="c172"></i><i class="c171"></i><i class="c170"></i><i class="c169"></i><i class="c168"></i><i class="c167"></i><i class="c166"></i><i class="c165"></i><i class="c164"></i><i class="c163"></i><i class="c162"></i><i class="c161"></i><i class="c160"></i><i class="c159"></i><i class="c158"></i><i class="c157"></i><i class="c156"></i><i class="c155"></i><i class="c154"></i><i class="c153"></i><i class="c152"></i><i class="c151"></i><i class="c150"></i><i class="c149"></i><i class="c148"></i><i class="c147"></i><i class="c146"></i><i class="c145"></i><i class="c144"></i><i class="c143"></i><i class="c142"></i><i class="c141"></i><i class="c140"></i><i class="c139"></i><i class="c138"></i><i class="c137"></i><i class="c136"></i><i class="c135"></i><i class="c134"></i><i class="c133"></i><i class="c132"></i><i class="c131"></i><i class="c130"></i><i class="c129"></i><i class="c128"></i><i class="c127"></i><i class="c126"></i><i class="c125"></i><i class="c124"></i><i class="c123"></i><i class="c122"></i><i class="c121"></i><i class="c120"></i><i class="c119"></i><i class="c118"></i><i class="c117"></i><i class="c116"></i><i class="c115"></i><i class="c114"></i><i class="c113"></i><i class="c112"></i><i class="c111"></i><i class="c110"></i><i class="c109"></i><i class="c108"></i><i class="c107"></i><i class="c106"></i><i class="c105"></i><i class="c104"></i><i class="c103"></i><i class="c102"></i><i class="c101"></i><i class="c100"></i><i class="c99"></i><i class="c98"></i><i class="c97"></i><i class="c96"></i><i class="c95"></i><i class="c94"></i><i class="c93"></i><i class="c92"></i><i class="c91"></i><i class="c90"></i><i class="c89"></i><i class="c88"></i><i class="c87"></i><i class="c86"></i><i class="c85"></i><i class="c84"></i><i class="c83"></i><i class="c82"></i><i class="c81"></i><i class="c80"></i><i class="c79"></i><i class="c78"></i><i class="c77"></i><i class="c76"></i><i class="c75"></i><i class="c74"></i><i class="c73"></i><i class="c72"></i><i class="c71"></i><i class="c70"></i><i class="c69"></i><i class="c68"></i><i class="c67"></i><i class="c66"></i><i class="c65"></i><i class="c64"></i><i class="c63"></i><i class="c62"></i><i class="c61"></i><i class="c60"></i><i class="c59"></i><i class="c58"></i><i class="c57"></i><i class="c56"></i><i class="c55"></i><i class="c54"></i><i class="c53"></i><i class="c52"></i><i class="c51"></i><i class="c50"></i><i class="c49"></i><i class="c48"></i><i class="c47"></i><i class="c46"></i><i class="c45"></i><i class="c44"></i><i class="c43"></i><i class="c42"></i><i class="c41"></i><i class="c40"></i><i class="c39"></i><i class="c38"></i><i class="c37"></i><i class="c36"></i><i class="c35"></i><i class="c34"></i><i class="c33"></i><i class="c32"></i><i class="c31"></i><i class="c30"></i><i class="c29"></i><i class="c28"></i><i class="c27"></i><i class="c26"></i><i class="c25"></i><i class="c24"></i><i class="c23"></i><i class="c22"></i><i class="c21"></i><i class="c20"></i><i class="c19"></i><i class="c18"></i><i class="c17"></i><i class="c16"></i><i class="c15"></i><i class="c14"></i><i class="c13"></i><i class="c12"></i><i class="c11"></i><i class="c10"></i><i class="c9"></i><i class="c8"></i><i class="c7"></i><i class="c6"></i><i class="c5"></i><i class="c4"></i><i class="c3"></i><i class="c2"></i><i class="c1"></i><i class="c0"></i>
</div>
<svg width="1250" height="1229" viewBox="0 0 1250 1229" style="position:absolute;left:0;top:0">
<g font-family="'Liberation Serif','DejaVu Serif',serif" fill="#000">
<text transform="translate(97.39 167.80) scale(1.0222 1.0839)" font-size="68" stroke="#fff" stroke-width="0.90">SKA-Mid</text>
<text transform="translate(613.91 80.40) scale(1.0286 1.0244)" font-size="68" stroke="#fff" stroke-width="0.90">0<tspan x="34.33" y="-15.48" font-size="43.53" stroke="#000" stroke-width="0.6">°</tspan></text>
<text transform="translate(1147.99 630.60) scale(0.9632 1.0244)" font-size="68" stroke="#fff" stroke-width="0.90">90<tspan x="68.59" y="-15.47" font-size="43.84" stroke="#000" stroke-width="0.6">°</tspan></text>
<text transform="translate(578.66 1180.20) scale(0.9751 1.0244)" font-size="68" stroke="#fff" stroke-width="0.90">180<tspan x="103.33" y="-15.46" font-size="44.15" stroke="#000" stroke-width="0.6">°</tspan></text>
<text transform="translate(31.68 630.40) scale(0.9780 1.0444)" font-size="68" stroke="#fff" stroke-width="0.90">270<tspan x="103.39" y="-15.10" font-size="42.40" stroke="#000" stroke-width="0.6">°</tspan></text>
<text transform="translate(702.93 450.80) scale(0.9918 1.0222)" font-size="68" stroke="#aa337b" stroke-width="0.90">30</text>
<text transform="translate(765.26 300.00) scale(0.9837 1.0133)" font-size="68" stroke="#d0436b" stroke-width="0.90">60</text>
<text transform="translate(784.27 251.20) scale(0.9867 1.0311)" font-size="68" stroke="#e05063" stroke-width="0.90">70</text>
<defs><radialGradient id="h8" gradientUnits="userSpaceOnUse" cx="644.5" cy="613.5" r="500" gradientTransform="scale(1.03338 0.96984) translate(-807.90 -201.60)"><stop offset="0.9724" stop-color="#e65b5a"/><stop offset="0.9724" stop-color="#fff"/></radialGradient></defs>
<text transform="translate(807.90 201.60) scale(0.9677 1.0311)" font-size="68" stroke="url(#h8)" stroke-width="0.90">80</text>
</g>
<g fill="none" stroke="#b0b0b0" stroke-width="3.33">
<ellipse cx="644.5" cy="613.5" rx="161.78" ry="162.07"/>
<ellipse cx="644.5" cy="613.5" rx="323.57" ry="324.13"/>
<ellipse cx="644.5" cy="613.5" rx="377.49" ry="378.16"/>
<ellipse cx="644.5" cy="613.5" rx="431.42" ry="432.18"/>
<path d="M644.9 127.3V1099.7M159.1 614.6H1129.8"/>
</g>
<ellipse cx="644.5" cy="613.5" rx="485.35" ry="486.20" fill="none" stroke="#000" stroke-width="3.70"/>
</svg>
</div></body></html>
